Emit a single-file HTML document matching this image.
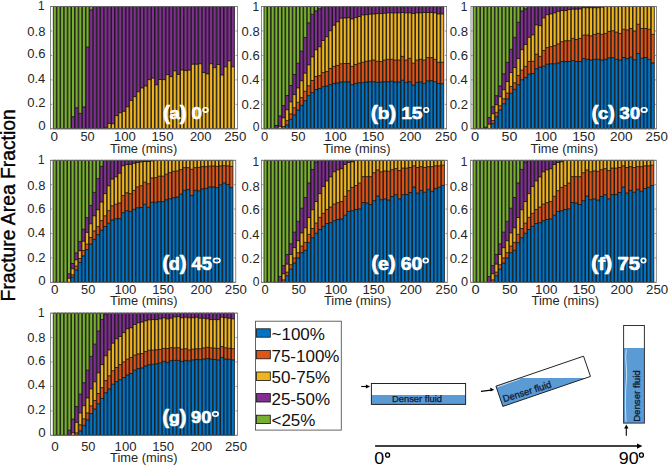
<!DOCTYPE html>
<html><head><meta charset="utf-8"><style>
html,body{margin:0;padding:0;background:#fff;}
svg{display:block;}
text{font-family:"Liberation Sans", sans-serif;}
</style></head><body>
<svg width="669" height="467" viewBox="0 0 669 467">
<rect width="669" height="467" fill="#fff"/>
<g fill="#111">
<rect x="50.5" y="6.5" width="186.9" height="122.3" fill="#fff"/>
<rect x="53.33" y="6.5" width="3.04" height="122.3" fill="#79AF2E"/>
<rect x="56.96" y="6.5" width="3.04" height="122.3" fill="#79AF2E"/>
<rect x="60.6" y="6.5" width="3.04" height="122.3" fill="#79AF2E"/>
<rect x="64.23" y="6.5" width="3.04" height="122.3" fill="#79AF2E"/>
<rect x="67.86" y="6.5" width="3.04" height="122.3" fill="#79AF2E"/>
<rect x="71.5" y="116.69" width="3.04" height="12.11" fill="#812F91"/>
<rect x="71.5" y="6.5" width="3.04" height="110.19" fill="#79AF2E"/>
<rect x="75.13" y="107.76" width="3.04" height="21.04" fill="#812F91"/>
<rect x="75.13" y="6.5" width="3.04" height="101.26" fill="#79AF2E"/>
<rect x="78.77" y="113.39" width="3.04" height="15.41" fill="#812F91"/>
<rect x="78.77" y="6.5" width="3.04" height="106.89" fill="#79AF2E"/>
<rect x="82.4" y="106.91" width="3.04" height="21.89" fill="#812F91"/>
<rect x="82.4" y="6.5" width="3.04" height="100.41" fill="#79AF2E"/>
<rect x="86.03" y="47.1" width="3.04" height="81.7" fill="#812F91"/>
<rect x="86.03" y="6.5" width="3.04" height="40.6" fill="#79AF2E"/>
<rect x="89.67" y="9.8" width="3.04" height="119" fill="#812F91"/>
<rect x="89.67" y="6.5" width="3.04" height="3.3" fill="#79AF2E"/>
<rect x="93.3" y="6.5" width="3.04" height="122.3" fill="#812F91"/>
<rect x="96.93" y="6.5" width="3.04" height="122.3" fill="#812F91"/>
<rect x="100.57" y="6.5" width="3.04" height="122.3" fill="#812F91"/>
<rect x="104.2" y="127.82" width="3.04" height="0.98" fill="#F0B41E"/>
<rect x="104.2" y="6.5" width="3.04" height="121.32" fill="#812F91"/>
<rect x="107.84" y="123.42" width="3.04" height="5.38" fill="#F0B41E"/>
<rect x="107.84" y="6.5" width="3.04" height="116.92" fill="#812F91"/>
<rect x="111.47" y="123.79" width="3.04" height="5.01" fill="#F0B41E"/>
<rect x="111.47" y="6.5" width="3.04" height="117.29" fill="#812F91"/>
<rect x="115.1" y="115.59" width="3.04" height="13.21" fill="#F0B41E"/>
<rect x="115.1" y="6.5" width="3.04" height="109.09" fill="#812F91"/>
<rect x="118.74" y="112.78" width="3.04" height="16.02" fill="#F0B41E"/>
<rect x="118.74" y="6.5" width="3.04" height="106.28" fill="#812F91"/>
<rect x="122.37" y="111.31" width="3.04" height="17.49" fill="#F0B41E"/>
<rect x="122.37" y="6.5" width="3.04" height="104.81" fill="#812F91"/>
<rect x="126" y="106.79" width="3.04" height="22.01" fill="#F0B41E"/>
<rect x="126" y="6.5" width="3.04" height="100.29" fill="#812F91"/>
<rect x="129.64" y="100.43" width="3.04" height="28.37" fill="#F0B41E"/>
<rect x="129.64" y="6.5" width="3.04" height="93.93" fill="#812F91"/>
<rect x="133.27" y="96.64" width="3.04" height="32.16" fill="#F0B41E"/>
<rect x="133.27" y="6.5" width="3.04" height="90.14" fill="#812F91"/>
<rect x="136.9" y="91.74" width="3.04" height="37.06" fill="#F0B41E"/>
<rect x="136.9" y="6.5" width="3.04" height="85.24" fill="#812F91"/>
<rect x="140.54" y="87.95" width="3.04" height="40.85" fill="#F0B41E"/>
<rect x="140.54" y="6.5" width="3.04" height="81.45" fill="#812F91"/>
<rect x="144.17" y="86" width="3.04" height="42.81" fill="#F0B41E"/>
<rect x="144.17" y="6.5" width="3.04" height="79.5" fill="#812F91"/>
<rect x="147.81" y="79.64" width="3.04" height="49.16" fill="#F0B41E"/>
<rect x="147.81" y="6.5" width="3.04" height="73.14" fill="#812F91"/>
<rect x="151.44" y="78.17" width="3.04" height="50.63" fill="#F0B41E"/>
<rect x="151.44" y="6.5" width="3.04" height="71.67" fill="#812F91"/>
<rect x="155.07" y="84.77" width="3.04" height="44.03" fill="#F0B41E"/>
<rect x="155.07" y="6.5" width="3.04" height="78.27" fill="#812F91"/>
<rect x="158.71" y="79.51" width="3.04" height="49.29" fill="#F0B41E"/>
<rect x="158.71" y="6.5" width="3.04" height="73.01" fill="#812F91"/>
<rect x="162.34" y="79.64" width="3.04" height="49.16" fill="#F0B41E"/>
<rect x="162.34" y="6.5" width="3.04" height="73.14" fill="#812F91"/>
<rect x="165.97" y="74.62" width="3.04" height="54.18" fill="#F0B41E"/>
<rect x="165.97" y="6.5" width="3.04" height="68.12" fill="#812F91"/>
<rect x="169.61" y="76.58" width="3.04" height="52.22" fill="#F0B41E"/>
<rect x="169.61" y="6.5" width="3.04" height="70.08" fill="#812F91"/>
<rect x="173.24" y="70.83" width="3.04" height="57.97" fill="#F0B41E"/>
<rect x="173.24" y="6.5" width="3.04" height="64.33" fill="#812F91"/>
<rect x="176.87" y="74.38" width="3.04" height="54.42" fill="#F0B41E"/>
<rect x="176.87" y="6.5" width="3.04" height="67.88" fill="#812F91"/>
<rect x="180.51" y="69.97" width="3.04" height="58.83" fill="#F0B41E"/>
<rect x="180.51" y="6.5" width="3.04" height="63.47" fill="#812F91"/>
<rect x="184.14" y="70.59" width="3.04" height="58.21" fill="#F0B41E"/>
<rect x="184.14" y="6.5" width="3.04" height="64.09" fill="#812F91"/>
<rect x="187.78" y="70.1" width="3.04" height="58.7" fill="#F0B41E"/>
<rect x="187.78" y="6.5" width="3.04" height="63.6" fill="#812F91"/>
<rect x="191.41" y="64.23" width="3.04" height="64.57" fill="#F0B41E"/>
<rect x="191.41" y="6.5" width="3.04" height="57.73" fill="#812F91"/>
<rect x="195.04" y="64.23" width="3.04" height="64.57" fill="#F0B41E"/>
<rect x="195.04" y="6.5" width="3.04" height="57.73" fill="#812F91"/>
<rect x="198.68" y="63.74" width="3.04" height="65.06" fill="#F0B41E"/>
<rect x="198.68" y="6.5" width="3.04" height="57.24" fill="#812F91"/>
<rect x="202.31" y="72.54" width="3.04" height="56.26" fill="#F0B41E"/>
<rect x="202.31" y="6.5" width="3.04" height="66.04" fill="#812F91"/>
<rect x="205.94" y="73.89" width="3.04" height="54.91" fill="#F0B41E"/>
<rect x="205.94" y="6.5" width="3.04" height="67.39" fill="#812F91"/>
<rect x="209.58" y="63.74" width="3.04" height="65.06" fill="#F0B41E"/>
<rect x="209.58" y="6.5" width="3.04" height="57.24" fill="#812F91"/>
<rect x="213.21" y="67.65" width="3.04" height="61.15" fill="#F0B41E"/>
<rect x="213.21" y="6.5" width="3.04" height="61.15" fill="#812F91"/>
<rect x="216.85" y="64.47" width="3.04" height="64.33" fill="#F0B41E"/>
<rect x="216.85" y="6.5" width="3.04" height="57.97" fill="#812F91"/>
<rect x="220.48" y="74.99" width="3.04" height="53.81" fill="#F0B41E"/>
<rect x="220.48" y="6.5" width="3.04" height="68.49" fill="#812F91"/>
<rect x="224.11" y="66.79" width="3.04" height="62.01" fill="#F0B41E"/>
<rect x="224.11" y="6.5" width="3.04" height="60.29" fill="#812F91"/>
<rect x="227.75" y="60.8" width="3.04" height="68" fill="#F0B41E"/>
<rect x="227.75" y="6.5" width="3.04" height="54.3" fill="#812F91"/>
<rect x="231.38" y="66.79" width="3.04" height="62.01" fill="#F0B41E"/>
<rect x="231.38" y="6.5" width="3.04" height="60.29" fill="#812F91"/>
<path d="M53.33 6.5V128.8M56.37 6.5V128.8M53.33 6.5H56.37M53.33 128.8H56.37M56.96 6.5V128.8M60 6.5V128.8M56.96 6.5H60M56.96 128.8H60M60.6 6.5V128.8M63.64 6.5V128.8M60.6 6.5H63.64M60.6 128.8H63.64M64.23 6.5V128.8M67.27 6.5V128.8M64.23 6.5H67.27M64.23 128.8H67.27M67.86 6.5V128.8M70.9 6.5V128.8M67.86 6.5H70.9M67.86 128.8H70.9M71.5 6.5V128.8M74.54 6.5V128.8M71.5 116.69H74.54M71.5 6.5H74.54M71.5 128.8H74.54M75.13 6.5V128.8M78.17 6.5V128.8M75.13 107.76H78.17M75.13 6.5H78.17M75.13 128.8H78.17M78.77 6.5V128.8M81.81 6.5V128.8M78.77 113.39H81.81M78.77 6.5H81.81M78.77 128.8H81.81M82.4 6.5V128.8M85.44 6.5V128.8M82.4 106.91H85.44M82.4 6.5H85.44M82.4 128.8H85.44M86.03 6.5V128.8M89.07 6.5V128.8M86.03 47.1H89.07M86.03 6.5H89.07M86.03 128.8H89.07M89.67 6.5V128.8M92.71 6.5V128.8M89.67 9.8H92.71M89.67 6.5H92.71M89.67 128.8H92.71M93.3 6.5V128.8M96.34 6.5V128.8M93.3 6.5H96.34M93.3 128.8H96.34M96.93 6.5V128.8M99.97 6.5V128.8M96.93 6.5H99.97M96.93 128.8H99.97M100.57 6.5V128.8M103.61 6.5V128.8M100.57 6.5H103.61M100.57 128.8H103.61M104.2 6.5V128.8M107.24 6.5V128.8M104.2 127.82H107.24M104.2 6.5H107.24M104.2 128.8H107.24M107.84 6.5V128.8M110.88 6.5V128.8M107.84 123.42H110.88M107.84 6.5H110.88M107.84 128.8H110.88M111.47 6.5V128.8M114.51 6.5V128.8M111.47 123.79H114.51M111.47 6.5H114.51M111.47 128.8H114.51M115.1 6.5V128.8M118.14 6.5V128.8M115.1 115.59H118.14M115.1 6.5H118.14M115.1 128.8H118.14M118.74 6.5V128.8M121.78 6.5V128.8M118.74 112.78H121.78M118.74 6.5H121.78M118.74 128.8H121.78M122.37 6.5V128.8M125.41 6.5V128.8M122.37 111.31H125.41M122.37 6.5H125.41M122.37 128.8H125.41M126 6.5V128.8M129.04 6.5V128.8M126 106.79H129.04M126 6.5H129.04M126 128.8H129.04M129.64 6.5V128.8M132.68 6.5V128.8M129.64 100.43H132.68M129.64 6.5H132.68M129.64 128.8H132.68M133.27 6.5V128.8M136.31 6.5V128.8M133.27 96.64H136.31M133.27 6.5H136.31M133.27 128.8H136.31M136.9 6.5V128.8M139.94 6.5V128.8M136.9 91.74H139.94M136.9 6.5H139.94M136.9 128.8H139.94M140.54 6.5V128.8M143.58 6.5V128.8M140.54 87.95H143.58M140.54 6.5H143.58M140.54 128.8H143.58M144.17 6.5V128.8M147.21 6.5V128.8M144.17 86H147.21M144.17 6.5H147.21M144.17 128.8H147.21M147.81 6.5V128.8M150.85 6.5V128.8M147.81 79.64H150.85M147.81 6.5H150.85M147.81 128.8H150.85M151.44 6.5V128.8M154.48 6.5V128.8M151.44 78.17H154.48M151.44 6.5H154.48M151.44 128.8H154.48M155.07 6.5V128.8M158.11 6.5V128.8M155.07 84.77H158.11M155.07 6.5H158.11M155.07 128.8H158.11M158.71 6.5V128.8M161.75 6.5V128.8M158.71 79.51H161.75M158.71 6.5H161.75M158.71 128.8H161.75M162.34 6.5V128.8M165.38 6.5V128.8M162.34 79.64H165.38M162.34 6.5H165.38M162.34 128.8H165.38M165.97 6.5V128.8M169.01 6.5V128.8M165.97 74.62H169.01M165.97 6.5H169.01M165.97 128.8H169.01M169.61 6.5V128.8M172.65 6.5V128.8M169.61 76.58H172.65M169.61 6.5H172.65M169.61 128.8H172.65M173.24 6.5V128.8M176.28 6.5V128.8M173.24 70.83H176.28M173.24 6.5H176.28M173.24 128.8H176.28M176.87 6.5V128.8M179.91 6.5V128.8M176.87 74.38H179.91M176.87 6.5H179.91M176.87 128.8H179.91M180.51 6.5V128.8M183.55 6.5V128.8M180.51 69.97H183.55M180.51 6.5H183.55M180.51 128.8H183.55M184.14 6.5V128.8M187.18 6.5V128.8M184.14 70.59H187.18M184.14 6.5H187.18M184.14 128.8H187.18M187.78 6.5V128.8M190.82 6.5V128.8M187.78 70.1H190.82M187.78 6.5H190.82M187.78 128.8H190.82M191.41 6.5V128.8M194.45 6.5V128.8M191.41 64.23H194.45M191.41 6.5H194.45M191.41 128.8H194.45M195.04 6.5V128.8M198.08 6.5V128.8M195.04 64.23H198.08M195.04 6.5H198.08M195.04 128.8H198.08M198.68 6.5V128.8M201.72 6.5V128.8M198.68 63.74H201.72M198.68 6.5H201.72M198.68 128.8H201.72M202.31 6.5V128.8M205.35 6.5V128.8M202.31 72.54H205.35M202.31 6.5H205.35M202.31 128.8H205.35M205.94 6.5V128.8M208.98 6.5V128.8M205.94 73.89H208.98M205.94 6.5H208.98M205.94 128.8H208.98M209.58 6.5V128.8M212.62 6.5V128.8M209.58 63.74H212.62M209.58 6.5H212.62M209.58 128.8H212.62M213.21 6.5V128.8M216.25 6.5V128.8M213.21 67.65H216.25M213.21 6.5H216.25M213.21 128.8H216.25M216.85 6.5V128.8M219.89 6.5V128.8M216.85 64.47H219.89M216.85 6.5H219.89M216.85 128.8H219.89M220.48 6.5V128.8M223.52 6.5V128.8M220.48 74.99H223.52M220.48 6.5H223.52M220.48 128.8H223.52M224.11 6.5V128.8M227.15 6.5V128.8M224.11 66.79H227.15M224.11 6.5H227.15M224.11 128.8H227.15M227.75 6.5V128.8M230.79 6.5V128.8M227.75 60.8H230.79M227.75 6.5H230.79M227.75 128.8H230.79M231.38 6.5V128.8M234.42 6.5V128.8M231.38 66.79H234.42M231.38 6.5H234.42M231.38 128.8H234.42" stroke="#000" stroke-width="0.75" fill="none"/>
<rect x="50.5" y="6.5" width="186.9" height="122.3" fill="none" stroke="#6e6e6e" stroke-width="0.8"/>
<path d="M50.5 128.8h1.8M237.4 128.8h-1.8M50.5 104.34h1.8M237.4 104.34h-1.8M50.5 79.88h1.8M237.4 79.88h-1.8M50.5 55.42h1.8M237.4 55.42h-1.8M50.5 30.96h1.8M237.4 30.96h-1.8M50.5 6.5h1.8M237.4 6.5h-1.8" stroke="#6e6e6e" stroke-width="0.7"/>
<rect x="261.6" y="6.5" width="185" height="122.3" fill="#fff"/>
<rect x="263.98" y="6.5" width="3.04" height="122.3" fill="#79AF2E"/>
<rect x="267.59" y="6.5" width="3.04" height="122.3" fill="#79AF2E"/>
<rect x="271.19" y="6.5" width="3.04" height="122.3" fill="#79AF2E"/>
<rect x="274.8" y="125.5" width="3.04" height="3.3" fill="#812F91"/>
<rect x="274.8" y="6.5" width="3.04" height="119" fill="#79AF2E"/>
<rect x="278.4" y="126.35" width="3.04" height="2.45" fill="#F0B41E"/>
<rect x="278.4" y="115.96" width="3.04" height="10.4" fill="#812F91"/>
<rect x="278.4" y="6.5" width="3.04" height="109.46" fill="#79AF2E"/>
<rect x="282.01" y="126.6" width="3.04" height="2.2" fill="#DE5518"/>
<rect x="282.01" y="117.79" width="3.04" height="8.81" fill="#F0B41E"/>
<rect x="282.01" y="105.56" width="3.04" height="12.23" fill="#812F91"/>
<rect x="282.01" y="6.5" width="3.04" height="99.06" fill="#79AF2E"/>
<rect x="285.62" y="124.89" width="3.04" height="3.91" fill="#0075C6"/>
<rect x="285.62" y="120.61" width="3.04" height="4.28" fill="#DE5518"/>
<rect x="285.62" y="109.72" width="3.04" height="10.88" fill="#F0B41E"/>
<rect x="285.62" y="95.53" width="3.04" height="14.19" fill="#812F91"/>
<rect x="285.62" y="6.5" width="3.04" height="89.03" fill="#79AF2E"/>
<rect x="289.22" y="119.38" width="3.04" height="9.42" fill="#0075C6"/>
<rect x="289.22" y="113.88" width="3.04" height="5.5" fill="#DE5518"/>
<rect x="289.22" y="101.89" width="3.04" height="11.99" fill="#F0B41E"/>
<rect x="289.22" y="85.51" width="3.04" height="16.39" fill="#812F91"/>
<rect x="289.22" y="6.5" width="3.04" height="79.01" fill="#79AF2E"/>
<rect x="292.83" y="114.86" width="3.04" height="13.94" fill="#0075C6"/>
<rect x="292.83" y="107.76" width="3.04" height="7.09" fill="#DE5518"/>
<rect x="292.83" y="94.56" width="3.04" height="13.21" fill="#F0B41E"/>
<rect x="292.83" y="74.5" width="3.04" height="20.06" fill="#812F91"/>
<rect x="292.83" y="6.5" width="3.04" height="68" fill="#79AF2E"/>
<rect x="296.44" y="109.97" width="3.04" height="18.83" fill="#0075C6"/>
<rect x="296.44" y="102.26" width="3.04" height="7.7" fill="#DE5518"/>
<rect x="296.44" y="87.95" width="3.04" height="14.31" fill="#F0B41E"/>
<rect x="296.44" y="63.25" width="3.04" height="24.7" fill="#812F91"/>
<rect x="296.44" y="6.5" width="3.04" height="56.75" fill="#79AF2E"/>
<rect x="300.04" y="105.32" width="3.04" height="23.48" fill="#0075C6"/>
<rect x="300.04" y="97.61" width="3.04" height="7.7" fill="#DE5518"/>
<rect x="300.04" y="80.74" width="3.04" height="16.88" fill="#F0B41E"/>
<rect x="300.04" y="51.14" width="3.04" height="29.6" fill="#812F91"/>
<rect x="300.04" y="6.5" width="3.04" height="44.64" fill="#79AF2E"/>
<rect x="303.65" y="100.67" width="3.04" height="28.13" fill="#0075C6"/>
<rect x="303.65" y="91.25" width="3.04" height="9.42" fill="#DE5518"/>
<rect x="303.65" y="73.15" width="3.04" height="18.1" fill="#F0B41E"/>
<rect x="303.65" y="37.56" width="3.04" height="35.59" fill="#812F91"/>
<rect x="303.65" y="6.5" width="3.04" height="31.06" fill="#79AF2E"/>
<rect x="307.25" y="95.66" width="3.04" height="33.14" fill="#0075C6"/>
<rect x="307.25" y="85.75" width="3.04" height="9.91" fill="#DE5518"/>
<rect x="307.25" y="64.84" width="3.04" height="20.91" fill="#F0B41E"/>
<rect x="307.25" y="22.89" width="3.04" height="41.95" fill="#812F91"/>
<rect x="307.25" y="6.5" width="3.04" height="16.39" fill="#79AF2E"/>
<rect x="310.86" y="92.6" width="3.04" height="36.2" fill="#0075C6"/>
<rect x="310.86" y="80.49" width="3.04" height="12.11" fill="#DE5518"/>
<rect x="310.86" y="56.89" width="3.04" height="23.6" fill="#F0B41E"/>
<rect x="310.86" y="14.33" width="3.04" height="42.56" fill="#812F91"/>
<rect x="310.86" y="6.5" width="3.04" height="7.83" fill="#79AF2E"/>
<rect x="314.47" y="89.54" width="3.04" height="39.26" fill="#0075C6"/>
<rect x="314.47" y="76.46" width="3.04" height="13.09" fill="#DE5518"/>
<rect x="314.47" y="49.79" width="3.04" height="26.66" fill="#F0B41E"/>
<rect x="314.47" y="10.9" width="3.04" height="38.89" fill="#812F91"/>
<rect x="314.47" y="6.5" width="3.04" height="4.4" fill="#79AF2E"/>
<rect x="318.07" y="88.44" width="3.04" height="40.36" fill="#0075C6"/>
<rect x="318.07" y="75.6" width="3.04" height="12.84" fill="#DE5518"/>
<rect x="318.07" y="46.74" width="3.04" height="28.86" fill="#F0B41E"/>
<rect x="318.07" y="8.7" width="3.04" height="38.04" fill="#812F91"/>
<rect x="318.07" y="6.5" width="3.04" height="2.2" fill="#79AF2E"/>
<rect x="321.68" y="86.61" width="3.04" height="42.19" fill="#0075C6"/>
<rect x="321.68" y="72.54" width="3.04" height="14.06" fill="#DE5518"/>
<rect x="321.68" y="40.5" width="3.04" height="32.04" fill="#F0B41E"/>
<rect x="321.68" y="6.5" width="3.04" height="34" fill="#812F91"/>
<rect x="325.28" y="86" width="3.04" height="42.81" fill="#0075C6"/>
<rect x="325.28" y="71.56" width="3.04" height="14.43" fill="#DE5518"/>
<rect x="325.28" y="36.71" width="3.04" height="34.86" fill="#F0B41E"/>
<rect x="325.28" y="6.5" width="3.04" height="30.21" fill="#812F91"/>
<rect x="328.89" y="84.65" width="3.04" height="44.15" fill="#0075C6"/>
<rect x="328.89" y="68.51" width="3.04" height="16.14" fill="#DE5518"/>
<rect x="328.89" y="30.72" width="3.04" height="37.79" fill="#F0B41E"/>
<rect x="328.89" y="6.5" width="3.04" height="24.22" fill="#812F91"/>
<rect x="332.5" y="83.43" width="3.04" height="45.37" fill="#0075C6"/>
<rect x="332.5" y="66.43" width="3.04" height="17" fill="#DE5518"/>
<rect x="332.5" y="25.21" width="3.04" height="41.22" fill="#F0B41E"/>
<rect x="332.5" y="6.5" width="3.04" height="18.71" fill="#812F91"/>
<rect x="336.1" y="82.94" width="3.04" height="45.86" fill="#0075C6"/>
<rect x="336.1" y="65.45" width="3.04" height="17.49" fill="#DE5518"/>
<rect x="336.1" y="21.79" width="3.04" height="43.66" fill="#F0B41E"/>
<rect x="336.1" y="6.5" width="3.04" height="15.29" fill="#812F91"/>
<rect x="339.71" y="81.96" width="3.04" height="46.84" fill="#0075C6"/>
<rect x="339.71" y="63.74" width="3.04" height="18.22" fill="#DE5518"/>
<rect x="339.71" y="18.24" width="3.04" height="45.5" fill="#F0B41E"/>
<rect x="339.71" y="6.5" width="3.04" height="11.74" fill="#812F91"/>
<rect x="343.31" y="81.84" width="3.04" height="46.96" fill="#0075C6"/>
<rect x="343.31" y="63.49" width="3.04" height="18.35" fill="#DE5518"/>
<rect x="343.31" y="18" width="3.04" height="45.5" fill="#F0B41E"/>
<rect x="343.31" y="6.5" width="3.04" height="11.5" fill="#812F91"/>
<rect x="346.92" y="81.96" width="3.04" height="46.84" fill="#0075C6"/>
<rect x="346.92" y="63.49" width="3.04" height="18.47" fill="#DE5518"/>
<rect x="346.92" y="17.75" width="3.04" height="45.74" fill="#F0B41E"/>
<rect x="346.92" y="6.5" width="3.04" height="11.25" fill="#812F91"/>
<rect x="350.53" y="84.65" width="3.04" height="44.15" fill="#0075C6"/>
<rect x="350.53" y="66.43" width="3.04" height="18.22" fill="#DE5518"/>
<rect x="350.53" y="18.97" width="3.04" height="47.45" fill="#F0B41E"/>
<rect x="350.53" y="6.5" width="3.04" height="12.47" fill="#812F91"/>
<rect x="354.13" y="83.43" width="3.04" height="45.37" fill="#0075C6"/>
<rect x="354.13" y="64.47" width="3.04" height="18.96" fill="#DE5518"/>
<rect x="354.13" y="17.63" width="3.04" height="46.84" fill="#F0B41E"/>
<rect x="354.13" y="6.5" width="3.04" height="11.13" fill="#812F91"/>
<rect x="357.74" y="82.69" width="3.04" height="46.11" fill="#0075C6"/>
<rect x="357.74" y="63.25" width="3.04" height="19.45" fill="#DE5518"/>
<rect x="357.74" y="16.53" width="3.04" height="46.72" fill="#F0B41E"/>
<rect x="357.74" y="6.5" width="3.04" height="10.03" fill="#812F91"/>
<rect x="361.35" y="82.69" width="3.04" height="46.11" fill="#0075C6"/>
<rect x="361.35" y="62.27" width="3.04" height="20.42" fill="#DE5518"/>
<rect x="361.35" y="14.94" width="3.04" height="47.33" fill="#F0B41E"/>
<rect x="361.35" y="6.5" width="3.04" height="8.44" fill="#812F91"/>
<rect x="364.95" y="81.96" width="3.04" height="46.84" fill="#0075C6"/>
<rect x="364.95" y="61.29" width="3.04" height="20.67" fill="#DE5518"/>
<rect x="364.95" y="14.69" width="3.04" height="46.6" fill="#F0B41E"/>
<rect x="364.95" y="6.5" width="3.04" height="8.19" fill="#812F91"/>
<rect x="368.56" y="81.71" width="3.04" height="47.09" fill="#0075C6"/>
<rect x="368.56" y="60.8" width="3.04" height="20.91" fill="#DE5518"/>
<rect x="368.56" y="14.2" width="3.04" height="46.6" fill="#F0B41E"/>
<rect x="368.56" y="6.5" width="3.04" height="7.7" fill="#812F91"/>
<rect x="372.16" y="81.71" width="3.04" height="47.09" fill="#0075C6"/>
<rect x="372.16" y="60.07" width="3.04" height="21.65" fill="#DE5518"/>
<rect x="372.16" y="13.96" width="3.04" height="46.11" fill="#F0B41E"/>
<rect x="372.16" y="6.5" width="3.04" height="7.46" fill="#812F91"/>
<rect x="375.77" y="82.33" width="3.04" height="46.47" fill="#0075C6"/>
<rect x="375.77" y="61.29" width="3.04" height="21.04" fill="#DE5518"/>
<rect x="375.77" y="13.59" width="3.04" height="47.7" fill="#F0B41E"/>
<rect x="375.77" y="6.5" width="3.04" height="7.09" fill="#812F91"/>
<rect x="379.38" y="81.96" width="3.04" height="46.84" fill="#0075C6"/>
<rect x="379.38" y="61.53" width="3.04" height="20.42" fill="#DE5518"/>
<rect x="379.38" y="13.59" width="3.04" height="47.94" fill="#F0B41E"/>
<rect x="379.38" y="6.5" width="3.04" height="7.09" fill="#812F91"/>
<rect x="382.98" y="81.71" width="3.04" height="47.09" fill="#0075C6"/>
<rect x="382.98" y="60.07" width="3.04" height="21.65" fill="#DE5518"/>
<rect x="382.98" y="13.23" width="3.04" height="46.84" fill="#F0B41E"/>
<rect x="382.98" y="6.5" width="3.04" height="6.73" fill="#812F91"/>
<rect x="386.59" y="81.71" width="3.04" height="47.09" fill="#0075C6"/>
<rect x="386.59" y="59.33" width="3.04" height="22.38" fill="#DE5518"/>
<rect x="386.59" y="12.86" width="3.04" height="46.47" fill="#F0B41E"/>
<rect x="386.59" y="6.5" width="3.04" height="6.36" fill="#812F91"/>
<rect x="390.19" y="81.23" width="3.04" height="47.57" fill="#0075C6"/>
<rect x="390.19" y="59.33" width="3.04" height="21.89" fill="#DE5518"/>
<rect x="390.19" y="12.86" width="3.04" height="46.47" fill="#F0B41E"/>
<rect x="390.19" y="6.5" width="3.04" height="6.36" fill="#812F91"/>
<rect x="393.8" y="81.96" width="3.04" height="46.84" fill="#0075C6"/>
<rect x="393.8" y="60.07" width="3.04" height="21.89" fill="#DE5518"/>
<rect x="393.8" y="12.86" width="3.04" height="47.21" fill="#F0B41E"/>
<rect x="393.8" y="6.5" width="3.04" height="6.36" fill="#812F91"/>
<rect x="397.41" y="81.96" width="3.04" height="46.84" fill="#0075C6"/>
<rect x="397.41" y="60.07" width="3.04" height="21.89" fill="#DE5518"/>
<rect x="397.41" y="12.86" width="3.04" height="47.21" fill="#F0B41E"/>
<rect x="397.41" y="6.5" width="3.04" height="6.36" fill="#812F91"/>
<rect x="401.01" y="80.25" width="3.04" height="48.55" fill="#0075C6"/>
<rect x="401.01" y="56.4" width="3.04" height="23.85" fill="#DE5518"/>
<rect x="401.01" y="12.49" width="3.04" height="43.91" fill="#F0B41E"/>
<rect x="401.01" y="6.5" width="3.04" height="5.99" fill="#812F91"/>
<rect x="404.62" y="82.33" width="3.04" height="46.47" fill="#0075C6"/>
<rect x="404.62" y="60.07" width="3.04" height="22.26" fill="#DE5518"/>
<rect x="404.62" y="12.86" width="3.04" height="47.21" fill="#F0B41E"/>
<rect x="404.62" y="6.5" width="3.04" height="6.36" fill="#812F91"/>
<rect x="408.22" y="81.71" width="3.04" height="47.09" fill="#0075C6"/>
<rect x="408.22" y="58.36" width="3.04" height="23.36" fill="#DE5518"/>
<rect x="408.22" y="12.86" width="3.04" height="45.5" fill="#F0B41E"/>
<rect x="408.22" y="6.5" width="3.04" height="6.36" fill="#812F91"/>
<rect x="411.83" y="85.02" width="3.04" height="43.78" fill="#0075C6"/>
<rect x="411.83" y="63.25" width="3.04" height="21.77" fill="#DE5518"/>
<rect x="411.83" y="13.47" width="3.04" height="49.78" fill="#F0B41E"/>
<rect x="411.83" y="6.5" width="3.04" height="6.97" fill="#812F91"/>
<rect x="415.44" y="82.33" width="3.04" height="46.47" fill="#0075C6"/>
<rect x="415.44" y="60.07" width="3.04" height="22.26" fill="#DE5518"/>
<rect x="415.44" y="12.86" width="3.04" height="47.21" fill="#F0B41E"/>
<rect x="415.44" y="6.5" width="3.04" height="6.36" fill="#812F91"/>
<rect x="419.04" y="81.96" width="3.04" height="46.84" fill="#0075C6"/>
<rect x="419.04" y="59.33" width="3.04" height="22.63" fill="#DE5518"/>
<rect x="419.04" y="12.86" width="3.04" height="46.47" fill="#F0B41E"/>
<rect x="419.04" y="6.5" width="3.04" height="6.36" fill="#812F91"/>
<rect x="422.65" y="83.43" width="3.04" height="45.37" fill="#0075C6"/>
<rect x="422.65" y="60.07" width="3.04" height="23.36" fill="#DE5518"/>
<rect x="422.65" y="12.49" width="3.04" height="47.57" fill="#F0B41E"/>
<rect x="422.65" y="6.5" width="3.04" height="5.99" fill="#812F91"/>
<rect x="426.26" y="80.86" width="3.04" height="47.94" fill="#0075C6"/>
<rect x="426.26" y="57.62" width="3.04" height="23.24" fill="#DE5518"/>
<rect x="426.26" y="12.49" width="3.04" height="45.13" fill="#F0B41E"/>
<rect x="426.26" y="6.5" width="3.04" height="5.99" fill="#812F91"/>
<rect x="429.86" y="80.61" width="3.04" height="48.19" fill="#0075C6"/>
<rect x="429.86" y="57.62" width="3.04" height="22.99" fill="#DE5518"/>
<rect x="429.86" y="12.49" width="3.04" height="45.13" fill="#F0B41E"/>
<rect x="429.86" y="6.5" width="3.04" height="5.99" fill="#812F91"/>
<rect x="433.47" y="81.71" width="3.04" height="47.09" fill="#0075C6"/>
<rect x="433.47" y="59.33" width="3.04" height="22.38" fill="#DE5518"/>
<rect x="433.47" y="12.86" width="3.04" height="46.47" fill="#F0B41E"/>
<rect x="433.47" y="6.5" width="3.04" height="6.36" fill="#812F91"/>
<rect x="437.07" y="83.43" width="3.04" height="45.37" fill="#0075C6"/>
<rect x="437.07" y="62.27" width="3.04" height="21.16" fill="#DE5518"/>
<rect x="437.07" y="13.96" width="3.04" height="48.31" fill="#F0B41E"/>
<rect x="437.07" y="6.5" width="3.04" height="7.46" fill="#812F91"/>
<rect x="440.68" y="83.67" width="3.04" height="45.13" fill="#0075C6"/>
<rect x="440.68" y="62.27" width="3.04" height="21.4" fill="#DE5518"/>
<rect x="440.68" y="13.96" width="3.04" height="48.31" fill="#F0B41E"/>
<rect x="440.68" y="6.5" width="3.04" height="7.46" fill="#812F91"/>
<path d="M263.98 6.5V128.8M267.02 6.5V128.8M263.98 6.5H267.02M263.98 128.8H267.02M267.59 6.5V128.8M270.63 6.5V128.8M267.59 6.5H270.63M267.59 128.8H270.63M271.19 6.5V128.8M274.23 6.5V128.8M271.19 6.5H274.23M271.19 128.8H274.23M274.8 6.5V128.8M277.84 6.5V128.8M274.8 125.5H277.84M274.8 6.5H277.84M274.8 128.8H277.84M278.4 6.5V128.8M281.44 6.5V128.8M278.4 126.35H281.44M278.4 115.96H281.44M278.4 6.5H281.44M278.4 128.8H281.44M282.01 6.5V128.8M285.05 6.5V128.8M282.01 126.6H285.05M282.01 117.79H285.05M282.01 105.56H285.05M282.01 6.5H285.05M282.01 128.8H285.05M285.62 6.5V128.8M288.66 6.5V128.8M285.62 124.89H288.66M285.62 120.61H288.66M285.62 109.72H288.66M285.62 95.53H288.66M285.62 6.5H288.66M285.62 128.8H288.66M289.22 6.5V128.8M292.26 6.5V128.8M289.22 119.38H292.26M289.22 113.88H292.26M289.22 101.89H292.26M289.22 85.51H292.26M289.22 6.5H292.26M289.22 128.8H292.26M292.83 6.5V128.8M295.87 6.5V128.8M292.83 114.86H295.87M292.83 107.76H295.87M292.83 94.56H295.87M292.83 74.5H295.87M292.83 6.5H295.87M292.83 128.8H295.87M296.44 6.5V128.8M299.48 6.5V128.8M296.44 109.97H299.48M296.44 102.26H299.48M296.44 87.95H299.48M296.44 63.25H299.48M296.44 6.5H299.48M296.44 128.8H299.48M300.04 6.5V128.8M303.08 6.5V128.8M300.04 105.32H303.08M300.04 97.61H303.08M300.04 80.74H303.08M300.04 51.14H303.08M300.04 6.5H303.08M300.04 128.8H303.08M303.65 6.5V128.8M306.69 6.5V128.8M303.65 100.67H306.69M303.65 91.25H306.69M303.65 73.15H306.69M303.65 37.56H306.69M303.65 6.5H306.69M303.65 128.8H306.69M307.25 6.5V128.8M310.29 6.5V128.8M307.25 95.66H310.29M307.25 85.75H310.29M307.25 64.84H310.29M307.25 22.89H310.29M307.25 6.5H310.29M307.25 128.8H310.29M310.86 6.5V128.8M313.9 6.5V128.8M310.86 92.6H313.9M310.86 80.49H313.9M310.86 56.89H313.9M310.86 14.33H313.9M310.86 6.5H313.9M310.86 128.8H313.9M314.47 6.5V128.8M317.51 6.5V128.8M314.47 89.54H317.51M314.47 76.46H317.51M314.47 49.79H317.51M314.47 10.9H317.51M314.47 6.5H317.51M314.47 128.8H317.51M318.07 6.5V128.8M321.11 6.5V128.8M318.07 88.44H321.11M318.07 75.6H321.11M318.07 46.74H321.11M318.07 8.7H321.11M318.07 6.5H321.11M318.07 128.8H321.11M321.68 6.5V128.8M324.72 6.5V128.8M321.68 86.61H324.72M321.68 72.54H324.72M321.68 40.5H324.72M321.68 6.5H324.72M321.68 128.8H324.72M325.28 6.5V128.8M328.32 6.5V128.8M325.28 86H328.32M325.28 71.56H328.32M325.28 36.71H328.32M325.28 6.5H328.32M325.28 128.8H328.32M328.89 6.5V128.8M331.93 6.5V128.8M328.89 84.65H331.93M328.89 68.51H331.93M328.89 30.72H331.93M328.89 6.5H331.93M328.89 128.8H331.93M332.5 6.5V128.8M335.54 6.5V128.8M332.5 83.43H335.54M332.5 66.43H335.54M332.5 25.21H335.54M332.5 6.5H335.54M332.5 128.8H335.54M336.1 6.5V128.8M339.14 6.5V128.8M336.1 82.94H339.14M336.1 65.45H339.14M336.1 21.79H339.14M336.1 6.5H339.14M336.1 128.8H339.14M339.71 6.5V128.8M342.75 6.5V128.8M339.71 81.96H342.75M339.71 63.74H342.75M339.71 18.24H342.75M339.71 6.5H342.75M339.71 128.8H342.75M343.31 6.5V128.8M346.35 6.5V128.8M343.31 81.84H346.35M343.31 63.49H346.35M343.31 18H346.35M343.31 6.5H346.35M343.31 128.8H346.35M346.92 6.5V128.8M349.96 6.5V128.8M346.92 81.96H349.96M346.92 63.49H349.96M346.92 17.75H349.96M346.92 6.5H349.96M346.92 128.8H349.96M350.53 6.5V128.8M353.57 6.5V128.8M350.53 84.65H353.57M350.53 66.43H353.57M350.53 18.97H353.57M350.53 6.5H353.57M350.53 128.8H353.57M354.13 6.5V128.8M357.17 6.5V128.8M354.13 83.43H357.17M354.13 64.47H357.17M354.13 17.63H357.17M354.13 6.5H357.17M354.13 128.8H357.17M357.74 6.5V128.8M360.78 6.5V128.8M357.74 82.69H360.78M357.74 63.25H360.78M357.74 16.53H360.78M357.74 6.5H360.78M357.74 128.8H360.78M361.35 6.5V128.8M364.39 6.5V128.8M361.35 82.69H364.39M361.35 62.27H364.39M361.35 14.94H364.39M361.35 6.5H364.39M361.35 128.8H364.39M364.95 6.5V128.8M367.99 6.5V128.8M364.95 81.96H367.99M364.95 61.29H367.99M364.95 14.69H367.99M364.95 6.5H367.99M364.95 128.8H367.99M368.56 6.5V128.8M371.6 6.5V128.8M368.56 81.71H371.6M368.56 60.8H371.6M368.56 14.2H371.6M368.56 6.5H371.6M368.56 128.8H371.6M372.16 6.5V128.8M375.2 6.5V128.8M372.16 81.71H375.2M372.16 60.07H375.2M372.16 13.96H375.2M372.16 6.5H375.2M372.16 128.8H375.2M375.77 6.5V128.8M378.81 6.5V128.8M375.77 82.33H378.81M375.77 61.29H378.81M375.77 13.59H378.81M375.77 6.5H378.81M375.77 128.8H378.81M379.38 6.5V128.8M382.42 6.5V128.8M379.38 81.96H382.42M379.38 61.53H382.42M379.38 13.59H382.42M379.38 6.5H382.42M379.38 128.8H382.42M382.98 6.5V128.8M386.02 6.5V128.8M382.98 81.71H386.02M382.98 60.07H386.02M382.98 13.23H386.02M382.98 6.5H386.02M382.98 128.8H386.02M386.59 6.5V128.8M389.63 6.5V128.8M386.59 81.71H389.63M386.59 59.33H389.63M386.59 12.86H389.63M386.59 6.5H389.63M386.59 128.8H389.63M390.19 6.5V128.8M393.23 6.5V128.8M390.19 81.23H393.23M390.19 59.33H393.23M390.19 12.86H393.23M390.19 6.5H393.23M390.19 128.8H393.23M393.8 6.5V128.8M396.84 6.5V128.8M393.8 81.96H396.84M393.8 60.07H396.84M393.8 12.86H396.84M393.8 6.5H396.84M393.8 128.8H396.84M397.41 6.5V128.8M400.45 6.5V128.8M397.41 81.96H400.45M397.41 60.07H400.45M397.41 12.86H400.45M397.41 6.5H400.45M397.41 128.8H400.45M401.01 6.5V128.8M404.05 6.5V128.8M401.01 80.25H404.05M401.01 56.4H404.05M401.01 12.49H404.05M401.01 6.5H404.05M401.01 128.8H404.05M404.62 6.5V128.8M407.66 6.5V128.8M404.62 82.33H407.66M404.62 60.07H407.66M404.62 12.86H407.66M404.62 6.5H407.66M404.62 128.8H407.66M408.22 6.5V128.8M411.26 6.5V128.8M408.22 81.71H411.26M408.22 58.36H411.26M408.22 12.86H411.26M408.22 6.5H411.26M408.22 128.8H411.26M411.83 6.5V128.8M414.87 6.5V128.8M411.83 85.02H414.87M411.83 63.25H414.87M411.83 13.47H414.87M411.83 6.5H414.87M411.83 128.8H414.87M415.44 6.5V128.8M418.48 6.5V128.8M415.44 82.33H418.48M415.44 60.07H418.48M415.44 12.86H418.48M415.44 6.5H418.48M415.44 128.8H418.48M419.04 6.5V128.8M422.08 6.5V128.8M419.04 81.96H422.08M419.04 59.33H422.08M419.04 12.86H422.08M419.04 6.5H422.08M419.04 128.8H422.08M422.65 6.5V128.8M425.69 6.5V128.8M422.65 83.43H425.69M422.65 60.07H425.69M422.65 12.49H425.69M422.65 6.5H425.69M422.65 128.8H425.69M426.26 6.5V128.8M429.3 6.5V128.8M426.26 80.86H429.3M426.26 57.62H429.3M426.26 12.49H429.3M426.26 6.5H429.3M426.26 128.8H429.3M429.86 6.5V128.8M432.9 6.5V128.8M429.86 80.61H432.9M429.86 57.62H432.9M429.86 12.49H432.9M429.86 6.5H432.9M429.86 128.8H432.9M433.47 6.5V128.8M436.51 6.5V128.8M433.47 81.71H436.51M433.47 59.33H436.51M433.47 12.86H436.51M433.47 6.5H436.51M433.47 128.8H436.51M437.07 6.5V128.8M440.11 6.5V128.8M437.07 83.43H440.11M437.07 62.27H440.11M437.07 13.96H440.11M437.07 6.5H440.11M437.07 128.8H440.11M440.68 6.5V128.8M443.72 6.5V128.8M440.68 83.67H443.72M440.68 62.27H443.72M440.68 13.96H443.72M440.68 6.5H443.72M440.68 128.8H443.72" stroke="#000" stroke-width="0.75" fill="none"/>
<rect x="261.6" y="6.5" width="185" height="122.3" fill="none" stroke="#6e6e6e" stroke-width="0.8"/>
<path d="M261.6 128.8h1.8M446.6 128.8h-1.8M261.6 104.34h1.8M446.6 104.34h-1.8M261.6 79.88h1.8M446.6 79.88h-1.8M261.6 55.42h1.8M446.6 55.42h-1.8M261.6 30.96h1.8M446.6 30.96h-1.8M261.6 6.5h1.8M446.6 6.5h-1.8" stroke="#6e6e6e" stroke-width="0.7"/>
<rect x="471" y="6.5" width="185.5" height="122.3" fill="#fff"/>
<rect x="473.18" y="6.5" width="3.04" height="122.3" fill="#79AF2E"/>
<rect x="476.81" y="6.5" width="3.04" height="122.3" fill="#79AF2E"/>
<rect x="480.45" y="6.5" width="3.04" height="122.3" fill="#79AF2E"/>
<rect x="484.08" y="127.21" width="3.04" height="1.59" fill="#812F91"/>
<rect x="484.08" y="6.5" width="3.04" height="120.71" fill="#79AF2E"/>
<rect x="487.72" y="124.15" width="3.04" height="4.65" fill="#F0B41E"/>
<rect x="487.72" y="117.55" width="3.04" height="6.6" fill="#812F91"/>
<rect x="487.72" y="6.5" width="3.04" height="111.05" fill="#79AF2E"/>
<rect x="491.35" y="123.66" width="3.04" height="5.14" fill="#0075C6"/>
<rect x="491.35" y="120.61" width="3.04" height="3.06" fill="#DE5518"/>
<rect x="491.35" y="113.76" width="3.04" height="6.85" fill="#F0B41E"/>
<rect x="491.35" y="106.66" width="3.04" height="7.09" fill="#812F91"/>
<rect x="491.35" y="6.5" width="3.04" height="100.16" fill="#79AF2E"/>
<rect x="494.99" y="116.69" width="3.04" height="12.11" fill="#0075C6"/>
<rect x="494.99" y="112.29" width="3.04" height="4.4" fill="#DE5518"/>
<rect x="494.99" y="104.71" width="3.04" height="7.58" fill="#F0B41E"/>
<rect x="494.99" y="95.66" width="3.04" height="9.05" fill="#812F91"/>
<rect x="494.99" y="6.5" width="3.04" height="89.16" fill="#79AF2E"/>
<rect x="498.62" y="109.97" width="3.04" height="18.83" fill="#0075C6"/>
<rect x="498.62" y="105.69" width="3.04" height="4.28" fill="#DE5518"/>
<rect x="498.62" y="96.76" width="3.04" height="8.93" fill="#F0B41E"/>
<rect x="498.62" y="86" width="3.04" height="10.76" fill="#812F91"/>
<rect x="498.62" y="6.5" width="3.04" height="79.5" fill="#79AF2E"/>
<rect x="502.26" y="103.73" width="3.04" height="25.07" fill="#0075C6"/>
<rect x="502.26" y="98.71" width="3.04" height="5.01" fill="#DE5518"/>
<rect x="502.26" y="89.66" width="3.04" height="9.05" fill="#F0B41E"/>
<rect x="502.26" y="73.77" width="3.04" height="15.9" fill="#812F91"/>
<rect x="502.26" y="6.5" width="3.04" height="67.27" fill="#79AF2E"/>
<rect x="505.89" y="98.84" width="3.04" height="29.96" fill="#0075C6"/>
<rect x="505.89" y="93.09" width="3.04" height="5.75" fill="#DE5518"/>
<rect x="505.89" y="81.59" width="3.04" height="11.5" fill="#F0B41E"/>
<rect x="505.89" y="62.39" width="3.04" height="19.2" fill="#812F91"/>
<rect x="505.89" y="6.5" width="3.04" height="55.89" fill="#79AF2E"/>
<rect x="509.53" y="93.33" width="3.04" height="35.47" fill="#0075C6"/>
<rect x="509.53" y="86.48" width="3.04" height="6.85" fill="#DE5518"/>
<rect x="509.53" y="72.54" width="3.04" height="13.94" fill="#F0B41E"/>
<rect x="509.53" y="49.31" width="3.04" height="23.24" fill="#812F91"/>
<rect x="509.53" y="6.5" width="3.04" height="42.81" fill="#79AF2E"/>
<rect x="513.16" y="89.3" width="3.04" height="39.5" fill="#0075C6"/>
<rect x="513.16" y="82.82" width="3.04" height="6.48" fill="#DE5518"/>
<rect x="513.16" y="67.53" width="3.04" height="15.29" fill="#F0B41E"/>
<rect x="513.16" y="37.32" width="3.04" height="30.21" fill="#812F91"/>
<rect x="513.16" y="6.5" width="3.04" height="30.82" fill="#79AF2E"/>
<rect x="516.8" y="84.65" width="3.04" height="44.15" fill="#0075C6"/>
<rect x="516.8" y="75.48" width="3.04" height="9.17" fill="#DE5518"/>
<rect x="516.8" y="58.48" width="3.04" height="17" fill="#F0B41E"/>
<rect x="516.8" y="22.28" width="3.04" height="36.2" fill="#812F91"/>
<rect x="516.8" y="6.5" width="3.04" height="15.78" fill="#79AF2E"/>
<rect x="520.43" y="79.76" width="3.04" height="49.04" fill="#0075C6"/>
<rect x="520.43" y="70.1" width="3.04" height="9.66" fill="#DE5518"/>
<rect x="520.43" y="49.67" width="3.04" height="20.42" fill="#F0B41E"/>
<rect x="520.43" y="11.03" width="3.04" height="38.65" fill="#812F91"/>
<rect x="520.43" y="6.5" width="3.04" height="4.53" fill="#79AF2E"/>
<rect x="524.07" y="77.43" width="3.04" height="51.37" fill="#0075C6"/>
<rect x="524.07" y="66.3" width="3.04" height="11.13" fill="#DE5518"/>
<rect x="524.07" y="44.41" width="3.04" height="21.89" fill="#F0B41E"/>
<rect x="524.07" y="8.82" width="3.04" height="35.59" fill="#812F91"/>
<rect x="524.07" y="6.5" width="3.04" height="2.32" fill="#79AF2E"/>
<rect x="527.7" y="74.13" width="3.04" height="54.67" fill="#0075C6"/>
<rect x="527.7" y="61.53" width="3.04" height="12.6" fill="#DE5518"/>
<rect x="527.7" y="37.32" width="3.04" height="24.22" fill="#F0B41E"/>
<rect x="527.7" y="6.5" width="3.04" height="30.82" fill="#812F91"/>
<rect x="531.34" y="73.52" width="3.04" height="55.28" fill="#0075C6"/>
<rect x="531.34" y="61.29" width="3.04" height="12.23" fill="#DE5518"/>
<rect x="531.34" y="34.87" width="3.04" height="26.42" fill="#F0B41E"/>
<rect x="531.34" y="6.5" width="3.04" height="28.37" fill="#812F91"/>
<rect x="534.97" y="68.63" width="3.04" height="60.17" fill="#0075C6"/>
<rect x="534.97" y="54.2" width="3.04" height="14.43" fill="#DE5518"/>
<rect x="534.97" y="24.84" width="3.04" height="29.35" fill="#F0B41E"/>
<rect x="534.97" y="6.5" width="3.04" height="18.34" fill="#812F91"/>
<rect x="538.6" y="67.04" width="3.04" height="61.76" fill="#0075C6"/>
<rect x="538.6" y="56.4" width="3.04" height="10.64" fill="#DE5518"/>
<rect x="538.6" y="25.58" width="3.04" height="30.82" fill="#F0B41E"/>
<rect x="538.6" y="6.5" width="3.04" height="19.08" fill="#812F91"/>
<rect x="542.24" y="66.18" width="3.04" height="62.62" fill="#0075C6"/>
<rect x="542.24" y="50.53" width="3.04" height="15.65" fill="#DE5518"/>
<rect x="542.24" y="17.87" width="3.04" height="32.65" fill="#F0B41E"/>
<rect x="542.24" y="6.5" width="3.04" height="11.37" fill="#812F91"/>
<rect x="545.87" y="64.23" width="3.04" height="64.57" fill="#0075C6"/>
<rect x="545.87" y="47.59" width="3.04" height="16.63" fill="#DE5518"/>
<rect x="545.87" y="14.69" width="3.04" height="32.9" fill="#F0B41E"/>
<rect x="545.87" y="6.5" width="3.04" height="8.19" fill="#812F91"/>
<rect x="549.51" y="63.74" width="3.04" height="65.06" fill="#0075C6"/>
<rect x="549.51" y="46.61" width="3.04" height="17.12" fill="#DE5518"/>
<rect x="549.51" y="13.96" width="3.04" height="32.65" fill="#F0B41E"/>
<rect x="549.51" y="6.5" width="3.04" height="7.46" fill="#812F91"/>
<rect x="553.14" y="63.74" width="3.04" height="65.06" fill="#0075C6"/>
<rect x="553.14" y="45.64" width="3.04" height="18.1" fill="#DE5518"/>
<rect x="553.14" y="12.86" width="3.04" height="32.78" fill="#F0B41E"/>
<rect x="553.14" y="6.5" width="3.04" height="6.36" fill="#812F91"/>
<rect x="556.78" y="63" width="3.04" height="65.8" fill="#0075C6"/>
<rect x="556.78" y="43.92" width="3.04" height="19.08" fill="#DE5518"/>
<rect x="556.78" y="11.39" width="3.04" height="32.53" fill="#F0B41E"/>
<rect x="556.78" y="6.5" width="3.04" height="4.89" fill="#812F91"/>
<rect x="560.41" y="61.53" width="3.04" height="67.27" fill="#0075C6"/>
<rect x="560.41" y="41.72" width="3.04" height="19.81" fill="#DE5518"/>
<rect x="560.41" y="10.54" width="3.04" height="31.19" fill="#F0B41E"/>
<rect x="560.41" y="6.5" width="3.04" height="4.04" fill="#812F91"/>
<rect x="564.05" y="61.53" width="3.04" height="67.27" fill="#0075C6"/>
<rect x="564.05" y="40.74" width="3.04" height="20.79" fill="#DE5518"/>
<rect x="564.05" y="10.54" width="3.04" height="30.21" fill="#F0B41E"/>
<rect x="564.05" y="6.5" width="3.04" height="4.04" fill="#812F91"/>
<rect x="567.68" y="61.53" width="3.04" height="67.27" fill="#0075C6"/>
<rect x="567.68" y="40.74" width="3.04" height="20.79" fill="#DE5518"/>
<rect x="567.68" y="9.56" width="3.04" height="31.19" fill="#F0B41E"/>
<rect x="567.68" y="6.5" width="3.04" height="3.06" fill="#812F91"/>
<rect x="571.32" y="60.56" width="3.04" height="68.24" fill="#0075C6"/>
<rect x="571.32" y="38.42" width="3.04" height="22.14" fill="#DE5518"/>
<rect x="571.32" y="9.19" width="3.04" height="29.23" fill="#F0B41E"/>
<rect x="571.32" y="6.5" width="3.04" height="2.69" fill="#812F91"/>
<rect x="574.95" y="61.53" width="3.04" height="67.27" fill="#0075C6"/>
<rect x="574.95" y="39.52" width="3.04" height="22.01" fill="#DE5518"/>
<rect x="574.95" y="9.19" width="3.04" height="30.33" fill="#F0B41E"/>
<rect x="574.95" y="6.5" width="3.04" height="2.69" fill="#812F91"/>
<rect x="578.59" y="61.53" width="3.04" height="67.27" fill="#0075C6"/>
<rect x="578.59" y="38.42" width="3.04" height="23.11" fill="#DE5518"/>
<rect x="578.59" y="8.95" width="3.04" height="29.47" fill="#F0B41E"/>
<rect x="578.59" y="6.5" width="3.04" height="2.45" fill="#812F91"/>
<rect x="582.22" y="58.6" width="3.04" height="70.2" fill="#0075C6"/>
<rect x="582.22" y="35.12" width="3.04" height="23.48" fill="#DE5518"/>
<rect x="582.22" y="7.72" width="3.04" height="27.4" fill="#F0B41E"/>
<rect x="582.22" y="6.5" width="3.04" height="1.22" fill="#812F91"/>
<rect x="585.86" y="59.33" width="3.04" height="69.47" fill="#0075C6"/>
<rect x="585.86" y="35.12" width="3.04" height="24.22" fill="#DE5518"/>
<rect x="585.86" y="7.72" width="3.04" height="27.4" fill="#F0B41E"/>
<rect x="585.86" y="6.5" width="3.04" height="1.22" fill="#812F91"/>
<rect x="589.49" y="60.07" width="3.04" height="68.73" fill="#0075C6"/>
<rect x="589.49" y="35.85" width="3.04" height="24.22" fill="#DE5518"/>
<rect x="589.49" y="7.72" width="3.04" height="28.13" fill="#F0B41E"/>
<rect x="589.49" y="6.5" width="3.04" height="1.22" fill="#812F91"/>
<rect x="593.12" y="59.33" width="3.04" height="69.47" fill="#0075C6"/>
<rect x="593.12" y="34.38" width="3.04" height="24.95" fill="#DE5518"/>
<rect x="593.12" y="7.72" width="3.04" height="26.66" fill="#F0B41E"/>
<rect x="593.12" y="6.5" width="3.04" height="1.22" fill="#812F91"/>
<rect x="596.76" y="59.33" width="3.04" height="69.47" fill="#0075C6"/>
<rect x="596.76" y="33.41" width="3.04" height="25.93" fill="#DE5518"/>
<rect x="596.76" y="7.72" width="3.04" height="25.68" fill="#F0B41E"/>
<rect x="596.76" y="6.5" width="3.04" height="1.22" fill="#812F91"/>
<rect x="600.39" y="60.07" width="3.04" height="68.73" fill="#0075C6"/>
<rect x="600.39" y="34.38" width="3.04" height="25.68" fill="#DE5518"/>
<rect x="600.39" y="7.11" width="3.04" height="27.27" fill="#F0B41E"/>
<rect x="600.39" y="6.5" width="3.04" height="0.61" fill="#812F91"/>
<rect x="604.03" y="59.33" width="3.04" height="69.47" fill="#0075C6"/>
<rect x="604.03" y="33.41" width="3.04" height="25.93" fill="#DE5518"/>
<rect x="604.03" y="6.5" width="3.04" height="26.91" fill="#F0B41E"/>
<rect x="607.66" y="57.87" width="3.04" height="70.93" fill="#0075C6"/>
<rect x="607.66" y="31.45" width="3.04" height="26.42" fill="#DE5518"/>
<rect x="607.66" y="6.5" width="3.04" height="24.95" fill="#F0B41E"/>
<rect x="611.3" y="57.62" width="3.04" height="71.18" fill="#0075C6"/>
<rect x="611.3" y="30.72" width="3.04" height="26.91" fill="#DE5518"/>
<rect x="611.3" y="6.5" width="3.04" height="24.22" fill="#F0B41E"/>
<rect x="614.93" y="59.33" width="3.04" height="69.47" fill="#0075C6"/>
<rect x="614.93" y="32.18" width="3.04" height="27.15" fill="#DE5518"/>
<rect x="614.93" y="6.5" width="3.04" height="25.68" fill="#F0B41E"/>
<rect x="618.57" y="60.07" width="3.04" height="68.73" fill="#0075C6"/>
<rect x="618.57" y="33.41" width="3.04" height="26.66" fill="#DE5518"/>
<rect x="618.57" y="6.5" width="3.04" height="26.91" fill="#F0B41E"/>
<rect x="622.2" y="57.5" width="3.04" height="71.3" fill="#0075C6"/>
<rect x="622.2" y="29.25" width="3.04" height="28.25" fill="#DE5518"/>
<rect x="622.2" y="6.5" width="3.04" height="22.75" fill="#F0B41E"/>
<rect x="625.84" y="58.6" width="3.04" height="70.2" fill="#0075C6"/>
<rect x="625.84" y="29.98" width="3.04" height="28.62" fill="#DE5518"/>
<rect x="625.84" y="6.5" width="3.04" height="23.48" fill="#F0B41E"/>
<rect x="629.47" y="57.13" width="3.04" height="71.67" fill="#0075C6"/>
<rect x="629.47" y="28.51" width="3.04" height="28.62" fill="#DE5518"/>
<rect x="629.47" y="6.5" width="3.04" height="22.01" fill="#F0B41E"/>
<rect x="633.11" y="59.7" width="3.04" height="69.1" fill="#0075C6"/>
<rect x="633.11" y="30.96" width="3.04" height="28.74" fill="#DE5518"/>
<rect x="633.11" y="6.5" width="3.04" height="24.46" fill="#F0B41E"/>
<rect x="636.74" y="53.46" width="3.04" height="75.34" fill="#0075C6"/>
<rect x="636.74" y="24.23" width="3.04" height="29.23" fill="#DE5518"/>
<rect x="636.74" y="6.5" width="3.04" height="17.73" fill="#F0B41E"/>
<rect x="640.38" y="58.23" width="3.04" height="70.57" fill="#0075C6"/>
<rect x="640.38" y="28.51" width="3.04" height="29.72" fill="#DE5518"/>
<rect x="640.38" y="6.5" width="3.04" height="22.01" fill="#F0B41E"/>
<rect x="644.01" y="57.5" width="3.04" height="71.3" fill="#0075C6"/>
<rect x="644.01" y="28.51" width="3.04" height="28.99" fill="#DE5518"/>
<rect x="644.01" y="6.5" width="3.04" height="22.01" fill="#F0B41E"/>
<rect x="647.65" y="59.33" width="3.04" height="69.47" fill="#0075C6"/>
<rect x="647.65" y="29.25" width="3.04" height="30.09" fill="#DE5518"/>
<rect x="647.65" y="6.5" width="3.04" height="22.75" fill="#F0B41E"/>
<rect x="651.28" y="63" width="3.04" height="65.8" fill="#0075C6"/>
<rect x="651.28" y="34.38" width="3.04" height="28.62" fill="#DE5518"/>
<rect x="651.28" y="6.5" width="3.04" height="27.88" fill="#F0B41E"/>
<path d="M473.18 6.5V128.8M476.22 6.5V128.8M473.18 6.5H476.22M473.18 128.8H476.22M476.81 6.5V128.8M479.85 6.5V128.8M476.81 6.5H479.85M476.81 128.8H479.85M480.45 6.5V128.8M483.49 6.5V128.8M480.45 6.5H483.49M480.45 128.8H483.49M484.08 6.5V128.8M487.12 6.5V128.8M484.08 127.21H487.12M484.08 6.5H487.12M484.08 128.8H487.12M487.72 6.5V128.8M490.76 6.5V128.8M487.72 124.15H490.76M487.72 117.55H490.76M487.72 6.5H490.76M487.72 128.8H490.76M491.35 6.5V128.8M494.39 6.5V128.8M491.35 123.66H494.39M491.35 120.61H494.39M491.35 113.76H494.39M491.35 106.66H494.39M491.35 6.5H494.39M491.35 128.8H494.39M494.99 6.5V128.8M498.03 6.5V128.8M494.99 116.69H498.03M494.99 112.29H498.03M494.99 104.71H498.03M494.99 95.66H498.03M494.99 6.5H498.03M494.99 128.8H498.03M498.62 6.5V128.8M501.66 6.5V128.8M498.62 109.97H501.66M498.62 105.69H501.66M498.62 96.76H501.66M498.62 86H501.66M498.62 6.5H501.66M498.62 128.8H501.66M502.26 6.5V128.8M505.3 6.5V128.8M502.26 103.73H505.3M502.26 98.71H505.3M502.26 89.66H505.3M502.26 73.77H505.3M502.26 6.5H505.3M502.26 128.8H505.3M505.89 6.5V128.8M508.93 6.5V128.8M505.89 98.84H508.93M505.89 93.09H508.93M505.89 81.59H508.93M505.89 62.39H508.93M505.89 6.5H508.93M505.89 128.8H508.93M509.53 6.5V128.8M512.57 6.5V128.8M509.53 93.33H512.57M509.53 86.48H512.57M509.53 72.54H512.57M509.53 49.31H512.57M509.53 6.5H512.57M509.53 128.8H512.57M513.16 6.5V128.8M516.2 6.5V128.8M513.16 89.3H516.2M513.16 82.82H516.2M513.16 67.53H516.2M513.16 37.32H516.2M513.16 6.5H516.2M513.16 128.8H516.2M516.8 6.5V128.8M519.84 6.5V128.8M516.8 84.65H519.84M516.8 75.48H519.84M516.8 58.48H519.84M516.8 22.28H519.84M516.8 6.5H519.84M516.8 128.8H519.84M520.43 6.5V128.8M523.47 6.5V128.8M520.43 79.76H523.47M520.43 70.1H523.47M520.43 49.67H523.47M520.43 11.03H523.47M520.43 6.5H523.47M520.43 128.8H523.47M524.07 6.5V128.8M527.11 6.5V128.8M524.07 77.43H527.11M524.07 66.3H527.11M524.07 44.41H527.11M524.07 8.82H527.11M524.07 6.5H527.11M524.07 128.8H527.11M527.7 6.5V128.8M530.74 6.5V128.8M527.7 74.13H530.74M527.7 61.53H530.74M527.7 37.32H530.74M527.7 6.5H530.74M527.7 128.8H530.74M531.34 6.5V128.8M534.38 6.5V128.8M531.34 73.52H534.38M531.34 61.29H534.38M531.34 34.87H534.38M531.34 6.5H534.38M531.34 128.8H534.38M534.97 6.5V128.8M538.01 6.5V128.8M534.97 68.63H538.01M534.97 54.2H538.01M534.97 24.84H538.01M534.97 6.5H538.01M534.97 128.8H538.01M538.6 6.5V128.8M541.64 6.5V128.8M538.6 67.04H541.64M538.6 56.4H541.64M538.6 25.58H541.64M538.6 6.5H541.64M538.6 128.8H541.64M542.24 6.5V128.8M545.28 6.5V128.8M542.24 66.18H545.28M542.24 50.53H545.28M542.24 17.87H545.28M542.24 6.5H545.28M542.24 128.8H545.28M545.87 6.5V128.8M548.91 6.5V128.8M545.87 64.23H548.91M545.87 47.59H548.91M545.87 14.69H548.91M545.87 6.5H548.91M545.87 128.8H548.91M549.51 6.5V128.8M552.55 6.5V128.8M549.51 63.74H552.55M549.51 46.61H552.55M549.51 13.96H552.55M549.51 6.5H552.55M549.51 128.8H552.55M553.14 6.5V128.8M556.18 6.5V128.8M553.14 63.74H556.18M553.14 45.64H556.18M553.14 12.86H556.18M553.14 6.5H556.18M553.14 128.8H556.18M556.78 6.5V128.8M559.82 6.5V128.8M556.78 63H559.82M556.78 43.92H559.82M556.78 11.39H559.82M556.78 6.5H559.82M556.78 128.8H559.82M560.41 6.5V128.8M563.45 6.5V128.8M560.41 61.53H563.45M560.41 41.72H563.45M560.41 10.54H563.45M560.41 6.5H563.45M560.41 128.8H563.45M564.05 6.5V128.8M567.09 6.5V128.8M564.05 61.53H567.09M564.05 40.74H567.09M564.05 10.54H567.09M564.05 6.5H567.09M564.05 128.8H567.09M567.68 6.5V128.8M570.72 6.5V128.8M567.68 61.53H570.72M567.68 40.74H570.72M567.68 9.56H570.72M567.68 6.5H570.72M567.68 128.8H570.72M571.32 6.5V128.8M574.36 6.5V128.8M571.32 60.56H574.36M571.32 38.42H574.36M571.32 9.19H574.36M571.32 6.5H574.36M571.32 128.8H574.36M574.95 6.5V128.8M577.99 6.5V128.8M574.95 61.53H577.99M574.95 39.52H577.99M574.95 9.19H577.99M574.95 6.5H577.99M574.95 128.8H577.99M578.59 6.5V128.8M581.63 6.5V128.8M578.59 61.53H581.63M578.59 38.42H581.63M578.59 8.95H581.63M578.59 6.5H581.63M578.59 128.8H581.63M582.22 6.5V128.8M585.26 6.5V128.8M582.22 58.6H585.26M582.22 35.12H585.26M582.22 7.72H585.26M582.22 6.5H585.26M582.22 128.8H585.26M585.86 6.5V128.8M588.9 6.5V128.8M585.86 59.33H588.9M585.86 35.12H588.9M585.86 7.72H588.9M585.86 6.5H588.9M585.86 128.8H588.9M589.49 6.5V128.8M592.53 6.5V128.8M589.49 60.07H592.53M589.49 35.85H592.53M589.49 7.72H592.53M589.49 6.5H592.53M589.49 128.8H592.53M593.12 6.5V128.8M596.16 6.5V128.8M593.12 59.33H596.16M593.12 34.38H596.16M593.12 7.72H596.16M593.12 6.5H596.16M593.12 128.8H596.16M596.76 6.5V128.8M599.8 6.5V128.8M596.76 59.33H599.8M596.76 33.41H599.8M596.76 7.72H599.8M596.76 6.5H599.8M596.76 128.8H599.8M600.39 6.5V128.8M603.43 6.5V128.8M600.39 60.07H603.43M600.39 34.38H603.43M600.39 7.11H603.43M600.39 6.5H603.43M600.39 128.8H603.43M604.03 6.5V128.8M607.07 6.5V128.8M604.03 59.33H607.07M604.03 33.41H607.07M604.03 6.5H607.07M604.03 128.8H607.07M607.66 6.5V128.8M610.7 6.5V128.8M607.66 57.87H610.7M607.66 31.45H610.7M607.66 6.5H610.7M607.66 128.8H610.7M611.3 6.5V128.8M614.34 6.5V128.8M611.3 57.62H614.34M611.3 30.72H614.34M611.3 6.5H614.34M611.3 128.8H614.34M614.93 6.5V128.8M617.97 6.5V128.8M614.93 59.33H617.97M614.93 32.18H617.97M614.93 6.5H617.97M614.93 128.8H617.97M618.57 6.5V128.8M621.61 6.5V128.8M618.57 60.07H621.61M618.57 33.41H621.61M618.57 6.5H621.61M618.57 128.8H621.61M622.2 6.5V128.8M625.24 6.5V128.8M622.2 57.5H625.24M622.2 29.25H625.24M622.2 6.5H625.24M622.2 128.8H625.24M625.84 6.5V128.8M628.88 6.5V128.8M625.84 58.6H628.88M625.84 29.98H628.88M625.84 6.5H628.88M625.84 128.8H628.88M629.47 6.5V128.8M632.51 6.5V128.8M629.47 57.13H632.51M629.47 28.51H632.51M629.47 6.5H632.51M629.47 128.8H632.51M633.11 6.5V128.8M636.15 6.5V128.8M633.11 59.7H636.15M633.11 30.96H636.15M633.11 6.5H636.15M633.11 128.8H636.15M636.74 6.5V128.8M639.78 6.5V128.8M636.74 53.46H639.78M636.74 24.23H639.78M636.74 6.5H639.78M636.74 128.8H639.78M640.38 6.5V128.8M643.42 6.5V128.8M640.38 58.23H643.42M640.38 28.51H643.42M640.38 6.5H643.42M640.38 128.8H643.42M644.01 6.5V128.8M647.05 6.5V128.8M644.01 57.5H647.05M644.01 28.51H647.05M644.01 6.5H647.05M644.01 128.8H647.05M647.65 6.5V128.8M650.69 6.5V128.8M647.65 59.33H650.69M647.65 29.25H650.69M647.65 6.5H650.69M647.65 128.8H650.69M651.28 6.5V128.8M654.32 6.5V128.8M651.28 63H654.32M651.28 34.38H654.32M651.28 6.5H654.32M651.28 128.8H654.32" stroke="#000" stroke-width="0.75" fill="none"/>
<rect x="471" y="6.5" width="185.5" height="122.3" fill="none" stroke="#6e6e6e" stroke-width="0.8"/>
<path d="M471 128.8h1.8M656.5 128.8h-1.8M471 104.34h1.8M656.5 104.34h-1.8M471 79.88h1.8M656.5 79.88h-1.8M471 55.42h1.8M656.5 55.42h-1.8M471 30.96h1.8M656.5 30.96h-1.8M471 6.5h1.8M656.5 6.5h-1.8" stroke="#6e6e6e" stroke-width="0.7"/>
<rect x="50.5" y="160.3" width="185.25" height="122" fill="#fff"/>
<rect x="53.08" y="160.3" width="3.04" height="122" fill="#79AF2E"/>
<rect x="56.69" y="160.3" width="3.04" height="122" fill="#79AF2E"/>
<rect x="60.3" y="160.3" width="3.04" height="122" fill="#79AF2E"/>
<rect x="63.9" y="160.3" width="3.04" height="122" fill="#79AF2E"/>
<rect x="67.51" y="278.27" width="3.04" height="4.03" fill="#F0B41E"/>
<rect x="67.51" y="273.76" width="3.04" height="4.51" fill="#812F91"/>
<rect x="67.51" y="160.3" width="3.04" height="113.46" fill="#79AF2E"/>
<rect x="71.12" y="277.18" width="3.04" height="5.12" fill="#0075C6"/>
<rect x="71.12" y="274.74" width="3.04" height="2.44" fill="#DE5518"/>
<rect x="71.12" y="268.76" width="3.04" height="5.98" fill="#F0B41E"/>
<rect x="71.12" y="263.51" width="3.04" height="5.25" fill="#812F91"/>
<rect x="71.12" y="160.3" width="3.04" height="103.21" fill="#79AF2E"/>
<rect x="74.73" y="269.86" width="3.04" height="12.44" fill="#0075C6"/>
<rect x="74.73" y="266.07" width="3.04" height="3.78" fill="#DE5518"/>
<rect x="74.73" y="259.85" width="3.04" height="6.22" fill="#F0B41E"/>
<rect x="74.73" y="252.9" width="3.04" height="6.95" fill="#812F91"/>
<rect x="74.73" y="160.3" width="3.04" height="92.6" fill="#79AF2E"/>
<rect x="78.34" y="262.41" width="3.04" height="19.89" fill="#0075C6"/>
<rect x="78.34" y="258.51" width="3.04" height="3.9" fill="#DE5518"/>
<rect x="78.34" y="250.7" width="3.04" height="7.81" fill="#F0B41E"/>
<rect x="78.34" y="241.55" width="3.04" height="9.15" fill="#812F91"/>
<rect x="78.34" y="160.3" width="3.04" height="81.25" fill="#79AF2E"/>
<rect x="81.95" y="255.95" width="3.04" height="26.35" fill="#0075C6"/>
<rect x="81.95" y="250.46" width="3.04" height="5.49" fill="#DE5518"/>
<rect x="81.95" y="241.19" width="3.04" height="9.27" fill="#F0B41E"/>
<rect x="81.95" y="229.23" width="3.04" height="11.96" fill="#812F91"/>
<rect x="81.95" y="160.3" width="3.04" height="68.93" fill="#79AF2E"/>
<rect x="85.55" y="249.6" width="3.04" height="32.7" fill="#0075C6"/>
<rect x="85.55" y="244.11" width="3.04" height="5.49" fill="#DE5518"/>
<rect x="85.55" y="232.4" width="3.04" height="11.71" fill="#F0B41E"/>
<rect x="85.55" y="217.64" width="3.04" height="14.76" fill="#812F91"/>
<rect x="85.55" y="160.3" width="3.04" height="57.34" fill="#79AF2E"/>
<rect x="89.16" y="244.11" width="3.04" height="38.19" fill="#0075C6"/>
<rect x="89.16" y="237.53" width="3.04" height="6.59" fill="#DE5518"/>
<rect x="89.16" y="223.74" width="3.04" height="13.79" fill="#F0B41E"/>
<rect x="89.16" y="205.44" width="3.04" height="18.3" fill="#812F91"/>
<rect x="89.16" y="160.3" width="3.04" height="45.14" fill="#79AF2E"/>
<rect x="92.77" y="239.36" width="3.04" height="42.94" fill="#0075C6"/>
<rect x="92.77" y="230.94" width="3.04" height="8.42" fill="#DE5518"/>
<rect x="92.77" y="215.81" width="3.04" height="15.13" fill="#F0B41E"/>
<rect x="92.77" y="192.39" width="3.04" height="23.42" fill="#812F91"/>
<rect x="92.77" y="160.3" width="3.04" height="32.09" fill="#79AF2E"/>
<rect x="96.38" y="234.6" width="3.04" height="47.7" fill="#0075C6"/>
<rect x="96.38" y="226.55" width="3.04" height="8.05" fill="#DE5518"/>
<rect x="96.38" y="209.71" width="3.04" height="16.84" fill="#F0B41E"/>
<rect x="96.38" y="178.6" width="3.04" height="31.11" fill="#812F91"/>
<rect x="96.38" y="160.3" width="3.04" height="18.3" fill="#79AF2E"/>
<rect x="99.99" y="230.21" width="3.04" height="52.09" fill="#0075C6"/>
<rect x="99.99" y="220.57" width="3.04" height="9.64" fill="#DE5518"/>
<rect x="99.99" y="202.02" width="3.04" height="18.54" fill="#F0B41E"/>
<rect x="99.99" y="166.4" width="3.04" height="35.62" fill="#812F91"/>
<rect x="99.99" y="160.3" width="3.04" height="6.1" fill="#79AF2E"/>
<rect x="103.59" y="226.55" width="3.04" height="55.75" fill="#0075C6"/>
<rect x="103.59" y="215.81" width="3.04" height="10.74" fill="#DE5518"/>
<rect x="103.59" y="193.61" width="3.04" height="22.2" fill="#F0B41E"/>
<rect x="103.59" y="160.3" width="3.04" height="33.31" fill="#812F91"/>
<rect x="107.2" y="223.25" width="3.04" height="59.05" fill="#0075C6"/>
<rect x="107.2" y="210.69" width="3.04" height="12.57" fill="#DE5518"/>
<rect x="107.2" y="185.8" width="3.04" height="24.89" fill="#F0B41E"/>
<rect x="107.2" y="160.3" width="3.04" height="25.5" fill="#812F91"/>
<rect x="110.81" y="219.96" width="3.04" height="62.34" fill="#0075C6"/>
<rect x="110.81" y="205.81" width="3.04" height="14.15" fill="#DE5518"/>
<rect x="110.81" y="179.09" width="3.04" height="26.72" fill="#F0B41E"/>
<rect x="110.81" y="160.3" width="3.04" height="18.79" fill="#812F91"/>
<rect x="114.42" y="218.74" width="3.04" height="63.56" fill="#0075C6"/>
<rect x="114.42" y="204.22" width="3.04" height="14.52" fill="#DE5518"/>
<rect x="114.42" y="176.77" width="3.04" height="27.45" fill="#F0B41E"/>
<rect x="114.42" y="160.3" width="3.04" height="16.47" fill="#812F91"/>
<rect x="118.03" y="218.62" width="3.04" height="63.68" fill="#0075C6"/>
<rect x="118.03" y="203" width="3.04" height="15.62" fill="#DE5518"/>
<rect x="118.03" y="173.23" width="3.04" height="29.77" fill="#F0B41E"/>
<rect x="118.03" y="160.3" width="3.04" height="12.93" fill="#812F91"/>
<rect x="121.64" y="212.64" width="3.04" height="69.66" fill="#0075C6"/>
<rect x="121.64" y="195.56" width="3.04" height="17.08" fill="#DE5518"/>
<rect x="121.64" y="165.79" width="3.04" height="29.77" fill="#F0B41E"/>
<rect x="121.64" y="160.3" width="3.04" height="5.49" fill="#812F91"/>
<rect x="125.24" y="210.69" width="3.04" height="71.61" fill="#0075C6"/>
<rect x="125.24" y="192.75" width="3.04" height="17.93" fill="#DE5518"/>
<rect x="125.24" y="164.57" width="3.04" height="28.18" fill="#F0B41E"/>
<rect x="125.24" y="160.3" width="3.04" height="4.27" fill="#812F91"/>
<rect x="128.85" y="211.42" width="3.04" height="70.88" fill="#0075C6"/>
<rect x="128.85" y="193.61" width="3.04" height="17.81" fill="#DE5518"/>
<rect x="128.85" y="164.45" width="3.04" height="29.16" fill="#F0B41E"/>
<rect x="128.85" y="160.3" width="3.04" height="4.15" fill="#812F91"/>
<rect x="132.46" y="209.34" width="3.04" height="72.96" fill="#0075C6"/>
<rect x="132.46" y="190.43" width="3.04" height="18.91" fill="#DE5518"/>
<rect x="132.46" y="163.35" width="3.04" height="27.08" fill="#F0B41E"/>
<rect x="132.46" y="160.3" width="3.04" height="3.05" fill="#812F91"/>
<rect x="136.07" y="207.76" width="3.04" height="74.54" fill="#0075C6"/>
<rect x="136.07" y="186.9" width="3.04" height="20.86" fill="#DE5518"/>
<rect x="136.07" y="162.5" width="3.04" height="24.4" fill="#F0B41E"/>
<rect x="136.07" y="160.3" width="3.04" height="2.2" fill="#812F91"/>
<rect x="139.68" y="207.51" width="3.04" height="74.79" fill="#0075C6"/>
<rect x="139.68" y="185.68" width="3.04" height="21.84" fill="#DE5518"/>
<rect x="139.68" y="161.89" width="3.04" height="23.79" fill="#F0B41E"/>
<rect x="139.68" y="160.3" width="3.04" height="1.59" fill="#812F91"/>
<rect x="143.28" y="204.22" width="3.04" height="78.08" fill="#0075C6"/>
<rect x="143.28" y="182.14" width="3.04" height="22.08" fill="#DE5518"/>
<rect x="143.28" y="161.52" width="3.04" height="20.62" fill="#F0B41E"/>
<rect x="143.28" y="160.3" width="3.04" height="1.22" fill="#812F91"/>
<rect x="146.89" y="207.27" width="3.04" height="75.03" fill="#0075C6"/>
<rect x="146.89" y="183.72" width="3.04" height="23.55" fill="#DE5518"/>
<rect x="146.89" y="161.52" width="3.04" height="22.2" fill="#F0B41E"/>
<rect x="146.89" y="160.3" width="3.04" height="1.22" fill="#812F91"/>
<rect x="150.5" y="202.27" width="3.04" height="80.03" fill="#0075C6"/>
<rect x="150.5" y="177.99" width="3.04" height="24.28" fill="#DE5518"/>
<rect x="150.5" y="160.91" width="3.04" height="17.08" fill="#F0B41E"/>
<rect x="150.5" y="160.3" width="3.04" height="0.61" fill="#812F91"/>
<rect x="154.11" y="202.27" width="3.04" height="80.03" fill="#0075C6"/>
<rect x="154.11" y="177.62" width="3.04" height="24.64" fill="#DE5518"/>
<rect x="154.11" y="160.3" width="3.04" height="17.32" fill="#F0B41E"/>
<rect x="157.72" y="201.66" width="3.04" height="80.64" fill="#0075C6"/>
<rect x="157.72" y="176.16" width="3.04" height="25.5" fill="#DE5518"/>
<rect x="157.72" y="160.3" width="3.04" height="15.86" fill="#F0B41E"/>
<rect x="161.32" y="201.66" width="3.04" height="80.64" fill="#0075C6"/>
<rect x="161.32" y="176.16" width="3.04" height="25.5" fill="#DE5518"/>
<rect x="161.32" y="160.3" width="3.04" height="15.86" fill="#F0B41E"/>
<rect x="164.93" y="199.71" width="3.04" height="82.59" fill="#0075C6"/>
<rect x="164.93" y="174.21" width="3.04" height="25.5" fill="#DE5518"/>
<rect x="164.93" y="160.3" width="3.04" height="13.91" fill="#F0B41E"/>
<rect x="168.54" y="198.73" width="3.04" height="83.57" fill="#0075C6"/>
<rect x="168.54" y="172.62" width="3.04" height="26.11" fill="#DE5518"/>
<rect x="168.54" y="160.3" width="3.04" height="12.32" fill="#F0B41E"/>
<rect x="172.15" y="197.63" width="3.04" height="84.67" fill="#0075C6"/>
<rect x="172.15" y="171.28" width="3.04" height="26.35" fill="#DE5518"/>
<rect x="172.15" y="160.3" width="3.04" height="10.98" fill="#F0B41E"/>
<rect x="175.76" y="197.02" width="3.04" height="85.28" fill="#0075C6"/>
<rect x="175.76" y="170.91" width="3.04" height="26.11" fill="#DE5518"/>
<rect x="175.76" y="160.3" width="3.04" height="10.61" fill="#F0B41E"/>
<rect x="179.37" y="194.09" width="3.04" height="88.21" fill="#0075C6"/>
<rect x="179.37" y="169.57" width="3.04" height="24.52" fill="#DE5518"/>
<rect x="179.37" y="160.3" width="3.04" height="9.27" fill="#F0B41E"/>
<rect x="182.97" y="190.31" width="3.04" height="91.99" fill="#0075C6"/>
<rect x="182.97" y="167.62" width="3.04" height="22.69" fill="#DE5518"/>
<rect x="182.97" y="160.3" width="3.04" height="7.32" fill="#F0B41E"/>
<rect x="186.58" y="189.58" width="3.04" height="92.72" fill="#0075C6"/>
<rect x="186.58" y="167.62" width="3.04" height="21.96" fill="#DE5518"/>
<rect x="186.58" y="160.3" width="3.04" height="7.32" fill="#F0B41E"/>
<rect x="190.19" y="195.44" width="3.04" height="86.86" fill="#0075C6"/>
<rect x="190.19" y="169.33" width="3.04" height="26.11" fill="#DE5518"/>
<rect x="190.19" y="160.3" width="3.04" height="9.03" fill="#F0B41E"/>
<rect x="193.8" y="190.31" width="3.04" height="91.99" fill="#0075C6"/>
<rect x="193.8" y="167.62" width="3.04" height="22.69" fill="#DE5518"/>
<rect x="193.8" y="160.3" width="3.04" height="7.32" fill="#F0B41E"/>
<rect x="197.41" y="190.8" width="3.04" height="91.5" fill="#0075C6"/>
<rect x="197.41" y="167.38" width="3.04" height="23.42" fill="#DE5518"/>
<rect x="197.41" y="160.3" width="3.04" height="7.08" fill="#F0B41E"/>
<rect x="201.01" y="188.97" width="3.04" height="93.33" fill="#0075C6"/>
<rect x="201.01" y="166.64" width="3.04" height="22.33" fill="#DE5518"/>
<rect x="201.01" y="160.3" width="3.04" height="6.34" fill="#F0B41E"/>
<rect x="204.62" y="188.36" width="3.04" height="93.94" fill="#0075C6"/>
<rect x="204.62" y="166.64" width="3.04" height="21.72" fill="#DE5518"/>
<rect x="204.62" y="160.3" width="3.04" height="6.34" fill="#F0B41E"/>
<rect x="208.23" y="186.9" width="3.04" height="95.4" fill="#0075C6"/>
<rect x="208.23" y="166.16" width="3.04" height="20.74" fill="#DE5518"/>
<rect x="208.23" y="160.3" width="3.04" height="5.86" fill="#F0B41E"/>
<rect x="211.84" y="186.9" width="3.04" height="95.4" fill="#0075C6"/>
<rect x="211.84" y="165.91" width="3.04" height="20.98" fill="#DE5518"/>
<rect x="211.84" y="160.3" width="3.04" height="5.61" fill="#F0B41E"/>
<rect x="215.45" y="187.63" width="3.04" height="94.67" fill="#0075C6"/>
<rect x="215.45" y="166.4" width="3.04" height="21.23" fill="#DE5518"/>
<rect x="215.45" y="160.3" width="3.04" height="6.1" fill="#F0B41E"/>
<rect x="219.06" y="184.7" width="3.04" height="97.6" fill="#0075C6"/>
<rect x="219.06" y="165.91" width="3.04" height="18.79" fill="#DE5518"/>
<rect x="219.06" y="160.3" width="3.04" height="5.61" fill="#F0B41E"/>
<rect x="222.66" y="182.87" width="3.04" height="99.43" fill="#0075C6"/>
<rect x="222.66" y="165.67" width="3.04" height="17.2" fill="#DE5518"/>
<rect x="222.66" y="160.3" width="3.04" height="5.37" fill="#F0B41E"/>
<rect x="226.27" y="184.46" width="3.04" height="97.84" fill="#0075C6"/>
<rect x="226.27" y="165.91" width="3.04" height="18.54" fill="#DE5518"/>
<rect x="226.27" y="160.3" width="3.04" height="5.61" fill="#F0B41E"/>
<rect x="229.88" y="187.63" width="3.04" height="94.67" fill="#0075C6"/>
<rect x="229.88" y="166.4" width="3.04" height="21.23" fill="#DE5518"/>
<rect x="229.88" y="160.3" width="3.04" height="6.1" fill="#F0B41E"/>
<path d="M53.08 160.3V282.3M56.12 160.3V282.3M53.08 160.3H56.12M53.08 282.3H56.12M56.69 160.3V282.3M59.73 160.3V282.3M56.69 160.3H59.73M56.69 282.3H59.73M60.3 160.3V282.3M63.34 160.3V282.3M60.3 160.3H63.34M60.3 282.3H63.34M63.9 160.3V282.3M66.94 160.3V282.3M63.9 160.3H66.94M63.9 282.3H66.94M67.51 160.3V282.3M70.55 160.3V282.3M67.51 278.27H70.55M67.51 273.76H70.55M67.51 160.3H70.55M67.51 282.3H70.55M71.12 160.3V282.3M74.16 160.3V282.3M71.12 277.18H74.16M71.12 274.74H74.16M71.12 268.76H74.16M71.12 263.51H74.16M71.12 160.3H74.16M71.12 282.3H74.16M74.73 160.3V282.3M77.77 160.3V282.3M74.73 269.86H77.77M74.73 266.07H77.77M74.73 259.85H77.77M74.73 252.9H77.77M74.73 160.3H77.77M74.73 282.3H77.77M78.34 160.3V282.3M81.38 160.3V282.3M78.34 262.41H81.38M78.34 258.51H81.38M78.34 250.7H81.38M78.34 241.55H81.38M78.34 160.3H81.38M78.34 282.3H81.38M81.95 160.3V282.3M84.99 160.3V282.3M81.95 255.95H84.99M81.95 250.46H84.99M81.95 241.19H84.99M81.95 229.23H84.99M81.95 160.3H84.99M81.95 282.3H84.99M85.55 160.3V282.3M88.59 160.3V282.3M85.55 249.6H88.59M85.55 244.11H88.59M85.55 232.4H88.59M85.55 217.64H88.59M85.55 160.3H88.59M85.55 282.3H88.59M89.16 160.3V282.3M92.2 160.3V282.3M89.16 244.11H92.2M89.16 237.53H92.2M89.16 223.74H92.2M89.16 205.44H92.2M89.16 160.3H92.2M89.16 282.3H92.2M92.77 160.3V282.3M95.81 160.3V282.3M92.77 239.36H95.81M92.77 230.94H95.81M92.77 215.81H95.81M92.77 192.39H95.81M92.77 160.3H95.81M92.77 282.3H95.81M96.38 160.3V282.3M99.42 160.3V282.3M96.38 234.6H99.42M96.38 226.55H99.42M96.38 209.71H99.42M96.38 178.6H99.42M96.38 160.3H99.42M96.38 282.3H99.42M99.99 160.3V282.3M103.03 160.3V282.3M99.99 230.21H103.03M99.99 220.57H103.03M99.99 202.02H103.03M99.99 166.4H103.03M99.99 160.3H103.03M99.99 282.3H103.03M103.59 160.3V282.3M106.63 160.3V282.3M103.59 226.55H106.63M103.59 215.81H106.63M103.59 193.61H106.63M103.59 160.3H106.63M103.59 282.3H106.63M107.2 160.3V282.3M110.24 160.3V282.3M107.2 223.25H110.24M107.2 210.69H110.24M107.2 185.8H110.24M107.2 160.3H110.24M107.2 282.3H110.24M110.81 160.3V282.3M113.85 160.3V282.3M110.81 219.96H113.85M110.81 205.81H113.85M110.81 179.09H113.85M110.81 160.3H113.85M110.81 282.3H113.85M114.42 160.3V282.3M117.46 160.3V282.3M114.42 218.74H117.46M114.42 204.22H117.46M114.42 176.77H117.46M114.42 160.3H117.46M114.42 282.3H117.46M118.03 160.3V282.3M121.07 160.3V282.3M118.03 218.62H121.07M118.03 203H121.07M118.03 173.23H121.07M118.03 160.3H121.07M118.03 282.3H121.07M121.64 160.3V282.3M124.68 160.3V282.3M121.64 212.64H124.68M121.64 195.56H124.68M121.64 165.79H124.68M121.64 160.3H124.68M121.64 282.3H124.68M125.24 160.3V282.3M128.28 160.3V282.3M125.24 210.69H128.28M125.24 192.75H128.28M125.24 164.57H128.28M125.24 160.3H128.28M125.24 282.3H128.28M128.85 160.3V282.3M131.89 160.3V282.3M128.85 211.42H131.89M128.85 193.61H131.89M128.85 164.45H131.89M128.85 160.3H131.89M128.85 282.3H131.89M132.46 160.3V282.3M135.5 160.3V282.3M132.46 209.34H135.5M132.46 190.43H135.5M132.46 163.35H135.5M132.46 160.3H135.5M132.46 282.3H135.5M136.07 160.3V282.3M139.11 160.3V282.3M136.07 207.76H139.11M136.07 186.9H139.11M136.07 162.5H139.11M136.07 160.3H139.11M136.07 282.3H139.11M139.68 160.3V282.3M142.72 160.3V282.3M139.68 207.51H142.72M139.68 185.68H142.72M139.68 161.89H142.72M139.68 160.3H142.72M139.68 282.3H142.72M143.28 160.3V282.3M146.32 160.3V282.3M143.28 204.22H146.32M143.28 182.14H146.32M143.28 161.52H146.32M143.28 160.3H146.32M143.28 282.3H146.32M146.89 160.3V282.3M149.93 160.3V282.3M146.89 207.27H149.93M146.89 183.72H149.93M146.89 161.52H149.93M146.89 160.3H149.93M146.89 282.3H149.93M150.5 160.3V282.3M153.54 160.3V282.3M150.5 202.27H153.54M150.5 177.99H153.54M150.5 160.91H153.54M150.5 160.3H153.54M150.5 282.3H153.54M154.11 160.3V282.3M157.15 160.3V282.3M154.11 202.27H157.15M154.11 177.62H157.15M154.11 160.3H157.15M154.11 282.3H157.15M157.72 160.3V282.3M160.76 160.3V282.3M157.72 201.66H160.76M157.72 176.16H160.76M157.72 160.3H160.76M157.72 282.3H160.76M161.32 160.3V282.3M164.36 160.3V282.3M161.32 201.66H164.36M161.32 176.16H164.36M161.32 160.3H164.36M161.32 282.3H164.36M164.93 160.3V282.3M167.97 160.3V282.3M164.93 199.71H167.97M164.93 174.21H167.97M164.93 160.3H167.97M164.93 282.3H167.97M168.54 160.3V282.3M171.58 160.3V282.3M168.54 198.73H171.58M168.54 172.62H171.58M168.54 160.3H171.58M168.54 282.3H171.58M172.15 160.3V282.3M175.19 160.3V282.3M172.15 197.63H175.19M172.15 171.28H175.19M172.15 160.3H175.19M172.15 282.3H175.19M175.76 160.3V282.3M178.8 160.3V282.3M175.76 197.02H178.8M175.76 170.91H178.8M175.76 160.3H178.8M175.76 282.3H178.8M179.37 160.3V282.3M182.41 160.3V282.3M179.37 194.09H182.41M179.37 169.57H182.41M179.37 160.3H182.41M179.37 282.3H182.41M182.97 160.3V282.3M186.01 160.3V282.3M182.97 190.31H186.01M182.97 167.62H186.01M182.97 160.3H186.01M182.97 282.3H186.01M186.58 160.3V282.3M189.62 160.3V282.3M186.58 189.58H189.62M186.58 167.62H189.62M186.58 160.3H189.62M186.58 282.3H189.62M190.19 160.3V282.3M193.23 160.3V282.3M190.19 195.44H193.23M190.19 169.33H193.23M190.19 160.3H193.23M190.19 282.3H193.23M193.8 160.3V282.3M196.84 160.3V282.3M193.8 190.31H196.84M193.8 167.62H196.84M193.8 160.3H196.84M193.8 282.3H196.84M197.41 160.3V282.3M200.45 160.3V282.3M197.41 190.8H200.45M197.41 167.38H200.45M197.41 160.3H200.45M197.41 282.3H200.45M201.01 160.3V282.3M204.05 160.3V282.3M201.01 188.97H204.05M201.01 166.64H204.05M201.01 160.3H204.05M201.01 282.3H204.05M204.62 160.3V282.3M207.66 160.3V282.3M204.62 188.36H207.66M204.62 166.64H207.66M204.62 160.3H207.66M204.62 282.3H207.66M208.23 160.3V282.3M211.27 160.3V282.3M208.23 186.9H211.27M208.23 166.16H211.27M208.23 160.3H211.27M208.23 282.3H211.27M211.84 160.3V282.3M214.88 160.3V282.3M211.84 186.9H214.88M211.84 165.91H214.88M211.84 160.3H214.88M211.84 282.3H214.88M215.45 160.3V282.3M218.49 160.3V282.3M215.45 187.63H218.49M215.45 166.4H218.49M215.45 160.3H218.49M215.45 282.3H218.49M219.06 160.3V282.3M222.1 160.3V282.3M219.06 184.7H222.1M219.06 165.91H222.1M219.06 160.3H222.1M219.06 282.3H222.1M222.66 160.3V282.3M225.7 160.3V282.3M222.66 182.87H225.7M222.66 165.67H225.7M222.66 160.3H225.7M222.66 282.3H225.7M226.27 160.3V282.3M229.31 160.3V282.3M226.27 184.46H229.31M226.27 165.91H229.31M226.27 160.3H229.31M226.27 282.3H229.31M229.88 160.3V282.3M232.92 160.3V282.3M229.88 187.63H232.92M229.88 166.4H232.92M229.88 160.3H232.92M229.88 282.3H232.92" stroke="#000" stroke-width="0.75" fill="none"/>
<rect x="50.5" y="160.3" width="185.25" height="122" fill="none" stroke="#6e6e6e" stroke-width="0.8"/>
<path d="M50.5 282.3h1.8M235.75 282.3h-1.8M50.5 257.9h1.8M235.75 257.9h-1.8M50.5 233.5h1.8M235.75 233.5h-1.8M50.5 209.1h1.8M235.75 209.1h-1.8M50.5 184.7h1.8M235.75 184.7h-1.8M50.5 160.3h1.8M235.75 160.3h-1.8" stroke="#6e6e6e" stroke-width="0.7"/>
<rect x="261.4" y="160.3" width="185.9" height="122" fill="#fff"/>
<rect x="263.98" y="160.3" width="3.04" height="122" fill="#79AF2E"/>
<rect x="267.6" y="160.3" width="3.04" height="122" fill="#79AF2E"/>
<rect x="271.22" y="160.3" width="3.04" height="122" fill="#79AF2E"/>
<rect x="274.84" y="160.3" width="3.04" height="122" fill="#79AF2E"/>
<rect x="278.46" y="276.57" width="3.04" height="5.73" fill="#812F91"/>
<rect x="278.46" y="160.3" width="3.04" height="116.27" fill="#79AF2E"/>
<rect x="282.08" y="279.86" width="3.04" height="2.44" fill="#DE5518"/>
<rect x="282.08" y="273.76" width="3.04" height="6.1" fill="#F0B41E"/>
<rect x="282.08" y="265.59" width="3.04" height="8.17" fill="#812F91"/>
<rect x="282.08" y="160.3" width="3.04" height="105.29" fill="#79AF2E"/>
<rect x="285.7" y="275.71" width="3.04" height="6.59" fill="#0075C6"/>
<rect x="285.7" y="272.17" width="3.04" height="3.54" fill="#DE5518"/>
<rect x="285.7" y="264.12" width="3.04" height="8.05" fill="#F0B41E"/>
<rect x="285.7" y="254.48" width="3.04" height="9.64" fill="#812F91"/>
<rect x="285.7" y="160.3" width="3.04" height="94.18" fill="#79AF2E"/>
<rect x="289.32" y="269.12" width="3.04" height="13.18" fill="#0075C6"/>
<rect x="289.32" y="264.73" width="3.04" height="4.39" fill="#DE5518"/>
<rect x="289.32" y="254.48" width="3.04" height="10.25" fill="#F0B41E"/>
<rect x="289.32" y="243.75" width="3.04" height="10.74" fill="#812F91"/>
<rect x="289.32" y="160.3" width="3.04" height="83.45" fill="#79AF2E"/>
<rect x="292.94" y="263.02" width="3.04" height="19.28" fill="#0075C6"/>
<rect x="292.94" y="257.9" width="3.04" height="5.12" fill="#DE5518"/>
<rect x="292.94" y="247.65" width="3.04" height="10.25" fill="#F0B41E"/>
<rect x="292.94" y="232.16" width="3.04" height="15.49" fill="#812F91"/>
<rect x="292.94" y="160.3" width="3.04" height="71.86" fill="#79AF2E"/>
<rect x="296.56" y="257.9" width="3.04" height="24.4" fill="#0075C6"/>
<rect x="296.56" y="252.65" width="3.04" height="5.25" fill="#DE5518"/>
<rect x="296.56" y="240.7" width="3.04" height="11.96" fill="#F0B41E"/>
<rect x="296.56" y="221.3" width="3.04" height="19.4" fill="#812F91"/>
<rect x="296.56" y="160.3" width="3.04" height="61" fill="#79AF2E"/>
<rect x="300.18" y="252.65" width="3.04" height="29.65" fill="#0075C6"/>
<rect x="300.18" y="246.07" width="3.04" height="6.59" fill="#DE5518"/>
<rect x="300.18" y="232.89" width="3.04" height="13.18" fill="#F0B41E"/>
<rect x="300.18" y="208.25" width="3.04" height="24.64" fill="#812F91"/>
<rect x="300.18" y="160.3" width="3.04" height="47.95" fill="#79AF2E"/>
<rect x="303.8" y="250.34" width="3.04" height="31.96" fill="#0075C6"/>
<rect x="303.8" y="242.41" width="3.04" height="7.93" fill="#DE5518"/>
<rect x="303.8" y="227.77" width="3.04" height="14.64" fill="#F0B41E"/>
<rect x="303.8" y="197.51" width="3.04" height="30.26" fill="#812F91"/>
<rect x="303.8" y="160.3" width="3.04" height="37.21" fill="#79AF2E"/>
<rect x="307.42" y="242.65" width="3.04" height="39.65" fill="#0075C6"/>
<rect x="307.42" y="234.35" width="3.04" height="8.3" fill="#DE5518"/>
<rect x="307.42" y="217.52" width="3.04" height="16.84" fill="#F0B41E"/>
<rect x="307.42" y="182.99" width="3.04" height="34.53" fill="#812F91"/>
<rect x="307.42" y="160.3" width="3.04" height="22.69" fill="#79AF2E"/>
<rect x="311.05" y="237.77" width="3.04" height="44.53" fill="#0075C6"/>
<rect x="311.05" y="228.5" width="3.04" height="9.27" fill="#DE5518"/>
<rect x="311.05" y="209.71" width="3.04" height="18.79" fill="#F0B41E"/>
<rect x="311.05" y="169.45" width="3.04" height="40.26" fill="#812F91"/>
<rect x="311.05" y="160.3" width="3.04" height="9.15" fill="#79AF2E"/>
<rect x="314.67" y="233.26" width="3.04" height="49.04" fill="#0075C6"/>
<rect x="314.67" y="223.13" width="3.04" height="10.13" fill="#DE5518"/>
<rect x="314.67" y="201.54" width="3.04" height="21.59" fill="#F0B41E"/>
<rect x="314.67" y="162.01" width="3.04" height="39.53" fill="#812F91"/>
<rect x="314.67" y="160.3" width="3.04" height="1.71" fill="#79AF2E"/>
<rect x="318.29" y="229.47" width="3.04" height="52.83" fill="#0075C6"/>
<rect x="318.29" y="217.4" width="3.04" height="12.08" fill="#DE5518"/>
<rect x="318.29" y="193.61" width="3.04" height="23.79" fill="#F0B41E"/>
<rect x="318.29" y="160.3" width="3.04" height="33.31" fill="#812F91"/>
<rect x="321.91" y="226.42" width="3.04" height="55.88" fill="#0075C6"/>
<rect x="321.91" y="213.37" width="3.04" height="13.05" fill="#DE5518"/>
<rect x="321.91" y="186.41" width="3.04" height="26.96" fill="#F0B41E"/>
<rect x="321.91" y="160.3" width="3.04" height="26.11" fill="#812F91"/>
<rect x="325.53" y="223.5" width="3.04" height="58.8" fill="#0075C6"/>
<rect x="325.53" y="209.47" width="3.04" height="14.03" fill="#DE5518"/>
<rect x="325.53" y="180.92" width="3.04" height="28.55" fill="#F0B41E"/>
<rect x="325.53" y="160.3" width="3.04" height="20.62" fill="#812F91"/>
<rect x="329.15" y="222.64" width="3.04" height="59.66" fill="#0075C6"/>
<rect x="329.15" y="207.03" width="3.04" height="15.62" fill="#DE5518"/>
<rect x="329.15" y="176.89" width="3.04" height="30.13" fill="#F0B41E"/>
<rect x="329.15" y="160.3" width="3.04" height="16.59" fill="#812F91"/>
<rect x="332.77" y="220.69" width="3.04" height="61.61" fill="#0075C6"/>
<rect x="332.77" y="204.1" width="3.04" height="16.59" fill="#DE5518"/>
<rect x="332.77" y="171.77" width="3.04" height="32.33" fill="#F0B41E"/>
<rect x="332.77" y="160.3" width="3.04" height="11.47" fill="#812F91"/>
<rect x="336.39" y="219.47" width="3.04" height="62.83" fill="#0075C6"/>
<rect x="336.39" y="202.63" width="3.04" height="16.84" fill="#DE5518"/>
<rect x="336.39" y="169.82" width="3.04" height="32.82" fill="#F0B41E"/>
<rect x="336.39" y="160.3" width="3.04" height="9.52" fill="#812F91"/>
<rect x="340.01" y="218.86" width="3.04" height="63.44" fill="#0075C6"/>
<rect x="340.01" y="201.54" width="3.04" height="17.32" fill="#DE5518"/>
<rect x="340.01" y="168.72" width="3.04" height="32.82" fill="#F0B41E"/>
<rect x="340.01" y="160.3" width="3.04" height="8.42" fill="#812F91"/>
<rect x="343.63" y="215.2" width="3.04" height="67.1" fill="#0075C6"/>
<rect x="343.63" y="196.29" width="3.04" height="18.91" fill="#DE5518"/>
<rect x="343.63" y="164.45" width="3.04" height="31.84" fill="#F0B41E"/>
<rect x="343.63" y="160.3" width="3.04" height="4.15" fill="#812F91"/>
<rect x="347.25" y="211.42" width="3.04" height="70.88" fill="#0075C6"/>
<rect x="347.25" y="190.68" width="3.04" height="20.74" fill="#DE5518"/>
<rect x="347.25" y="162.5" width="3.04" height="28.18" fill="#F0B41E"/>
<rect x="347.25" y="160.3" width="3.04" height="2.2" fill="#812F91"/>
<rect x="350.87" y="210.69" width="3.04" height="71.61" fill="#0075C6"/>
<rect x="350.87" y="187.38" width="3.04" height="23.3" fill="#DE5518"/>
<rect x="350.87" y="161.76" width="3.04" height="25.62" fill="#F0B41E"/>
<rect x="350.87" y="160.3" width="3.04" height="1.46" fill="#812F91"/>
<rect x="354.49" y="209.47" width="3.04" height="72.83" fill="#0075C6"/>
<rect x="354.49" y="185.55" width="3.04" height="23.91" fill="#DE5518"/>
<rect x="354.49" y="160.3" width="3.04" height="25.25" fill="#F0B41E"/>
<rect x="358.11" y="208.86" width="3.04" height="73.44" fill="#0075C6"/>
<rect x="358.11" y="183.11" width="3.04" height="25.74" fill="#DE5518"/>
<rect x="358.11" y="160.3" width="3.04" height="22.81" fill="#F0B41E"/>
<rect x="361.73" y="202.51" width="3.04" height="79.79" fill="#0075C6"/>
<rect x="361.73" y="176.65" width="3.04" height="25.86" fill="#DE5518"/>
<rect x="361.73" y="160.3" width="3.04" height="16.35" fill="#F0B41E"/>
<rect x="365.35" y="203" width="3.04" height="79.3" fill="#0075C6"/>
<rect x="365.35" y="176.65" width="3.04" height="26.35" fill="#DE5518"/>
<rect x="365.35" y="160.3" width="3.04" height="16.35" fill="#F0B41E"/>
<rect x="368.97" y="204.46" width="3.04" height="77.84" fill="#0075C6"/>
<rect x="368.97" y="176.65" width="3.04" height="27.82" fill="#DE5518"/>
<rect x="368.97" y="160.3" width="3.04" height="16.35" fill="#F0B41E"/>
<rect x="372.59" y="200.68" width="3.04" height="81.62" fill="#0075C6"/>
<rect x="372.59" y="172.74" width="3.04" height="27.94" fill="#DE5518"/>
<rect x="372.59" y="160.3" width="3.04" height="12.44" fill="#F0B41E"/>
<rect x="376.21" y="196.05" width="3.04" height="86.25" fill="#0075C6"/>
<rect x="376.21" y="169.94" width="3.04" height="26.11" fill="#DE5518"/>
<rect x="376.21" y="160.3" width="3.04" height="9.64" fill="#F0B41E"/>
<rect x="379.83" y="199.71" width="3.04" height="82.59" fill="#0075C6"/>
<rect x="379.83" y="171.77" width="3.04" height="27.94" fill="#DE5518"/>
<rect x="379.83" y="160.3" width="3.04" height="11.47" fill="#F0B41E"/>
<rect x="383.45" y="198.85" width="3.04" height="83.45" fill="#0075C6"/>
<rect x="383.45" y="170.91" width="3.04" height="27.94" fill="#DE5518"/>
<rect x="383.45" y="160.3" width="3.04" height="10.61" fill="#F0B41E"/>
<rect x="387.07" y="200.07" width="3.04" height="82.23" fill="#0075C6"/>
<rect x="387.07" y="171.28" width="3.04" height="28.79" fill="#DE5518"/>
<rect x="387.07" y="160.3" width="3.04" height="10.98" fill="#F0B41E"/>
<rect x="390.69" y="196.53" width="3.04" height="85.77" fill="#0075C6"/>
<rect x="390.69" y="169.69" width="3.04" height="26.84" fill="#DE5518"/>
<rect x="390.69" y="160.3" width="3.04" height="9.39" fill="#F0B41E"/>
<rect x="394.31" y="194.7" width="3.04" height="87.6" fill="#0075C6"/>
<rect x="394.31" y="168.6" width="3.04" height="26.11" fill="#DE5518"/>
<rect x="394.31" y="160.3" width="3.04" height="8.3" fill="#F0B41E"/>
<rect x="397.94" y="198.85" width="3.04" height="83.45" fill="#0075C6"/>
<rect x="397.94" y="170.55" width="3.04" height="28.3" fill="#DE5518"/>
<rect x="397.94" y="160.3" width="3.04" height="10.25" fill="#F0B41E"/>
<rect x="401.56" y="194.58" width="3.04" height="87.72" fill="#0075C6"/>
<rect x="401.56" y="168.11" width="3.04" height="26.47" fill="#DE5518"/>
<rect x="401.56" y="160.3" width="3.04" height="7.81" fill="#F0B41E"/>
<rect x="405.18" y="194.46" width="3.04" height="87.84" fill="#0075C6"/>
<rect x="405.18" y="168.11" width="3.04" height="26.35" fill="#DE5518"/>
<rect x="405.18" y="160.3" width="3.04" height="7.81" fill="#F0B41E"/>
<rect x="408.8" y="192.51" width="3.04" height="89.79" fill="#0075C6"/>
<rect x="408.8" y="167.5" width="3.04" height="25.01" fill="#DE5518"/>
<rect x="408.8" y="160.3" width="3.04" height="7.2" fill="#F0B41E"/>
<rect x="412.42" y="187.02" width="3.04" height="95.28" fill="#0075C6"/>
<rect x="412.42" y="165.79" width="3.04" height="21.23" fill="#DE5518"/>
<rect x="412.42" y="160.3" width="3.04" height="5.49" fill="#F0B41E"/>
<rect x="416.04" y="193.12" width="3.04" height="89.18" fill="#0075C6"/>
<rect x="416.04" y="167.5" width="3.04" height="25.62" fill="#DE5518"/>
<rect x="416.04" y="160.3" width="3.04" height="7.2" fill="#F0B41E"/>
<rect x="419.66" y="190.43" width="3.04" height="91.87" fill="#0075C6"/>
<rect x="419.66" y="166.64" width="3.04" height="23.79" fill="#DE5518"/>
<rect x="419.66" y="160.3" width="3.04" height="6.34" fill="#F0B41E"/>
<rect x="423.28" y="192.26" width="3.04" height="90.04" fill="#0075C6"/>
<rect x="423.28" y="167.5" width="3.04" height="24.77" fill="#DE5518"/>
<rect x="423.28" y="160.3" width="3.04" height="7.2" fill="#F0B41E"/>
<rect x="426.9" y="189.34" width="3.04" height="92.96" fill="#0075C6"/>
<rect x="426.9" y="166.64" width="3.04" height="22.69" fill="#DE5518"/>
<rect x="426.9" y="160.3" width="3.04" height="6.34" fill="#F0B41E"/>
<rect x="430.52" y="191.29" width="3.04" height="91.01" fill="#0075C6"/>
<rect x="430.52" y="166.64" width="3.04" height="24.64" fill="#DE5518"/>
<rect x="430.52" y="160.3" width="3.04" height="6.34" fill="#F0B41E"/>
<rect x="434.14" y="188.48" width="3.04" height="93.82" fill="#0075C6"/>
<rect x="434.14" y="165.79" width="3.04" height="22.69" fill="#DE5518"/>
<rect x="434.14" y="160.3" width="3.04" height="5.49" fill="#F0B41E"/>
<rect x="437.76" y="187.26" width="3.04" height="95.04" fill="#0075C6"/>
<rect x="437.76" y="165.79" width="3.04" height="21.47" fill="#DE5518"/>
<rect x="437.76" y="160.3" width="3.04" height="5.49" fill="#F0B41E"/>
<rect x="441.38" y="185.43" width="3.04" height="96.87" fill="#0075C6"/>
<rect x="441.38" y="165.18" width="3.04" height="20.25" fill="#DE5518"/>
<rect x="441.38" y="160.3" width="3.04" height="4.88" fill="#F0B41E"/>
<path d="M263.98 160.3V282.3M267.02 160.3V282.3M263.98 160.3H267.02M263.98 282.3H267.02M267.6 160.3V282.3M270.64 160.3V282.3M267.6 160.3H270.64M267.6 282.3H270.64M271.22 160.3V282.3M274.26 160.3V282.3M271.22 160.3H274.26M271.22 282.3H274.26M274.84 160.3V282.3M277.88 160.3V282.3M274.84 160.3H277.88M274.84 282.3H277.88M278.46 160.3V282.3M281.5 160.3V282.3M278.46 276.57H281.5M278.46 160.3H281.5M278.46 282.3H281.5M282.08 160.3V282.3M285.12 160.3V282.3M282.08 279.86H285.12M282.08 273.76H285.12M282.08 265.59H285.12M282.08 160.3H285.12M282.08 282.3H285.12M285.7 160.3V282.3M288.74 160.3V282.3M285.7 275.71H288.74M285.7 272.17H288.74M285.7 264.12H288.74M285.7 254.48H288.74M285.7 160.3H288.74M285.7 282.3H288.74M289.32 160.3V282.3M292.36 160.3V282.3M289.32 269.12H292.36M289.32 264.73H292.36M289.32 254.48H292.36M289.32 243.75H292.36M289.32 160.3H292.36M289.32 282.3H292.36M292.94 160.3V282.3M295.98 160.3V282.3M292.94 263.02H295.98M292.94 257.9H295.98M292.94 247.65H295.98M292.94 232.16H295.98M292.94 160.3H295.98M292.94 282.3H295.98M296.56 160.3V282.3M299.6 160.3V282.3M296.56 257.9H299.6M296.56 252.65H299.6M296.56 240.7H299.6M296.56 221.3H299.6M296.56 160.3H299.6M296.56 282.3H299.6M300.18 160.3V282.3M303.22 160.3V282.3M300.18 252.65H303.22M300.18 246.07H303.22M300.18 232.89H303.22M300.18 208.25H303.22M300.18 160.3H303.22M300.18 282.3H303.22M303.8 160.3V282.3M306.84 160.3V282.3M303.8 250.34H306.84M303.8 242.41H306.84M303.8 227.77H306.84M303.8 197.51H306.84M303.8 160.3H306.84M303.8 282.3H306.84M307.42 160.3V282.3M310.46 160.3V282.3M307.42 242.65H310.46M307.42 234.35H310.46M307.42 217.52H310.46M307.42 182.99H310.46M307.42 160.3H310.46M307.42 282.3H310.46M311.05 160.3V282.3M314.09 160.3V282.3M311.05 237.77H314.09M311.05 228.5H314.09M311.05 209.71H314.09M311.05 169.45H314.09M311.05 160.3H314.09M311.05 282.3H314.09M314.67 160.3V282.3M317.71 160.3V282.3M314.67 233.26H317.71M314.67 223.13H317.71M314.67 201.54H317.71M314.67 162.01H317.71M314.67 160.3H317.71M314.67 282.3H317.71M318.29 160.3V282.3M321.33 160.3V282.3M318.29 229.47H321.33M318.29 217.4H321.33M318.29 193.61H321.33M318.29 160.3H321.33M318.29 282.3H321.33M321.91 160.3V282.3M324.95 160.3V282.3M321.91 226.42H324.95M321.91 213.37H324.95M321.91 186.41H324.95M321.91 160.3H324.95M321.91 282.3H324.95M325.53 160.3V282.3M328.57 160.3V282.3M325.53 223.5H328.57M325.53 209.47H328.57M325.53 180.92H328.57M325.53 160.3H328.57M325.53 282.3H328.57M329.15 160.3V282.3M332.19 160.3V282.3M329.15 222.64H332.19M329.15 207.03H332.19M329.15 176.89H332.19M329.15 160.3H332.19M329.15 282.3H332.19M332.77 160.3V282.3M335.81 160.3V282.3M332.77 220.69H335.81M332.77 204.1H335.81M332.77 171.77H335.81M332.77 160.3H335.81M332.77 282.3H335.81M336.39 160.3V282.3M339.43 160.3V282.3M336.39 219.47H339.43M336.39 202.63H339.43M336.39 169.82H339.43M336.39 160.3H339.43M336.39 282.3H339.43M340.01 160.3V282.3M343.05 160.3V282.3M340.01 218.86H343.05M340.01 201.54H343.05M340.01 168.72H343.05M340.01 160.3H343.05M340.01 282.3H343.05M343.63 160.3V282.3M346.67 160.3V282.3M343.63 215.2H346.67M343.63 196.29H346.67M343.63 164.45H346.67M343.63 160.3H346.67M343.63 282.3H346.67M347.25 160.3V282.3M350.29 160.3V282.3M347.25 211.42H350.29M347.25 190.68H350.29M347.25 162.5H350.29M347.25 160.3H350.29M347.25 282.3H350.29M350.87 160.3V282.3M353.91 160.3V282.3M350.87 210.69H353.91M350.87 187.38H353.91M350.87 161.76H353.91M350.87 160.3H353.91M350.87 282.3H353.91M354.49 160.3V282.3M357.53 160.3V282.3M354.49 209.47H357.53M354.49 185.55H357.53M354.49 160.3H357.53M354.49 282.3H357.53M358.11 160.3V282.3M361.15 160.3V282.3M358.11 208.86H361.15M358.11 183.11H361.15M358.11 160.3H361.15M358.11 282.3H361.15M361.73 160.3V282.3M364.77 160.3V282.3M361.73 202.51H364.77M361.73 176.65H364.77M361.73 160.3H364.77M361.73 282.3H364.77M365.35 160.3V282.3M368.39 160.3V282.3M365.35 203H368.39M365.35 176.65H368.39M365.35 160.3H368.39M365.35 282.3H368.39M368.97 160.3V282.3M372.01 160.3V282.3M368.97 204.46H372.01M368.97 176.65H372.01M368.97 160.3H372.01M368.97 282.3H372.01M372.59 160.3V282.3M375.63 160.3V282.3M372.59 200.68H375.63M372.59 172.74H375.63M372.59 160.3H375.63M372.59 282.3H375.63M376.21 160.3V282.3M379.25 160.3V282.3M376.21 196.05H379.25M376.21 169.94H379.25M376.21 160.3H379.25M376.21 282.3H379.25M379.83 160.3V282.3M382.87 160.3V282.3M379.83 199.71H382.87M379.83 171.77H382.87M379.83 160.3H382.87M379.83 282.3H382.87M383.45 160.3V282.3M386.49 160.3V282.3M383.45 198.85H386.49M383.45 170.91H386.49M383.45 160.3H386.49M383.45 282.3H386.49M387.07 160.3V282.3M390.11 160.3V282.3M387.07 200.07H390.11M387.07 171.28H390.11M387.07 160.3H390.11M387.07 282.3H390.11M390.69 160.3V282.3M393.73 160.3V282.3M390.69 196.53H393.73M390.69 169.69H393.73M390.69 160.3H393.73M390.69 282.3H393.73M394.31 160.3V282.3M397.35 160.3V282.3M394.31 194.7H397.35M394.31 168.6H397.35M394.31 160.3H397.35M394.31 282.3H397.35M397.94 160.3V282.3M400.98 160.3V282.3M397.94 198.85H400.98M397.94 170.55H400.98M397.94 160.3H400.98M397.94 282.3H400.98M401.56 160.3V282.3M404.6 160.3V282.3M401.56 194.58H404.6M401.56 168.11H404.6M401.56 160.3H404.6M401.56 282.3H404.6M405.18 160.3V282.3M408.22 160.3V282.3M405.18 194.46H408.22M405.18 168.11H408.22M405.18 160.3H408.22M405.18 282.3H408.22M408.8 160.3V282.3M411.84 160.3V282.3M408.8 192.51H411.84M408.8 167.5H411.84M408.8 160.3H411.84M408.8 282.3H411.84M412.42 160.3V282.3M415.46 160.3V282.3M412.42 187.02H415.46M412.42 165.79H415.46M412.42 160.3H415.46M412.42 282.3H415.46M416.04 160.3V282.3M419.08 160.3V282.3M416.04 193.12H419.08M416.04 167.5H419.08M416.04 160.3H419.08M416.04 282.3H419.08M419.66 160.3V282.3M422.7 160.3V282.3M419.66 190.43H422.7M419.66 166.64H422.7M419.66 160.3H422.7M419.66 282.3H422.7M423.28 160.3V282.3M426.32 160.3V282.3M423.28 192.26H426.32M423.28 167.5H426.32M423.28 160.3H426.32M423.28 282.3H426.32M426.9 160.3V282.3M429.94 160.3V282.3M426.9 189.34H429.94M426.9 166.64H429.94M426.9 160.3H429.94M426.9 282.3H429.94M430.52 160.3V282.3M433.56 160.3V282.3M430.52 191.29H433.56M430.52 166.64H433.56M430.52 160.3H433.56M430.52 282.3H433.56M434.14 160.3V282.3M437.18 160.3V282.3M434.14 188.48H437.18M434.14 165.79H437.18M434.14 160.3H437.18M434.14 282.3H437.18M437.76 160.3V282.3M440.8 160.3V282.3M437.76 187.26H440.8M437.76 165.79H440.8M437.76 160.3H440.8M437.76 282.3H440.8M441.38 160.3V282.3M444.42 160.3V282.3M441.38 185.43H444.42M441.38 165.18H444.42M441.38 160.3H444.42M441.38 282.3H444.42" stroke="#000" stroke-width="0.75" fill="none"/>
<rect x="261.4" y="160.3" width="185.9" height="122" fill="none" stroke="#6e6e6e" stroke-width="0.8"/>
<path d="M261.4 282.3h1.8M447.3 282.3h-1.8M261.4 257.9h1.8M447.3 257.9h-1.8M261.4 233.5h1.8M447.3 233.5h-1.8M261.4 209.1h1.8M447.3 209.1h-1.8M261.4 184.7h1.8M447.3 184.7h-1.8M261.4 160.3h1.8M447.3 160.3h-1.8" stroke="#6e6e6e" stroke-width="0.7"/>
<rect x="470.6" y="160.3" width="185.7" height="122" fill="#fff"/>
<rect x="473.08" y="160.3" width="3.04" height="122" fill="#79AF2E"/>
<rect x="476.71" y="160.3" width="3.04" height="122" fill="#79AF2E"/>
<rect x="480.33" y="160.3" width="3.04" height="122" fill="#79AF2E"/>
<rect x="483.96" y="160.3" width="3.04" height="122" fill="#79AF2E"/>
<rect x="487.59" y="276.57" width="3.04" height="5.73" fill="#812F91"/>
<rect x="487.59" y="160.3" width="3.04" height="116.27" fill="#79AF2E"/>
<rect x="491.21" y="279.86" width="3.04" height="2.44" fill="#DE5518"/>
<rect x="491.21" y="273.76" width="3.04" height="6.1" fill="#F0B41E"/>
<rect x="491.21" y="265.59" width="3.04" height="8.17" fill="#812F91"/>
<rect x="491.21" y="160.3" width="3.04" height="105.29" fill="#79AF2E"/>
<rect x="494.84" y="275.71" width="3.04" height="6.59" fill="#0075C6"/>
<rect x="494.84" y="272.17" width="3.04" height="3.54" fill="#DE5518"/>
<rect x="494.84" y="264.12" width="3.04" height="8.05" fill="#F0B41E"/>
<rect x="494.84" y="254.48" width="3.04" height="9.64" fill="#812F91"/>
<rect x="494.84" y="160.3" width="3.04" height="94.18" fill="#79AF2E"/>
<rect x="498.47" y="269.12" width="3.04" height="13.18" fill="#0075C6"/>
<rect x="498.47" y="264.73" width="3.04" height="4.39" fill="#DE5518"/>
<rect x="498.47" y="254.48" width="3.04" height="10.25" fill="#F0B41E"/>
<rect x="498.47" y="243.75" width="3.04" height="10.74" fill="#812F91"/>
<rect x="498.47" y="160.3" width="3.04" height="83.45" fill="#79AF2E"/>
<rect x="502.09" y="263.02" width="3.04" height="19.28" fill="#0075C6"/>
<rect x="502.09" y="257.9" width="3.04" height="5.12" fill="#DE5518"/>
<rect x="502.09" y="247.65" width="3.04" height="10.25" fill="#F0B41E"/>
<rect x="502.09" y="232.16" width="3.04" height="15.49" fill="#812F91"/>
<rect x="502.09" y="160.3" width="3.04" height="71.86" fill="#79AF2E"/>
<rect x="505.72" y="257.9" width="3.04" height="24.4" fill="#0075C6"/>
<rect x="505.72" y="252.65" width="3.04" height="5.25" fill="#DE5518"/>
<rect x="505.72" y="240.7" width="3.04" height="11.96" fill="#F0B41E"/>
<rect x="505.72" y="221.3" width="3.04" height="19.4" fill="#812F91"/>
<rect x="505.72" y="160.3" width="3.04" height="61" fill="#79AF2E"/>
<rect x="509.35" y="252.65" width="3.04" height="29.65" fill="#0075C6"/>
<rect x="509.35" y="246.07" width="3.04" height="6.59" fill="#DE5518"/>
<rect x="509.35" y="232.89" width="3.04" height="13.18" fill="#F0B41E"/>
<rect x="509.35" y="208.25" width="3.04" height="24.64" fill="#812F91"/>
<rect x="509.35" y="160.3" width="3.04" height="47.95" fill="#79AF2E"/>
<rect x="512.97" y="250.34" width="3.04" height="31.96" fill="#0075C6"/>
<rect x="512.97" y="242.41" width="3.04" height="7.93" fill="#DE5518"/>
<rect x="512.97" y="227.77" width="3.04" height="14.64" fill="#F0B41E"/>
<rect x="512.97" y="197.51" width="3.04" height="30.26" fill="#812F91"/>
<rect x="512.97" y="160.3" width="3.04" height="37.21" fill="#79AF2E"/>
<rect x="516.6" y="242.65" width="3.04" height="39.65" fill="#0075C6"/>
<rect x="516.6" y="234.35" width="3.04" height="8.3" fill="#DE5518"/>
<rect x="516.6" y="217.52" width="3.04" height="16.84" fill="#F0B41E"/>
<rect x="516.6" y="182.99" width="3.04" height="34.53" fill="#812F91"/>
<rect x="516.6" y="160.3" width="3.04" height="22.69" fill="#79AF2E"/>
<rect x="520.22" y="237.77" width="3.04" height="44.53" fill="#0075C6"/>
<rect x="520.22" y="228.5" width="3.04" height="9.27" fill="#DE5518"/>
<rect x="520.22" y="209.71" width="3.04" height="18.79" fill="#F0B41E"/>
<rect x="520.22" y="169.45" width="3.04" height="40.26" fill="#812F91"/>
<rect x="520.22" y="160.3" width="3.04" height="9.15" fill="#79AF2E"/>
<rect x="523.85" y="233.26" width="3.04" height="49.04" fill="#0075C6"/>
<rect x="523.85" y="223.13" width="3.04" height="10.13" fill="#DE5518"/>
<rect x="523.85" y="201.54" width="3.04" height="21.59" fill="#F0B41E"/>
<rect x="523.85" y="162.01" width="3.04" height="39.53" fill="#812F91"/>
<rect x="523.85" y="160.3" width="3.04" height="1.71" fill="#79AF2E"/>
<rect x="527.48" y="229.47" width="3.04" height="52.83" fill="#0075C6"/>
<rect x="527.48" y="217.4" width="3.04" height="12.08" fill="#DE5518"/>
<rect x="527.48" y="193.61" width="3.04" height="23.79" fill="#F0B41E"/>
<rect x="527.48" y="160.3" width="3.04" height="33.31" fill="#812F91"/>
<rect x="531.1" y="226.42" width="3.04" height="55.88" fill="#0075C6"/>
<rect x="531.1" y="213.37" width="3.04" height="13.05" fill="#DE5518"/>
<rect x="531.1" y="186.41" width="3.04" height="26.96" fill="#F0B41E"/>
<rect x="531.1" y="160.3" width="3.04" height="26.11" fill="#812F91"/>
<rect x="534.73" y="223.5" width="3.04" height="58.8" fill="#0075C6"/>
<rect x="534.73" y="209.47" width="3.04" height="14.03" fill="#DE5518"/>
<rect x="534.73" y="180.92" width="3.04" height="28.55" fill="#F0B41E"/>
<rect x="534.73" y="160.3" width="3.04" height="20.62" fill="#812F91"/>
<rect x="538.36" y="222.64" width="3.04" height="59.66" fill="#0075C6"/>
<rect x="538.36" y="207.03" width="3.04" height="15.62" fill="#DE5518"/>
<rect x="538.36" y="176.89" width="3.04" height="30.13" fill="#F0B41E"/>
<rect x="538.36" y="160.3" width="3.04" height="16.59" fill="#812F91"/>
<rect x="541.98" y="220.69" width="3.04" height="61.61" fill="#0075C6"/>
<rect x="541.98" y="204.1" width="3.04" height="16.59" fill="#DE5518"/>
<rect x="541.98" y="171.77" width="3.04" height="32.33" fill="#F0B41E"/>
<rect x="541.98" y="160.3" width="3.04" height="11.47" fill="#812F91"/>
<rect x="545.61" y="219.47" width="3.04" height="62.83" fill="#0075C6"/>
<rect x="545.61" y="202.63" width="3.04" height="16.84" fill="#DE5518"/>
<rect x="545.61" y="169.82" width="3.04" height="32.82" fill="#F0B41E"/>
<rect x="545.61" y="160.3" width="3.04" height="9.52" fill="#812F91"/>
<rect x="549.24" y="218.86" width="3.04" height="63.44" fill="#0075C6"/>
<rect x="549.24" y="201.54" width="3.04" height="17.32" fill="#DE5518"/>
<rect x="549.24" y="168.72" width="3.04" height="32.82" fill="#F0B41E"/>
<rect x="549.24" y="160.3" width="3.04" height="8.42" fill="#812F91"/>
<rect x="552.86" y="215.2" width="3.04" height="67.1" fill="#0075C6"/>
<rect x="552.86" y="196.29" width="3.04" height="18.91" fill="#DE5518"/>
<rect x="552.86" y="164.45" width="3.04" height="31.84" fill="#F0B41E"/>
<rect x="552.86" y="160.3" width="3.04" height="4.15" fill="#812F91"/>
<rect x="556.49" y="211.42" width="3.04" height="70.88" fill="#0075C6"/>
<rect x="556.49" y="190.68" width="3.04" height="20.74" fill="#DE5518"/>
<rect x="556.49" y="162.5" width="3.04" height="28.18" fill="#F0B41E"/>
<rect x="556.49" y="160.3" width="3.04" height="2.2" fill="#812F91"/>
<rect x="560.12" y="210.69" width="3.04" height="71.61" fill="#0075C6"/>
<rect x="560.12" y="187.38" width="3.04" height="23.3" fill="#DE5518"/>
<rect x="560.12" y="161.76" width="3.04" height="25.62" fill="#F0B41E"/>
<rect x="560.12" y="160.3" width="3.04" height="1.46" fill="#812F91"/>
<rect x="563.74" y="209.47" width="3.04" height="72.83" fill="#0075C6"/>
<rect x="563.74" y="185.55" width="3.04" height="23.91" fill="#DE5518"/>
<rect x="563.74" y="160.3" width="3.04" height="25.25" fill="#F0B41E"/>
<rect x="567.37" y="208.86" width="3.04" height="73.44" fill="#0075C6"/>
<rect x="567.37" y="183.11" width="3.04" height="25.74" fill="#DE5518"/>
<rect x="567.37" y="160.3" width="3.04" height="22.81" fill="#F0B41E"/>
<rect x="571" y="202.51" width="3.04" height="79.79" fill="#0075C6"/>
<rect x="571" y="176.65" width="3.04" height="25.86" fill="#DE5518"/>
<rect x="571" y="160.3" width="3.04" height="16.35" fill="#F0B41E"/>
<rect x="574.62" y="203" width="3.04" height="79.3" fill="#0075C6"/>
<rect x="574.62" y="176.65" width="3.04" height="26.35" fill="#DE5518"/>
<rect x="574.62" y="160.3" width="3.04" height="16.35" fill="#F0B41E"/>
<rect x="578.25" y="204.46" width="3.04" height="77.84" fill="#0075C6"/>
<rect x="578.25" y="176.65" width="3.04" height="27.82" fill="#DE5518"/>
<rect x="578.25" y="160.3" width="3.04" height="16.35" fill="#F0B41E"/>
<rect x="581.88" y="200.68" width="3.04" height="81.62" fill="#0075C6"/>
<rect x="581.88" y="172.74" width="3.04" height="27.94" fill="#DE5518"/>
<rect x="581.88" y="160.3" width="3.04" height="12.44" fill="#F0B41E"/>
<rect x="585.5" y="196.05" width="3.04" height="86.25" fill="#0075C6"/>
<rect x="585.5" y="169.94" width="3.04" height="26.11" fill="#DE5518"/>
<rect x="585.5" y="160.3" width="3.04" height="9.64" fill="#F0B41E"/>
<rect x="589.13" y="199.71" width="3.04" height="82.59" fill="#0075C6"/>
<rect x="589.13" y="171.77" width="3.04" height="27.94" fill="#DE5518"/>
<rect x="589.13" y="160.3" width="3.04" height="11.47" fill="#F0B41E"/>
<rect x="592.76" y="198.85" width="3.04" height="83.45" fill="#0075C6"/>
<rect x="592.76" y="170.91" width="3.04" height="27.94" fill="#DE5518"/>
<rect x="592.76" y="160.3" width="3.04" height="10.61" fill="#F0B41E"/>
<rect x="596.38" y="200.07" width="3.04" height="82.23" fill="#0075C6"/>
<rect x="596.38" y="171.28" width="3.04" height="28.79" fill="#DE5518"/>
<rect x="596.38" y="160.3" width="3.04" height="10.98" fill="#F0B41E"/>
<rect x="600.01" y="196.53" width="3.04" height="85.77" fill="#0075C6"/>
<rect x="600.01" y="169.69" width="3.04" height="26.84" fill="#DE5518"/>
<rect x="600.01" y="160.3" width="3.04" height="9.39" fill="#F0B41E"/>
<rect x="603.64" y="194.7" width="3.04" height="87.6" fill="#0075C6"/>
<rect x="603.64" y="168.6" width="3.04" height="26.11" fill="#DE5518"/>
<rect x="603.64" y="160.3" width="3.04" height="8.3" fill="#F0B41E"/>
<rect x="607.26" y="198.85" width="3.04" height="83.45" fill="#0075C6"/>
<rect x="607.26" y="170.55" width="3.04" height="28.3" fill="#DE5518"/>
<rect x="607.26" y="160.3" width="3.04" height="10.25" fill="#F0B41E"/>
<rect x="610.89" y="194.58" width="3.04" height="87.72" fill="#0075C6"/>
<rect x="610.89" y="168.11" width="3.04" height="26.47" fill="#DE5518"/>
<rect x="610.89" y="160.3" width="3.04" height="7.81" fill="#F0B41E"/>
<rect x="614.51" y="194.46" width="3.04" height="87.84" fill="#0075C6"/>
<rect x="614.51" y="168.11" width="3.04" height="26.35" fill="#DE5518"/>
<rect x="614.51" y="160.3" width="3.04" height="7.81" fill="#F0B41E"/>
<rect x="618.14" y="192.51" width="3.04" height="89.79" fill="#0075C6"/>
<rect x="618.14" y="167.5" width="3.04" height="25.01" fill="#DE5518"/>
<rect x="618.14" y="160.3" width="3.04" height="7.2" fill="#F0B41E"/>
<rect x="621.77" y="187.02" width="3.04" height="95.28" fill="#0075C6"/>
<rect x="621.77" y="165.79" width="3.04" height="21.23" fill="#DE5518"/>
<rect x="621.77" y="160.3" width="3.04" height="5.49" fill="#F0B41E"/>
<rect x="625.39" y="193.12" width="3.04" height="89.18" fill="#0075C6"/>
<rect x="625.39" y="167.5" width="3.04" height="25.62" fill="#DE5518"/>
<rect x="625.39" y="160.3" width="3.04" height="7.2" fill="#F0B41E"/>
<rect x="629.02" y="190.43" width="3.04" height="91.87" fill="#0075C6"/>
<rect x="629.02" y="166.64" width="3.04" height="23.79" fill="#DE5518"/>
<rect x="629.02" y="160.3" width="3.04" height="6.34" fill="#F0B41E"/>
<rect x="632.65" y="192.26" width="3.04" height="90.04" fill="#0075C6"/>
<rect x="632.65" y="167.5" width="3.04" height="24.77" fill="#DE5518"/>
<rect x="632.65" y="160.3" width="3.04" height="7.2" fill="#F0B41E"/>
<rect x="636.27" y="189.34" width="3.04" height="92.96" fill="#0075C6"/>
<rect x="636.27" y="166.64" width="3.04" height="22.69" fill="#DE5518"/>
<rect x="636.27" y="160.3" width="3.04" height="6.34" fill="#F0B41E"/>
<rect x="639.9" y="191.29" width="3.04" height="91.01" fill="#0075C6"/>
<rect x="639.9" y="166.64" width="3.04" height="24.64" fill="#DE5518"/>
<rect x="639.9" y="160.3" width="3.04" height="6.34" fill="#F0B41E"/>
<rect x="643.53" y="188.48" width="3.04" height="93.82" fill="#0075C6"/>
<rect x="643.53" y="165.79" width="3.04" height="22.69" fill="#DE5518"/>
<rect x="643.53" y="160.3" width="3.04" height="5.49" fill="#F0B41E"/>
<rect x="647.15" y="187.26" width="3.04" height="95.04" fill="#0075C6"/>
<rect x="647.15" y="165.79" width="3.04" height="21.47" fill="#DE5518"/>
<rect x="647.15" y="160.3" width="3.04" height="5.49" fill="#F0B41E"/>
<rect x="650.78" y="185.43" width="3.04" height="96.87" fill="#0075C6"/>
<rect x="650.78" y="165.18" width="3.04" height="20.25" fill="#DE5518"/>
<rect x="650.78" y="160.3" width="3.04" height="4.88" fill="#F0B41E"/>
<path d="M473.08 160.3V282.3M476.12 160.3V282.3M473.08 160.3H476.12M473.08 282.3H476.12M476.71 160.3V282.3M479.75 160.3V282.3M476.71 160.3H479.75M476.71 282.3H479.75M480.33 160.3V282.3M483.37 160.3V282.3M480.33 160.3H483.37M480.33 282.3H483.37M483.96 160.3V282.3M487 160.3V282.3M483.96 160.3H487M483.96 282.3H487M487.59 160.3V282.3M490.63 160.3V282.3M487.59 276.57H490.63M487.59 160.3H490.63M487.59 282.3H490.63M491.21 160.3V282.3M494.25 160.3V282.3M491.21 279.86H494.25M491.21 273.76H494.25M491.21 265.59H494.25M491.21 160.3H494.25M491.21 282.3H494.25M494.84 160.3V282.3M497.88 160.3V282.3M494.84 275.71H497.88M494.84 272.17H497.88M494.84 264.12H497.88M494.84 254.48H497.88M494.84 160.3H497.88M494.84 282.3H497.88M498.47 160.3V282.3M501.51 160.3V282.3M498.47 269.12H501.51M498.47 264.73H501.51M498.47 254.48H501.51M498.47 243.75H501.51M498.47 160.3H501.51M498.47 282.3H501.51M502.09 160.3V282.3M505.13 160.3V282.3M502.09 263.02H505.13M502.09 257.9H505.13M502.09 247.65H505.13M502.09 232.16H505.13M502.09 160.3H505.13M502.09 282.3H505.13M505.72 160.3V282.3M508.76 160.3V282.3M505.72 257.9H508.76M505.72 252.65H508.76M505.72 240.7H508.76M505.72 221.3H508.76M505.72 160.3H508.76M505.72 282.3H508.76M509.35 160.3V282.3M512.39 160.3V282.3M509.35 252.65H512.39M509.35 246.07H512.39M509.35 232.89H512.39M509.35 208.25H512.39M509.35 160.3H512.39M509.35 282.3H512.39M512.97 160.3V282.3M516.01 160.3V282.3M512.97 250.34H516.01M512.97 242.41H516.01M512.97 227.77H516.01M512.97 197.51H516.01M512.97 160.3H516.01M512.97 282.3H516.01M516.6 160.3V282.3M519.64 160.3V282.3M516.6 242.65H519.64M516.6 234.35H519.64M516.6 217.52H519.64M516.6 182.99H519.64M516.6 160.3H519.64M516.6 282.3H519.64M520.22 160.3V282.3M523.26 160.3V282.3M520.22 237.77H523.26M520.22 228.5H523.26M520.22 209.71H523.26M520.22 169.45H523.26M520.22 160.3H523.26M520.22 282.3H523.26M523.85 160.3V282.3M526.89 160.3V282.3M523.85 233.26H526.89M523.85 223.13H526.89M523.85 201.54H526.89M523.85 162.01H526.89M523.85 160.3H526.89M523.85 282.3H526.89M527.48 160.3V282.3M530.52 160.3V282.3M527.48 229.47H530.52M527.48 217.4H530.52M527.48 193.61H530.52M527.48 160.3H530.52M527.48 282.3H530.52M531.1 160.3V282.3M534.14 160.3V282.3M531.1 226.42H534.14M531.1 213.37H534.14M531.1 186.41H534.14M531.1 160.3H534.14M531.1 282.3H534.14M534.73 160.3V282.3M537.77 160.3V282.3M534.73 223.5H537.77M534.73 209.47H537.77M534.73 180.92H537.77M534.73 160.3H537.77M534.73 282.3H537.77M538.36 160.3V282.3M541.4 160.3V282.3M538.36 222.64H541.4M538.36 207.03H541.4M538.36 176.89H541.4M538.36 160.3H541.4M538.36 282.3H541.4M541.98 160.3V282.3M545.02 160.3V282.3M541.98 220.69H545.02M541.98 204.1H545.02M541.98 171.77H545.02M541.98 160.3H545.02M541.98 282.3H545.02M545.61 160.3V282.3M548.65 160.3V282.3M545.61 219.47H548.65M545.61 202.63H548.65M545.61 169.82H548.65M545.61 160.3H548.65M545.61 282.3H548.65M549.24 160.3V282.3M552.28 160.3V282.3M549.24 218.86H552.28M549.24 201.54H552.28M549.24 168.72H552.28M549.24 160.3H552.28M549.24 282.3H552.28M552.86 160.3V282.3M555.9 160.3V282.3M552.86 215.2H555.9M552.86 196.29H555.9M552.86 164.45H555.9M552.86 160.3H555.9M552.86 282.3H555.9M556.49 160.3V282.3M559.53 160.3V282.3M556.49 211.42H559.53M556.49 190.68H559.53M556.49 162.5H559.53M556.49 160.3H559.53M556.49 282.3H559.53M560.12 160.3V282.3M563.16 160.3V282.3M560.12 210.69H563.16M560.12 187.38H563.16M560.12 161.76H563.16M560.12 160.3H563.16M560.12 282.3H563.16M563.74 160.3V282.3M566.78 160.3V282.3M563.74 209.47H566.78M563.74 185.55H566.78M563.74 160.3H566.78M563.74 282.3H566.78M567.37 160.3V282.3M570.41 160.3V282.3M567.37 208.86H570.41M567.37 183.11H570.41M567.37 160.3H570.41M567.37 282.3H570.41M571 160.3V282.3M574.04 160.3V282.3M571 202.51H574.04M571 176.65H574.04M571 160.3H574.04M571 282.3H574.04M574.62 160.3V282.3M577.66 160.3V282.3M574.62 203H577.66M574.62 176.65H577.66M574.62 160.3H577.66M574.62 282.3H577.66M578.25 160.3V282.3M581.29 160.3V282.3M578.25 204.46H581.29M578.25 176.65H581.29M578.25 160.3H581.29M578.25 282.3H581.29M581.88 160.3V282.3M584.92 160.3V282.3M581.88 200.68H584.92M581.88 172.74H584.92M581.88 160.3H584.92M581.88 282.3H584.92M585.5 160.3V282.3M588.54 160.3V282.3M585.5 196.05H588.54M585.5 169.94H588.54M585.5 160.3H588.54M585.5 282.3H588.54M589.13 160.3V282.3M592.17 160.3V282.3M589.13 199.71H592.17M589.13 171.77H592.17M589.13 160.3H592.17M589.13 282.3H592.17M592.76 160.3V282.3M595.8 160.3V282.3M592.76 198.85H595.8M592.76 170.91H595.8M592.76 160.3H595.8M592.76 282.3H595.8M596.38 160.3V282.3M599.42 160.3V282.3M596.38 200.07H599.42M596.38 171.28H599.42M596.38 160.3H599.42M596.38 282.3H599.42M600.01 160.3V282.3M603.05 160.3V282.3M600.01 196.53H603.05M600.01 169.69H603.05M600.01 160.3H603.05M600.01 282.3H603.05M603.64 160.3V282.3M606.68 160.3V282.3M603.64 194.7H606.68M603.64 168.6H606.68M603.64 160.3H606.68M603.64 282.3H606.68M607.26 160.3V282.3M610.3 160.3V282.3M607.26 198.85H610.3M607.26 170.55H610.3M607.26 160.3H610.3M607.26 282.3H610.3M610.89 160.3V282.3M613.93 160.3V282.3M610.89 194.58H613.93M610.89 168.11H613.93M610.89 160.3H613.93M610.89 282.3H613.93M614.51 160.3V282.3M617.55 160.3V282.3M614.51 194.46H617.55M614.51 168.11H617.55M614.51 160.3H617.55M614.51 282.3H617.55M618.14 160.3V282.3M621.18 160.3V282.3M618.14 192.51H621.18M618.14 167.5H621.18M618.14 160.3H621.18M618.14 282.3H621.18M621.77 160.3V282.3M624.81 160.3V282.3M621.77 187.02H624.81M621.77 165.79H624.81M621.77 160.3H624.81M621.77 282.3H624.81M625.39 160.3V282.3M628.43 160.3V282.3M625.39 193.12H628.43M625.39 167.5H628.43M625.39 160.3H628.43M625.39 282.3H628.43M629.02 160.3V282.3M632.06 160.3V282.3M629.02 190.43H632.06M629.02 166.64H632.06M629.02 160.3H632.06M629.02 282.3H632.06M632.65 160.3V282.3M635.69 160.3V282.3M632.65 192.26H635.69M632.65 167.5H635.69M632.65 160.3H635.69M632.65 282.3H635.69M636.27 160.3V282.3M639.31 160.3V282.3M636.27 189.34H639.31M636.27 166.64H639.31M636.27 160.3H639.31M636.27 282.3H639.31M639.9 160.3V282.3M642.94 160.3V282.3M639.9 191.29H642.94M639.9 166.64H642.94M639.9 160.3H642.94M639.9 282.3H642.94M643.53 160.3V282.3M646.57 160.3V282.3M643.53 188.48H646.57M643.53 165.79H646.57M643.53 160.3H646.57M643.53 282.3H646.57M647.15 160.3V282.3M650.19 160.3V282.3M647.15 187.26H650.19M647.15 165.79H650.19M647.15 160.3H650.19M647.15 282.3H650.19M650.78 160.3V282.3M653.82 160.3V282.3M650.78 185.43H653.82M650.78 165.18H653.82M650.78 160.3H653.82M650.78 282.3H653.82" stroke="#000" stroke-width="0.75" fill="none"/>
<rect x="470.6" y="160.3" width="185.7" height="122" fill="none" stroke="#6e6e6e" stroke-width="0.8"/>
<path d="M470.6 282.3h1.8M656.3 282.3h-1.8M470.6 257.9h1.8M656.3 257.9h-1.8M470.6 233.5h1.8M656.3 233.5h-1.8M470.6 209.1h1.8M656.3 209.1h-1.8M470.6 184.7h1.8M656.3 184.7h-1.8M470.6 160.3h1.8M656.3 160.3h-1.8" stroke="#6e6e6e" stroke-width="0.7"/>
<rect x="50.6" y="313.1" width="186.8" height="122.2" fill="#fff"/>
<rect x="53.28" y="313.1" width="3.04" height="122.2" fill="#79AF2E"/>
<rect x="56.91" y="313.1" width="3.04" height="122.2" fill="#79AF2E"/>
<rect x="60.55" y="313.1" width="3.04" height="122.2" fill="#79AF2E"/>
<rect x="64.18" y="313.1" width="3.04" height="122.2" fill="#79AF2E"/>
<rect x="67.82" y="430.17" width="3.04" height="5.13" fill="#812F91"/>
<rect x="67.82" y="313.1" width="3.04" height="117.07" fill="#79AF2E"/>
<rect x="71.45" y="432.73" width="3.04" height="2.57" fill="#F0B41E"/>
<rect x="71.45" y="419.05" width="3.04" height="13.69" fill="#812F91"/>
<rect x="71.45" y="313.1" width="3.04" height="105.95" fill="#79AF2E"/>
<rect x="75.09" y="432.86" width="3.04" height="2.44" fill="#DE5518"/>
<rect x="75.09" y="422.35" width="3.04" height="10.51" fill="#F0B41E"/>
<rect x="75.09" y="406.58" width="3.04" height="15.76" fill="#812F91"/>
<rect x="75.09" y="313.1" width="3.04" height="93.48" fill="#79AF2E"/>
<rect x="78.72" y="430.9" width="3.04" height="4.4" fill="#0075C6"/>
<rect x="78.72" y="424.79" width="3.04" height="6.11" fill="#DE5518"/>
<rect x="78.72" y="412.94" width="3.04" height="11.85" fill="#F0B41E"/>
<rect x="78.72" y="394.12" width="3.04" height="18.82" fill="#812F91"/>
<rect x="78.72" y="313.1" width="3.04" height="81.02" fill="#79AF2E"/>
<rect x="82.36" y="425.4" width="3.04" height="9.9" fill="#0075C6"/>
<rect x="82.36" y="418.8" width="3.04" height="6.6" fill="#DE5518"/>
<rect x="82.36" y="405.73" width="3.04" height="13.08" fill="#F0B41E"/>
<rect x="82.36" y="382.75" width="3.04" height="22.97" fill="#812F91"/>
<rect x="82.36" y="313.1" width="3.04" height="69.65" fill="#79AF2E"/>
<rect x="85.99" y="419.78" width="3.04" height="15.52" fill="#0075C6"/>
<rect x="85.99" y="412.94" width="3.04" height="6.84" fill="#DE5518"/>
<rect x="85.99" y="397.91" width="3.04" height="15.03" fill="#F0B41E"/>
<rect x="85.99" y="370.17" width="3.04" height="27.74" fill="#812F91"/>
<rect x="85.99" y="313.1" width="3.04" height="57.07" fill="#79AF2E"/>
<rect x="89.63" y="413.55" width="3.04" height="21.75" fill="#0075C6"/>
<rect x="89.63" y="405.85" width="3.04" height="7.7" fill="#DE5518"/>
<rect x="89.63" y="388.86" width="3.04" height="16.99" fill="#F0B41E"/>
<rect x="89.63" y="356.36" width="3.04" height="32.51" fill="#812F91"/>
<rect x="89.63" y="313.1" width="3.04" height="43.26" fill="#79AF2E"/>
<rect x="93.26" y="409.03" width="3.04" height="26.27" fill="#0075C6"/>
<rect x="93.26" y="400.47" width="3.04" height="8.55" fill="#DE5518"/>
<rect x="93.26" y="381.78" width="3.04" height="18.7" fill="#F0B41E"/>
<rect x="93.26" y="344.14" width="3.04" height="37.64" fill="#812F91"/>
<rect x="93.26" y="313.1" width="3.04" height="31.04" fill="#79AF2E"/>
<rect x="96.9" y="403.77" width="3.04" height="31.53" fill="#0075C6"/>
<rect x="96.9" y="393.51" width="3.04" height="10.26" fill="#DE5518"/>
<rect x="96.9" y="372.86" width="3.04" height="20.65" fill="#F0B41E"/>
<rect x="96.9" y="331.06" width="3.04" height="41.79" fill="#812F91"/>
<rect x="96.9" y="313.1" width="3.04" height="17.96" fill="#79AF2E"/>
<rect x="100.53" y="398.4" width="3.04" height="36.9" fill="#0075C6"/>
<rect x="100.53" y="387.64" width="3.04" height="10.75" fill="#DE5518"/>
<rect x="100.53" y="364.55" width="3.04" height="23.1" fill="#F0B41E"/>
<rect x="100.53" y="319.58" width="3.04" height="44.97" fill="#812F91"/>
<rect x="100.53" y="313.1" width="3.04" height="6.48" fill="#79AF2E"/>
<rect x="104.17" y="392.65" width="3.04" height="42.65" fill="#0075C6"/>
<rect x="104.17" y="380.55" width="3.04" height="12.1" fill="#DE5518"/>
<rect x="104.17" y="355.75" width="3.04" height="24.81" fill="#F0B41E"/>
<rect x="104.17" y="313.96" width="3.04" height="41.79" fill="#812F91"/>
<rect x="104.17" y="313.1" width="3.04" height="0.86" fill="#79AF2E"/>
<rect x="107.8" y="388.99" width="3.04" height="46.31" fill="#0075C6"/>
<rect x="107.8" y="375.79" width="3.04" height="13.2" fill="#DE5518"/>
<rect x="107.8" y="349.88" width="3.04" height="25.91" fill="#F0B41E"/>
<rect x="107.8" y="313.1" width="3.04" height="36.78" fill="#812F91"/>
<rect x="111.44" y="384.22" width="3.04" height="51.08" fill="#0075C6"/>
<rect x="111.44" y="370.66" width="3.04" height="13.56" fill="#DE5518"/>
<rect x="111.44" y="343.16" width="3.04" height="27.5" fill="#F0B41E"/>
<rect x="111.44" y="313.1" width="3.04" height="30.06" fill="#812F91"/>
<rect x="115.07" y="381.65" width="3.04" height="53.65" fill="#0075C6"/>
<rect x="115.07" y="367.48" width="3.04" height="14.18" fill="#DE5518"/>
<rect x="115.07" y="338.76" width="3.04" height="28.72" fill="#F0B41E"/>
<rect x="115.07" y="313.1" width="3.04" height="25.66" fill="#812F91"/>
<rect x="118.7" y="379.7" width="3.04" height="55.6" fill="#0075C6"/>
<rect x="118.7" y="364.55" width="3.04" height="15.15" fill="#DE5518"/>
<rect x="118.7" y="336.44" width="3.04" height="28.11" fill="#F0B41E"/>
<rect x="118.7" y="313.1" width="3.04" height="23.34" fill="#812F91"/>
<rect x="122.34" y="377.5" width="3.04" height="57.8" fill="#0075C6"/>
<rect x="122.34" y="361.86" width="3.04" height="15.64" fill="#DE5518"/>
<rect x="122.34" y="332.65" width="3.04" height="29.21" fill="#F0B41E"/>
<rect x="122.34" y="313.1" width="3.04" height="19.55" fill="#812F91"/>
<rect x="125.97" y="375.06" width="3.04" height="60.24" fill="#0075C6"/>
<rect x="125.97" y="359.17" width="3.04" height="15.89" fill="#DE5518"/>
<rect x="125.97" y="328.74" width="3.04" height="30.43" fill="#F0B41E"/>
<rect x="125.97" y="313.1" width="3.04" height="15.64" fill="#812F91"/>
<rect x="129.61" y="373.47" width="3.04" height="61.83" fill="#0075C6"/>
<rect x="129.61" y="357.46" width="3.04" height="16.01" fill="#DE5518"/>
<rect x="129.61" y="327.76" width="3.04" height="29.69" fill="#F0B41E"/>
<rect x="129.61" y="313.1" width="3.04" height="14.66" fill="#812F91"/>
<rect x="133.24" y="370.17" width="3.04" height="65.13" fill="#0075C6"/>
<rect x="133.24" y="355.14" width="3.04" height="15.03" fill="#DE5518"/>
<rect x="133.24" y="324.46" width="3.04" height="30.67" fill="#F0B41E"/>
<rect x="133.24" y="313.1" width="3.04" height="11.36" fill="#812F91"/>
<rect x="136.88" y="368.58" width="3.04" height="66.72" fill="#0075C6"/>
<rect x="136.88" y="353.91" width="3.04" height="14.66" fill="#DE5518"/>
<rect x="136.88" y="322.75" width="3.04" height="31.16" fill="#F0B41E"/>
<rect x="136.88" y="313.1" width="3.04" height="9.65" fill="#812F91"/>
<rect x="140.51" y="367.97" width="3.04" height="67.33" fill="#0075C6"/>
<rect x="140.51" y="353.55" width="3.04" height="14.42" fill="#DE5518"/>
<rect x="140.51" y="322.02" width="3.04" height="31.53" fill="#F0B41E"/>
<rect x="140.51" y="313.1" width="3.04" height="8.92" fill="#812F91"/>
<rect x="144.15" y="366.01" width="3.04" height="69.29" fill="#0075C6"/>
<rect x="144.15" y="351.59" width="3.04" height="14.42" fill="#DE5518"/>
<rect x="144.15" y="320.8" width="3.04" height="30.79" fill="#F0B41E"/>
<rect x="144.15" y="313.1" width="3.04" height="7.7" fill="#812F91"/>
<rect x="147.78" y="364.67" width="3.04" height="70.63" fill="#0075C6"/>
<rect x="147.78" y="350.25" width="3.04" height="14.42" fill="#DE5518"/>
<rect x="147.78" y="319.82" width="3.04" height="30.43" fill="#F0B41E"/>
<rect x="147.78" y="313.1" width="3.04" height="6.72" fill="#812F91"/>
<rect x="151.42" y="364.3" width="3.04" height="71" fill="#0075C6"/>
<rect x="151.42" y="350.13" width="3.04" height="14.18" fill="#DE5518"/>
<rect x="151.42" y="319.58" width="3.04" height="30.55" fill="#F0B41E"/>
<rect x="151.42" y="313.1" width="3.04" height="6.48" fill="#812F91"/>
<rect x="155.05" y="363.81" width="3.04" height="71.49" fill="#0075C6"/>
<rect x="155.05" y="349.76" width="3.04" height="14.05" fill="#DE5518"/>
<rect x="155.05" y="319.58" width="3.04" height="30.18" fill="#F0B41E"/>
<rect x="155.05" y="313.1" width="3.04" height="6.48" fill="#812F91"/>
<rect x="158.69" y="362.84" width="3.04" height="72.46" fill="#0075C6"/>
<rect x="158.69" y="349.39" width="3.04" height="13.44" fill="#DE5518"/>
<rect x="158.69" y="318.84" width="3.04" height="30.55" fill="#F0B41E"/>
<rect x="158.69" y="313.1" width="3.04" height="5.74" fill="#812F91"/>
<rect x="162.32" y="361.37" width="3.04" height="73.93" fill="#0075C6"/>
<rect x="162.32" y="348.42" width="3.04" height="12.95" fill="#DE5518"/>
<rect x="162.32" y="317.87" width="3.04" height="30.55" fill="#F0B41E"/>
<rect x="162.32" y="313.1" width="3.04" height="4.77" fill="#812F91"/>
<rect x="165.96" y="362.35" width="3.04" height="72.95" fill="#0075C6"/>
<rect x="165.96" y="348.54" width="3.04" height="13.81" fill="#DE5518"/>
<rect x="165.96" y="318.84" width="3.04" height="29.69" fill="#F0B41E"/>
<rect x="165.96" y="313.1" width="3.04" height="5.74" fill="#812F91"/>
<rect x="169.59" y="360.64" width="3.04" height="74.66" fill="#0075C6"/>
<rect x="169.59" y="347.68" width="3.04" height="12.95" fill="#DE5518"/>
<rect x="169.59" y="318.23" width="3.04" height="29.45" fill="#F0B41E"/>
<rect x="169.59" y="313.1" width="3.04" height="5.13" fill="#812F91"/>
<rect x="173.22" y="360.39" width="3.04" height="74.91" fill="#0075C6"/>
<rect x="173.22" y="347.8" width="3.04" height="12.59" fill="#DE5518"/>
<rect x="173.22" y="316.89" width="3.04" height="30.92" fill="#F0B41E"/>
<rect x="173.22" y="313.1" width="3.04" height="3.79" fill="#812F91"/>
<rect x="176.86" y="360.39" width="3.04" height="74.91" fill="#0075C6"/>
<rect x="176.86" y="347.68" width="3.04" height="12.71" fill="#DE5518"/>
<rect x="176.86" y="316.64" width="3.04" height="31.04" fill="#F0B41E"/>
<rect x="176.86" y="313.1" width="3.04" height="3.54" fill="#812F91"/>
<rect x="180.49" y="361.37" width="3.04" height="73.93" fill="#0075C6"/>
<rect x="180.49" y="349.15" width="3.04" height="12.22" fill="#DE5518"/>
<rect x="180.49" y="317.74" width="3.04" height="31.41" fill="#F0B41E"/>
<rect x="180.49" y="313.1" width="3.04" height="4.64" fill="#812F91"/>
<rect x="184.13" y="360.39" width="3.04" height="74.91" fill="#0075C6"/>
<rect x="184.13" y="348.66" width="3.04" height="11.73" fill="#DE5518"/>
<rect x="184.13" y="317.25" width="3.04" height="31.41" fill="#F0B41E"/>
<rect x="184.13" y="313.1" width="3.04" height="4.15" fill="#812F91"/>
<rect x="187.76" y="360.88" width="3.04" height="74.42" fill="#0075C6"/>
<rect x="187.76" y="349.88" width="3.04" height="11" fill="#DE5518"/>
<rect x="187.76" y="317.74" width="3.04" height="32.14" fill="#F0B41E"/>
<rect x="187.76" y="313.1" width="3.04" height="4.64" fill="#812F91"/>
<rect x="191.4" y="359.9" width="3.04" height="75.4" fill="#0075C6"/>
<rect x="191.4" y="349.15" width="3.04" height="10.75" fill="#DE5518"/>
<rect x="191.4" y="317.74" width="3.04" height="31.41" fill="#F0B41E"/>
<rect x="191.4" y="313.1" width="3.04" height="4.64" fill="#812F91"/>
<rect x="195.03" y="359.54" width="3.04" height="75.76" fill="#0075C6"/>
<rect x="195.03" y="348.78" width="3.04" height="10.75" fill="#DE5518"/>
<rect x="195.03" y="317.25" width="3.04" height="31.53" fill="#F0B41E"/>
<rect x="195.03" y="313.1" width="3.04" height="4.15" fill="#812F91"/>
<rect x="198.67" y="359.66" width="3.04" height="75.64" fill="#0075C6"/>
<rect x="198.67" y="348.78" width="3.04" height="10.88" fill="#DE5518"/>
<rect x="198.67" y="318.23" width="3.04" height="30.55" fill="#F0B41E"/>
<rect x="198.67" y="313.1" width="3.04" height="5.13" fill="#812F91"/>
<rect x="202.3" y="359.05" width="3.04" height="76.25" fill="#0075C6"/>
<rect x="202.3" y="347.93" width="3.04" height="11.12" fill="#DE5518"/>
<rect x="202.3" y="318.23" width="3.04" height="29.69" fill="#F0B41E"/>
<rect x="202.3" y="313.1" width="3.04" height="5.13" fill="#812F91"/>
<rect x="205.94" y="358.56" width="3.04" height="76.74" fill="#0075C6"/>
<rect x="205.94" y="347.32" width="3.04" height="11.24" fill="#DE5518"/>
<rect x="205.94" y="318.72" width="3.04" height="28.59" fill="#F0B41E"/>
<rect x="205.94" y="313.1" width="3.04" height="5.62" fill="#812F91"/>
<rect x="209.57" y="359.05" width="3.04" height="76.25" fill="#0075C6"/>
<rect x="209.57" y="347.8" width="3.04" height="11.24" fill="#DE5518"/>
<rect x="209.57" y="319.58" width="3.04" height="28.23" fill="#F0B41E"/>
<rect x="209.57" y="313.1" width="3.04" height="6.48" fill="#812F91"/>
<rect x="213.21" y="359.54" width="3.04" height="75.76" fill="#0075C6"/>
<rect x="213.21" y="348.17" width="3.04" height="11.36" fill="#DE5518"/>
<rect x="213.21" y="319.58" width="3.04" height="28.59" fill="#F0B41E"/>
<rect x="213.21" y="313.1" width="3.04" height="6.48" fill="#812F91"/>
<rect x="216.84" y="359.9" width="3.04" height="75.4" fill="#0075C6"/>
<rect x="216.84" y="348.42" width="3.04" height="11.49" fill="#DE5518"/>
<rect x="216.84" y="319.58" width="3.04" height="28.84" fill="#F0B41E"/>
<rect x="216.84" y="313.1" width="3.04" height="6.48" fill="#812F91"/>
<rect x="220.48" y="357.46" width="3.04" height="77.84" fill="#0075C6"/>
<rect x="220.48" y="346.58" width="3.04" height="10.88" fill="#DE5518"/>
<rect x="220.48" y="317.25" width="3.04" height="29.33" fill="#F0B41E"/>
<rect x="220.48" y="313.1" width="3.04" height="4.15" fill="#812F91"/>
<rect x="224.11" y="359.05" width="3.04" height="76.25" fill="#0075C6"/>
<rect x="224.11" y="347.8" width="3.04" height="11.24" fill="#DE5518"/>
<rect x="224.11" y="317.74" width="3.04" height="30.06" fill="#F0B41E"/>
<rect x="224.11" y="313.1" width="3.04" height="4.64" fill="#812F91"/>
<rect x="227.75" y="359.29" width="3.04" height="76.01" fill="#0075C6"/>
<rect x="227.75" y="348.29" width="3.04" height="11" fill="#DE5518"/>
<rect x="227.75" y="318.23" width="3.04" height="30.06" fill="#F0B41E"/>
<rect x="227.75" y="313.1" width="3.04" height="5.13" fill="#812F91"/>
<rect x="231.38" y="359.9" width="3.04" height="75.4" fill="#0075C6"/>
<rect x="231.38" y="348.66" width="3.04" height="11.24" fill="#DE5518"/>
<rect x="231.38" y="318.84" width="3.04" height="29.82" fill="#F0B41E"/>
<rect x="231.38" y="313.1" width="3.04" height="5.74" fill="#812F91"/>
<path d="M53.28 313.1V435.3M56.32 313.1V435.3M53.28 313.1H56.32M53.28 435.3H56.32M56.91 313.1V435.3M59.95 313.1V435.3M56.91 313.1H59.95M56.91 435.3H59.95M60.55 313.1V435.3M63.59 313.1V435.3M60.55 313.1H63.59M60.55 435.3H63.59M64.18 313.1V435.3M67.22 313.1V435.3M64.18 313.1H67.22M64.18 435.3H67.22M67.82 313.1V435.3M70.86 313.1V435.3M67.82 430.17H70.86M67.82 313.1H70.86M67.82 435.3H70.86M71.45 313.1V435.3M74.49 313.1V435.3M71.45 432.73H74.49M71.45 419.05H74.49M71.45 313.1H74.49M71.45 435.3H74.49M75.09 313.1V435.3M78.13 313.1V435.3M75.09 432.86H78.13M75.09 422.35H78.13M75.09 406.58H78.13M75.09 313.1H78.13M75.09 435.3H78.13M78.72 313.1V435.3M81.76 313.1V435.3M78.72 430.9H81.76M78.72 424.79H81.76M78.72 412.94H81.76M78.72 394.12H81.76M78.72 313.1H81.76M78.72 435.3H81.76M82.36 313.1V435.3M85.4 313.1V435.3M82.36 425.4H85.4M82.36 418.8H85.4M82.36 405.73H85.4M82.36 382.75H85.4M82.36 313.1H85.4M82.36 435.3H85.4M85.99 313.1V435.3M89.03 313.1V435.3M85.99 419.78H89.03M85.99 412.94H89.03M85.99 397.91H89.03M85.99 370.17H89.03M85.99 313.1H89.03M85.99 435.3H89.03M89.63 313.1V435.3M92.67 313.1V435.3M89.63 413.55H92.67M89.63 405.85H92.67M89.63 388.86H92.67M89.63 356.36H92.67M89.63 313.1H92.67M89.63 435.3H92.67M93.26 313.1V435.3M96.3 313.1V435.3M93.26 409.03H96.3M93.26 400.47H96.3M93.26 381.78H96.3M93.26 344.14H96.3M93.26 313.1H96.3M93.26 435.3H96.3M96.9 313.1V435.3M99.94 313.1V435.3M96.9 403.77H99.94M96.9 393.51H99.94M96.9 372.86H99.94M96.9 331.06H99.94M96.9 313.1H99.94M96.9 435.3H99.94M100.53 313.1V435.3M103.57 313.1V435.3M100.53 398.4H103.57M100.53 387.64H103.57M100.53 364.55H103.57M100.53 319.58H103.57M100.53 313.1H103.57M100.53 435.3H103.57M104.17 313.1V435.3M107.21 313.1V435.3M104.17 392.65H107.21M104.17 380.55H107.21M104.17 355.75H107.21M104.17 313.96H107.21M104.17 313.1H107.21M104.17 435.3H107.21M107.8 313.1V435.3M110.84 313.1V435.3M107.8 388.99H110.84M107.8 375.79H110.84M107.8 349.88H110.84M107.8 313.1H110.84M107.8 435.3H110.84M111.44 313.1V435.3M114.48 313.1V435.3M111.44 384.22H114.48M111.44 370.66H114.48M111.44 343.16H114.48M111.44 313.1H114.48M111.44 435.3H114.48M115.07 313.1V435.3M118.11 313.1V435.3M115.07 381.65H118.11M115.07 367.48H118.11M115.07 338.76H118.11M115.07 313.1H118.11M115.07 435.3H118.11M118.7 313.1V435.3M121.74 313.1V435.3M118.7 379.7H121.74M118.7 364.55H121.74M118.7 336.44H121.74M118.7 313.1H121.74M118.7 435.3H121.74M122.34 313.1V435.3M125.38 313.1V435.3M122.34 377.5H125.38M122.34 361.86H125.38M122.34 332.65H125.38M122.34 313.1H125.38M122.34 435.3H125.38M125.97 313.1V435.3M129.01 313.1V435.3M125.97 375.06H129.01M125.97 359.17H129.01M125.97 328.74H129.01M125.97 313.1H129.01M125.97 435.3H129.01M129.61 313.1V435.3M132.65 313.1V435.3M129.61 373.47H132.65M129.61 357.46H132.65M129.61 327.76H132.65M129.61 313.1H132.65M129.61 435.3H132.65M133.24 313.1V435.3M136.28 313.1V435.3M133.24 370.17H136.28M133.24 355.14H136.28M133.24 324.46H136.28M133.24 313.1H136.28M133.24 435.3H136.28M136.88 313.1V435.3M139.92 313.1V435.3M136.88 368.58H139.92M136.88 353.91H139.92M136.88 322.75H139.92M136.88 313.1H139.92M136.88 435.3H139.92M140.51 313.1V435.3M143.55 313.1V435.3M140.51 367.97H143.55M140.51 353.55H143.55M140.51 322.02H143.55M140.51 313.1H143.55M140.51 435.3H143.55M144.15 313.1V435.3M147.19 313.1V435.3M144.15 366.01H147.19M144.15 351.59H147.19M144.15 320.8H147.19M144.15 313.1H147.19M144.15 435.3H147.19M147.78 313.1V435.3M150.82 313.1V435.3M147.78 364.67H150.82M147.78 350.25H150.82M147.78 319.82H150.82M147.78 313.1H150.82M147.78 435.3H150.82M151.42 313.1V435.3M154.46 313.1V435.3M151.42 364.3H154.46M151.42 350.13H154.46M151.42 319.58H154.46M151.42 313.1H154.46M151.42 435.3H154.46M155.05 313.1V435.3M158.09 313.1V435.3M155.05 363.81H158.09M155.05 349.76H158.09M155.05 319.58H158.09M155.05 313.1H158.09M155.05 435.3H158.09M158.69 313.1V435.3M161.73 313.1V435.3M158.69 362.84H161.73M158.69 349.39H161.73M158.69 318.84H161.73M158.69 313.1H161.73M158.69 435.3H161.73M162.32 313.1V435.3M165.36 313.1V435.3M162.32 361.37H165.36M162.32 348.42H165.36M162.32 317.87H165.36M162.32 313.1H165.36M162.32 435.3H165.36M165.96 313.1V435.3M169 313.1V435.3M165.96 362.35H169M165.96 348.54H169M165.96 318.84H169M165.96 313.1H169M165.96 435.3H169M169.59 313.1V435.3M172.63 313.1V435.3M169.59 360.64H172.63M169.59 347.68H172.63M169.59 318.23H172.63M169.59 313.1H172.63M169.59 435.3H172.63M173.22 313.1V435.3M176.26 313.1V435.3M173.22 360.39H176.26M173.22 347.8H176.26M173.22 316.89H176.26M173.22 313.1H176.26M173.22 435.3H176.26M176.86 313.1V435.3M179.9 313.1V435.3M176.86 360.39H179.9M176.86 347.68H179.9M176.86 316.64H179.9M176.86 313.1H179.9M176.86 435.3H179.9M180.49 313.1V435.3M183.53 313.1V435.3M180.49 361.37H183.53M180.49 349.15H183.53M180.49 317.74H183.53M180.49 313.1H183.53M180.49 435.3H183.53M184.13 313.1V435.3M187.17 313.1V435.3M184.13 360.39H187.17M184.13 348.66H187.17M184.13 317.25H187.17M184.13 313.1H187.17M184.13 435.3H187.17M187.76 313.1V435.3M190.8 313.1V435.3M187.76 360.88H190.8M187.76 349.88H190.8M187.76 317.74H190.8M187.76 313.1H190.8M187.76 435.3H190.8M191.4 313.1V435.3M194.44 313.1V435.3M191.4 359.9H194.44M191.4 349.15H194.44M191.4 317.74H194.44M191.4 313.1H194.44M191.4 435.3H194.44M195.03 313.1V435.3M198.07 313.1V435.3M195.03 359.54H198.07M195.03 348.78H198.07M195.03 317.25H198.07M195.03 313.1H198.07M195.03 435.3H198.07M198.67 313.1V435.3M201.71 313.1V435.3M198.67 359.66H201.71M198.67 348.78H201.71M198.67 318.23H201.71M198.67 313.1H201.71M198.67 435.3H201.71M202.3 313.1V435.3M205.34 313.1V435.3M202.3 359.05H205.34M202.3 347.93H205.34M202.3 318.23H205.34M202.3 313.1H205.34M202.3 435.3H205.34M205.94 313.1V435.3M208.98 313.1V435.3M205.94 358.56H208.98M205.94 347.32H208.98M205.94 318.72H208.98M205.94 313.1H208.98M205.94 435.3H208.98M209.57 313.1V435.3M212.61 313.1V435.3M209.57 359.05H212.61M209.57 347.8H212.61M209.57 319.58H212.61M209.57 313.1H212.61M209.57 435.3H212.61M213.21 313.1V435.3M216.25 313.1V435.3M213.21 359.54H216.25M213.21 348.17H216.25M213.21 319.58H216.25M213.21 313.1H216.25M213.21 435.3H216.25M216.84 313.1V435.3M219.88 313.1V435.3M216.84 359.9H219.88M216.84 348.42H219.88M216.84 319.58H219.88M216.84 313.1H219.88M216.84 435.3H219.88M220.48 313.1V435.3M223.52 313.1V435.3M220.48 357.46H223.52M220.48 346.58H223.52M220.48 317.25H223.52M220.48 313.1H223.52M220.48 435.3H223.52M224.11 313.1V435.3M227.15 313.1V435.3M224.11 359.05H227.15M224.11 347.8H227.15M224.11 317.74H227.15M224.11 313.1H227.15M224.11 435.3H227.15M227.75 313.1V435.3M230.79 313.1V435.3M227.75 359.29H230.79M227.75 348.29H230.79M227.75 318.23H230.79M227.75 313.1H230.79M227.75 435.3H230.79M231.38 313.1V435.3M234.42 313.1V435.3M231.38 359.9H234.42M231.38 348.66H234.42M231.38 318.84H234.42M231.38 313.1H234.42M231.38 435.3H234.42" stroke="#000" stroke-width="0.75" fill="none"/>
<rect x="50.6" y="313.1" width="186.8" height="122.2" fill="none" stroke="#6e6e6e" stroke-width="0.8"/>
<path d="M50.6 435.3h1.8M237.4 435.3h-1.8M50.6 410.86h1.8M237.4 410.86h-1.8M50.6 386.42h1.8M237.4 386.42h-1.8M50.6 361.98h1.8M237.4 361.98h-1.8M50.6 337.54h1.8M237.4 337.54h-1.8M50.6 313.1h1.8M237.4 313.1h-1.8" stroke="#6e6e6e" stroke-width="0.7"/>
<text x="50.48" y="140.93" font-size="12.36" textLength="7.47" lengthAdjust="spacingAndGlyphs" fill="#262626">0</text>
<text x="80.45" y="140.93" font-size="12.36" textLength="14.20" lengthAdjust="spacingAndGlyphs" fill="#262626">50</text>
<text x="113.90" y="140.93" font-size="12.36" textLength="21.91" lengthAdjust="spacingAndGlyphs" fill="#262626">100</text>
<text x="151.60" y="140.93" font-size="12.36" textLength="21.81" lengthAdjust="spacingAndGlyphs" fill="#262626">150</text>
<text x="189.95" y="140.93" font-size="12.36" textLength="21.55" lengthAdjust="spacingAndGlyphs" fill="#262626">200</text>
<text x="224.23" y="140.93" font-size="12.36" textLength="22.08" lengthAdjust="spacingAndGlyphs" fill="#262626">250</text>
<text x="109.91" y="152.70" font-size="12.20" textLength="67.38" lengthAdjust="spacingAndGlyphs" fill="#262626">Time (mins)</text>
<text x="38.38" y="130.38" font-size="11.86" textLength="7.45" lengthAdjust="spacingAndGlyphs" fill="#262626">0</text>
<text x="27.39" y="107.38" font-size="11.86" textLength="18.17" lengthAdjust="spacingAndGlyphs" fill="#262626">0.2</text>
<text x="27.40" y="82.58" font-size="11.86" textLength="17.88" lengthAdjust="spacingAndGlyphs" fill="#262626">0.4</text>
<text x="27.39" y="58.38" font-size="11.86" textLength="18.08" lengthAdjust="spacingAndGlyphs" fill="#262626">0.6</text>
<text x="27.39" y="35.58" font-size="11.86" textLength="18.07" lengthAdjust="spacingAndGlyphs" fill="#262626">0.8</text>
<text x="37.90" y="10.08" font-size="11.86" fill="#262626">1</text>
<text x="260.99" y="140.93" font-size="12.36" textLength="7.21" lengthAdjust="spacingAndGlyphs" fill="#262626">0</text>
<text x="290.92" y="140.93" font-size="12.36" textLength="14.59" lengthAdjust="spacingAndGlyphs" fill="#262626">50</text>
<text x="324.18" y="140.93" font-size="12.36" textLength="22.45" lengthAdjust="spacingAndGlyphs" fill="#262626">100</text>
<text x="361.99" y="140.93" font-size="12.36" textLength="22.13" lengthAdjust="spacingAndGlyphs" fill="#262626">150</text>
<text x="399.33" y="140.93" font-size="12.36" textLength="22.19" lengthAdjust="spacingAndGlyphs" fill="#262626">200</text>
<text x="435.14" y="140.93" font-size="12.36" textLength="21.77" lengthAdjust="spacingAndGlyphs" fill="#262626">250</text>
<text x="323.16" y="152.70" font-size="12.20" textLength="67.38" lengthAdjust="spacingAndGlyphs" fill="#262626">Time (mins)</text>
<text x="252.83" y="131.28" font-size="11.86" textLength="6.75" lengthAdjust="spacingAndGlyphs" fill="#262626">0</text>
<text x="241.59" y="108.78" font-size="11.86" textLength="18.17" lengthAdjust="spacingAndGlyphs" fill="#262626">0.2</text>
<text x="241.60" y="84.28" font-size="11.86" textLength="17.88" lengthAdjust="spacingAndGlyphs" fill="#262626">0.4</text>
<text x="241.59" y="59.88" font-size="11.86" textLength="18.08" lengthAdjust="spacingAndGlyphs" fill="#262626">0.6</text>
<text x="241.59" y="36.48" font-size="11.86" textLength="18.07" lengthAdjust="spacingAndGlyphs" fill="#262626">0.8</text>
<text x="252.40" y="11.48" font-size="11.86" fill="#262626">1</text>
<text x="471.13" y="140.93" font-size="12.36" textLength="8.14" lengthAdjust="spacingAndGlyphs" fill="#262626">0</text>
<text x="501.63" y="140.93" font-size="12.36" textLength="15.72" lengthAdjust="spacingAndGlyphs" fill="#262626">50</text>
<text x="534.68" y="140.93" font-size="12.36" textLength="22.34" lengthAdjust="spacingAndGlyphs" fill="#262626">100</text>
<text x="572.15" y="140.93" font-size="12.36" textLength="22.99" lengthAdjust="spacingAndGlyphs" fill="#262626">150</text>
<text x="610.02" y="140.93" font-size="12.36" textLength="22.61" lengthAdjust="spacingAndGlyphs" fill="#262626">200</text>
<text x="645.63" y="140.93" font-size="12.36" textLength="22.19" lengthAdjust="spacingAndGlyphs" fill="#262626">250</text>
<text x="530.56" y="152.70" font-size="12.20" textLength="67.38" lengthAdjust="spacingAndGlyphs" fill="#262626">Time (mins)</text>
<text x="461.10" y="131.28" font-size="11.86" textLength="7.10" lengthAdjust="spacingAndGlyphs" fill="#262626">0</text>
<text x="449.68" y="108.78" font-size="11.86" textLength="18.38" lengthAdjust="spacingAndGlyphs" fill="#262626">0.2</text>
<text x="449.69" y="84.28" font-size="11.86" textLength="18.09" lengthAdjust="spacingAndGlyphs" fill="#262626">0.4</text>
<text x="449.69" y="59.88" font-size="11.86" textLength="18.29" lengthAdjust="spacingAndGlyphs" fill="#262626">0.6</text>
<text x="449.69" y="36.48" font-size="11.86" textLength="18.29" lengthAdjust="spacingAndGlyphs" fill="#262626">0.8</text>
<text x="460.70" y="11.48" font-size="11.86" fill="#262626">1</text>
<text x="51.08" y="293.68" font-size="12.36" textLength="7.47" lengthAdjust="spacingAndGlyphs" fill="#262626">0</text>
<text x="81.05" y="293.68" font-size="12.36" textLength="14.20" lengthAdjust="spacingAndGlyphs" fill="#262626">50</text>
<text x="114.50" y="293.68" font-size="12.36" textLength="21.91" lengthAdjust="spacingAndGlyphs" fill="#262626">100</text>
<text x="152.20" y="293.68" font-size="12.36" textLength="21.81" lengthAdjust="spacingAndGlyphs" fill="#262626">150</text>
<text x="190.55" y="293.68" font-size="12.36" textLength="21.55" lengthAdjust="spacingAndGlyphs" fill="#262626">200</text>
<text x="224.83" y="293.68" font-size="12.36" textLength="22.08" lengthAdjust="spacingAndGlyphs" fill="#262626">250</text>
<text x="110.06" y="305.20" font-size="12.20" textLength="67.38" lengthAdjust="spacingAndGlyphs" fill="#262626">Time (mins)</text>
<text x="38.38" y="284.68" font-size="11.86" textLength="7.45" lengthAdjust="spacingAndGlyphs" fill="#262626">0</text>
<text x="27.39" y="261.68" font-size="11.86" textLength="18.17" lengthAdjust="spacingAndGlyphs" fill="#262626">0.2</text>
<text x="27.40" y="236.88" font-size="11.86" textLength="17.88" lengthAdjust="spacingAndGlyphs" fill="#262626">0.4</text>
<text x="27.39" y="212.68" font-size="11.86" textLength="18.08" lengthAdjust="spacingAndGlyphs" fill="#262626">0.6</text>
<text x="27.39" y="189.88" font-size="11.86" textLength="18.07" lengthAdjust="spacingAndGlyphs" fill="#262626">0.8</text>
<text x="37.90" y="164.38" font-size="11.86" fill="#262626">1</text>
<text x="261.49" y="293.68" font-size="12.36" textLength="7.21" lengthAdjust="spacingAndGlyphs" fill="#262626">0</text>
<text x="291.42" y="293.68" font-size="12.36" textLength="14.59" lengthAdjust="spacingAndGlyphs" fill="#262626">50</text>
<text x="324.68" y="293.68" font-size="12.36" textLength="22.45" lengthAdjust="spacingAndGlyphs" fill="#262626">100</text>
<text x="362.49" y="293.68" font-size="12.36" textLength="22.13" lengthAdjust="spacingAndGlyphs" fill="#262626">150</text>
<text x="399.83" y="293.68" font-size="12.36" textLength="22.19" lengthAdjust="spacingAndGlyphs" fill="#262626">200</text>
<text x="435.64" y="293.68" font-size="12.36" textLength="21.77" lengthAdjust="spacingAndGlyphs" fill="#262626">250</text>
<text x="323.96" y="305.20" font-size="12.20" textLength="67.38" lengthAdjust="spacingAndGlyphs" fill="#262626">Time (mins)</text>
<text x="252.83" y="285.58" font-size="11.86" textLength="6.75" lengthAdjust="spacingAndGlyphs" fill="#262626">0</text>
<text x="241.59" y="263.08" font-size="11.86" textLength="18.17" lengthAdjust="spacingAndGlyphs" fill="#262626">0.2</text>
<text x="241.60" y="238.58" font-size="11.86" textLength="17.88" lengthAdjust="spacingAndGlyphs" fill="#262626">0.4</text>
<text x="241.59" y="214.18" font-size="11.86" textLength="18.08" lengthAdjust="spacingAndGlyphs" fill="#262626">0.6</text>
<text x="241.59" y="190.78" font-size="11.86" textLength="18.07" lengthAdjust="spacingAndGlyphs" fill="#262626">0.8</text>
<text x="252.40" y="165.78" font-size="11.86" fill="#262626">1</text>
<text x="471.53" y="293.68" font-size="12.36" textLength="8.14" lengthAdjust="spacingAndGlyphs" fill="#262626">0</text>
<text x="502.03" y="293.68" font-size="12.36" textLength="15.72" lengthAdjust="spacingAndGlyphs" fill="#262626">50</text>
<text x="535.08" y="293.68" font-size="12.36" textLength="22.34" lengthAdjust="spacingAndGlyphs" fill="#262626">100</text>
<text x="572.55" y="293.68" font-size="12.36" textLength="22.99" lengthAdjust="spacingAndGlyphs" fill="#262626">150</text>
<text x="610.42" y="293.68" font-size="12.36" textLength="22.61" lengthAdjust="spacingAndGlyphs" fill="#262626">200</text>
<text x="646.03" y="293.68" font-size="12.36" textLength="22.19" lengthAdjust="spacingAndGlyphs" fill="#262626">250</text>
<text x="531.56" y="305.20" font-size="12.20" textLength="67.38" lengthAdjust="spacingAndGlyphs" fill="#262626">Time (mins)</text>
<text x="461.10" y="285.58" font-size="11.86" textLength="7.10" lengthAdjust="spacingAndGlyphs" fill="#262626">0</text>
<text x="449.68" y="263.08" font-size="11.86" textLength="18.38" lengthAdjust="spacingAndGlyphs" fill="#262626">0.2</text>
<text x="449.69" y="238.58" font-size="11.86" textLength="18.09" lengthAdjust="spacingAndGlyphs" fill="#262626">0.4</text>
<text x="449.69" y="214.18" font-size="11.86" textLength="18.29" lengthAdjust="spacingAndGlyphs" fill="#262626">0.6</text>
<text x="449.69" y="190.78" font-size="11.86" textLength="18.29" lengthAdjust="spacingAndGlyphs" fill="#262626">0.8</text>
<text x="460.70" y="165.78" font-size="11.86" fill="#262626">1</text>
<text x="51.18" y="450.98" font-size="12.36" textLength="7.47" lengthAdjust="spacingAndGlyphs" fill="#262626">0</text>
<text x="81.15" y="450.98" font-size="12.36" textLength="14.20" lengthAdjust="spacingAndGlyphs" fill="#262626">50</text>
<text x="114.60" y="450.98" font-size="12.36" textLength="21.91" lengthAdjust="spacingAndGlyphs" fill="#262626">100</text>
<text x="152.30" y="450.98" font-size="12.36" textLength="21.81" lengthAdjust="spacingAndGlyphs" fill="#262626">150</text>
<text x="190.65" y="450.98" font-size="12.36" textLength="21.55" lengthAdjust="spacingAndGlyphs" fill="#262626">200</text>
<text x="224.93" y="450.98" font-size="12.36" textLength="22.08" lengthAdjust="spacingAndGlyphs" fill="#262626">250</text>
<text x="110.06" y="461.60" font-size="12.20" textLength="67.38" lengthAdjust="spacingAndGlyphs" fill="#262626">Time (mins)</text>
<text x="38.38" y="436.88" font-size="11.86" textLength="7.45" lengthAdjust="spacingAndGlyphs" fill="#262626">0</text>
<text x="27.39" y="413.88" font-size="11.86" textLength="18.17" lengthAdjust="spacingAndGlyphs" fill="#262626">0.2</text>
<text x="27.40" y="389.08" font-size="11.86" textLength="17.88" lengthAdjust="spacingAndGlyphs" fill="#262626">0.4</text>
<text x="27.39" y="364.88" font-size="11.86" textLength="18.08" lengthAdjust="spacingAndGlyphs" fill="#262626">0.6</text>
<text x="27.39" y="342.08" font-size="11.86" textLength="18.07" lengthAdjust="spacingAndGlyphs" fill="#262626">0.8</text>
<text x="37.90" y="316.58" font-size="11.86" fill="#262626">1</text>
<text transform="translate(162.91 119.53) scale(1.075 1)" font-size="19.63" fill="#fff" stroke="#fff" stroke-width="0.6" stroke-linejoin="round" font-weight="bold">(</text>
<text transform="translate(169.59 119.13) scale(1.075 1)" font-size="17.37" fill="#fff" stroke="#fff" stroke-width="0.6" stroke-linejoin="round" font-weight="bold">a</text>
<text transform="translate(179.63 119.53) scale(1.075 1)" font-size="19.63" fill="#fff" stroke="#fff" stroke-width="0.6" stroke-linejoin="round" font-weight="bold">)</text>
<text transform="translate(191.38 119.13) scale(1.075 1)" font-size="17.37" fill="#fff" stroke="#fff" stroke-width="0.6" stroke-linejoin="round" font-weight="bold">0</text>
<ellipse cx="205.50" cy="109.90" rx="2.45" ry="2.15" fill="none" stroke="#fff" stroke-width="1.7"/>
<text transform="translate(370.87 119.53) scale(1.105 1)" font-size="19.63" fill="#fff" stroke="#fff" stroke-width="0.6" stroke-linejoin="round" font-weight="bold">(</text>
<text transform="translate(377.74 119.13) scale(1.105 1)" font-size="17.37" fill="#fff" stroke="#fff" stroke-width="0.6" stroke-linejoin="round" font-weight="bold">b</text>
<text transform="translate(389.11 119.53) scale(1.105 1)" font-size="19.63" fill="#fff" stroke="#fff" stroke-width="0.6" stroke-linejoin="round" font-weight="bold">)</text>
<text transform="translate(401.18 119.13) scale(1.105 1)" font-size="17.37" fill="#fff" stroke="#fff" stroke-width="0.6" stroke-linejoin="round" font-weight="bold">1</text>
<text transform="translate(411.86 119.13) scale(1.105 1)" font-size="17.37" fill="#fff" stroke="#fff" stroke-width="0.6" stroke-linejoin="round" font-weight="bold">5</text>
<ellipse cx="426.25" cy="109.90" rx="2.30" ry="2.15" fill="none" stroke="#fff" stroke-width="1.7"/>
<text transform="translate(591.42 119.53) scale(1.064 1)" font-size="19.63" fill="#fff" stroke="#fff" stroke-width="0.6" stroke-linejoin="round" font-weight="bold">(</text>
<text transform="translate(598.03 119.13) scale(1.064 1)" font-size="17.37" fill="#fff" stroke="#fff" stroke-width="0.6" stroke-linejoin="round" font-weight="bold">c</text>
<text transform="translate(607.97 119.53) scale(1.064 1)" font-size="19.63" fill="#fff" stroke="#fff" stroke-width="0.6" stroke-linejoin="round" font-weight="bold">)</text>
<text transform="translate(619.60 119.13) scale(1.064 1)" font-size="17.37" fill="#fff" stroke="#fff" stroke-width="0.6" stroke-linejoin="round" font-weight="bold">3</text>
<text transform="translate(629.88 119.13) scale(1.064 1)" font-size="17.37" fill="#fff" stroke="#fff" stroke-width="0.6" stroke-linejoin="round" font-weight="bold">0</text>
<ellipse cx="644.15" cy="109.90" rx="2.80" ry="2.15" fill="none" stroke="#fff" stroke-width="1.7"/>
<text transform="translate(162.25 270.13) scale(1.054 1)" font-size="19.63" fill="#fff" stroke="#fff" stroke-width="0.6" stroke-linejoin="round" font-weight="bold">(</text>
<text transform="translate(168.83 269.93) scale(1.054 1)" font-size="17.51" fill="#fff" stroke="#fff" stroke-width="0.6" stroke-linejoin="round" font-weight="bold">d</text>
<text transform="translate(179.79 270.13) scale(1.054 1)" font-size="19.63" fill="#fff" stroke="#fff" stroke-width="0.6" stroke-linejoin="round" font-weight="bold">)</text>
<text transform="translate(191.38 269.93) scale(1.054 1)" font-size="17.51" fill="#fff" stroke="#fff" stroke-width="0.6" stroke-linejoin="round" font-weight="bold">4</text>
<text transform="translate(201.65 269.93) scale(1.054 1)" font-size="17.51" fill="#fff" stroke="#fff" stroke-width="0.6" stroke-linejoin="round" font-weight="bold">5</text>
<ellipse cx="216.70" cy="260.60" rx="3.25" ry="2.15" fill="none" stroke="#fff" stroke-width="1.7"/>
<text transform="translate(371.19 270.13) scale(1.107 1)" font-size="19.63" fill="#fff" stroke="#fff" stroke-width="0.6" stroke-linejoin="round" font-weight="bold">(</text>
<text transform="translate(378.09 269.93) scale(1.107 1)" font-size="17.51" fill="#fff" stroke="#fff" stroke-width="0.6" stroke-linejoin="round" font-weight="bold">e</text>
<text transform="translate(388.54 270.13) scale(1.107 1)" font-size="19.63" fill="#fff" stroke="#fff" stroke-width="0.6" stroke-linejoin="round" font-weight="bold">)</text>
<text transform="translate(400.72 269.93) scale(1.107 1)" font-size="17.51" fill="#fff" stroke="#fff" stroke-width="0.6" stroke-linejoin="round" font-weight="bold">6</text>
<text transform="translate(411.51 269.93) scale(1.107 1)" font-size="17.51" fill="#fff" stroke="#fff" stroke-width="0.6" stroke-linejoin="round" font-weight="bold">0</text>
<ellipse cx="425.65" cy="260.60" rx="2.50" ry="2.15" fill="none" stroke="#fff" stroke-width="1.7"/>
<text transform="translate(591.12 270.13) scale(1.161 1)" font-size="19.63" fill="#fff" stroke="#fff" stroke-width="0.6" stroke-linejoin="round" font-weight="bold">(</text>
<text transform="translate(598.36 269.93) scale(1.161 1)" font-size="17.51" fill="#fff" stroke="#fff" stroke-width="0.6" stroke-linejoin="round" font-weight="bold">f</text>
<text transform="translate(604.78 270.13) scale(1.161 1)" font-size="19.63" fill="#fff" stroke="#fff" stroke-width="0.6" stroke-linejoin="round" font-weight="bold">)</text>
<text transform="translate(617.55 269.93) scale(1.161 1)" font-size="17.51" fill="#fff" stroke="#fff" stroke-width="0.6" stroke-linejoin="round" font-weight="bold">7</text>
<text transform="translate(628.86 269.93) scale(1.161 1)" font-size="17.51" fill="#fff" stroke="#fff" stroke-width="0.6" stroke-linejoin="round" font-weight="bold">5</text>
<ellipse cx="643.50" cy="260.60" rx="2.25" ry="2.15" fill="none" stroke="#fff" stroke-width="1.7"/>
<text transform="translate(162.20 423.98) scale(1.050 1)" font-size="19.85" fill="#fff" stroke="#fff" stroke-width="0.6" stroke-linejoin="round" font-weight="bold">(</text>
<text transform="translate(168.77 423.33) scale(1.050 1)" font-size="17.37" fill="#fff" stroke="#fff" stroke-width="0.6" stroke-linejoin="round" font-weight="bold">g</text>
<text transform="translate(179.54 423.98) scale(1.050 1)" font-size="19.85" fill="#fff" stroke="#fff" stroke-width="0.6" stroke-linejoin="round" font-weight="bold">)</text>
<text transform="translate(191.06 423.33) scale(1.050 1)" font-size="17.37" fill="#fff" stroke="#fff" stroke-width="0.6" stroke-linejoin="round" font-weight="bold">9</text>
<text transform="translate(201.20 423.33) scale(1.050 1)" font-size="17.37" fill="#fff" stroke="#fff" stroke-width="0.6" stroke-linejoin="round" font-weight="bold">0</text>
<ellipse cx="215.40" cy="414.10" rx="2.75" ry="2.15" fill="none" stroke="#fff" stroke-width="1.7"/>
<text x="-301.38" y="15.25" font-size="19.40" textLength="192.12" lengthAdjust="spacingAndGlyphs" fill="#000" transform="rotate(-90)" stroke="#000" stroke-width="0.35">Fracture Area Fraction</text>
<rect x="255.5" y="321.2" width="85.8" height="108.9" fill="#fff" stroke="#555" stroke-width="0.9"/>
<rect x="256.5" y="328.8" width="13.8" height="8.4" fill="#0075C6" stroke="#111" stroke-width="0.8"/>
<text x="271.54" y="340.03" font-size="17.00">~100%</text>
<rect x="256.5" y="350.4" width="13.8" height="8.4" fill="#DE5518" stroke="#111" stroke-width="0.8"/>
<text x="271.43" y="361.63" font-size="17.00">75-100%</text>
<rect x="256.5" y="372" width="13.8" height="8.4" fill="#F0B41E" stroke="#111" stroke-width="0.8"/>
<text x="271.62" y="383.23" font-size="17.00">50-75%</text>
<rect x="256.5" y="393.6" width="13.8" height="8.4" fill="#812F91" stroke="#111" stroke-width="0.8"/>
<text x="271.45" y="404.83" font-size="17.00">25-50%</text>
<rect x="256.5" y="415.2" width="13.8" height="8.4" fill="#79AF2E" stroke="#111" stroke-width="0.8"/>
<text x="271.46" y="426.43" font-size="17.00">&lt;25%</text>
<rect x="371.4" y="395.0" width="94.2" height="9.4" fill="#5B9BD5"/>
<rect x="371.4" y="383.5" width="94.2" height="20.9" fill="none" stroke="#222" stroke-width="1"/>
<text x="392.03" y="402.40" font-size="8.58" textLength="49.97" lengthAdjust="spacingAndGlyphs" fill="#0f1a2e" stroke="#0f1a2e" stroke-width="0.25">Denser fluid</text>
<path d="M361.2 386.5H367" stroke="#000" stroke-width="1.1"/><path d="M370.1 386.5l-4.2-2v4z" fill="#000"/>
<path d="M495.93 386.17L519.81 378L585.87 378L502.86 406.42Z" fill="#5B9BD5"/>
<path d="M497.23 386.89L520.5 378.6" stroke="#fff" stroke-width="0.8" fill="none"/>
<path d="M495.93 386.17L583.54 356.18L590.47 376.43L502.86 406.42Z" fill="none" stroke="#222" stroke-width="1"/>
<text transform="translate(528.0 394.7) rotate(-17.6)" x="-25.09" y="0" font-size="9.5" textLength="50.18" lengthAdjust="spacingAndGlyphs" fill="#0f1a2e" stroke="#0f1a2e" stroke-width="0.3">Denser fluid</text>
<path d="M481 391.4L490.9 390.1" stroke="#000" stroke-width="1.1"/><path d="M494.2 389.7l-4.1-2.2 0.5 4z" fill="#000"/>
<rect x="623.6" y="348.0" width="20.8" height="75.0" fill="#5B9BD5"/>
<path d="M626.3 349.5 q-1.3 8 0 16 q1 10 -0.5 22 q-1 16 0.2 34.5" stroke="#fff" stroke-width="0.8" fill="none" opacity="0.85"/>
<rect x="623.6" y="325.5" width="20.8" height="97.6" fill="none" stroke="#333" stroke-width="1"/>
<text x="-421.89" y="639.80" font-size="9.45" textLength="51.62" lengthAdjust="spacingAndGlyphs" fill="#0f1a2e" transform="rotate(-90)" stroke="#0f1a2e" stroke-width="0.3">Denser fluid</text>
<path d="M626.3 435.7V428" stroke="#000" stroke-width="1.1"/><path d="M626.3 424.6l-2.2 4h4.4z" fill="#000"/>
<path d="M375.1 446.1H638" stroke="#000" stroke-width="1.5"/><path d="M642.4 446.1l-5.4-2.6v5.2z" fill="#000"/>
<text x="374.21" y="463.73" font-size="16.95" textLength="9.89" lengthAdjust="spacingAndGlyphs" fill="#000">0</text>
<text x="618.86" y="463.73" font-size="16.95" textLength="19.83" lengthAdjust="spacingAndGlyphs" fill="#000">90</text>
<ellipse cx="387.6" cy="455.0" rx="2.0" ry="2.2" fill="none" stroke="#000" stroke-width="1.3"/>
<ellipse cx="641.4" cy="455.0" rx="2.0" ry="2.2" fill="none" stroke="#000" stroke-width="1.3"/>
</g>
</svg>
</body></html>
